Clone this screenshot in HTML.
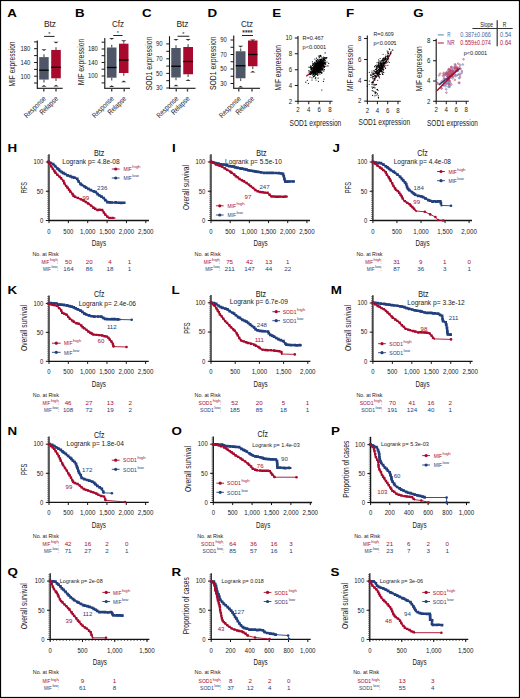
<!DOCTYPE html><html><head><meta charset="utf-8"><style>html,body{margin:0;padding:0;background:#fff;width:520px;height:698px;overflow:hidden}svg{display:block;transform:translateZ(0)}</style></head><body><svg width="520" height="698" viewBox="0 0 520 698" style="font-family:'Liberation Sans', sans-serif"><rect x="0" y="0" width="520" height="698" fill="#fff"/><text x="7.20" y="16.70" font-size="11.4" text-anchor="start" fill="#000" textLength="9.63" lengthAdjust="spacingAndGlyphs" font-weight="bold">A</text>
<text x="50.00" y="27.04" font-size="9.0" text-anchor="middle" fill="#1a1a1a" textLength="12.20" lengthAdjust="spacingAndGlyphs">Btz</text>
<line x1="37.30" y1="40.50" x2="37.30" y2="88.50" stroke="#151515" stroke-width="1.1"/>
<line x1="36.80" y1="88.30" x2="62.70" y2="88.30" stroke="#151515" stroke-width="1.1"/>
<line x1="34.10" y1="48.70" x2="37.30" y2="48.70" stroke="#151515" stroke-width="1"/>
<text x="30.30" y="51.00" font-size="6.4" text-anchor="end" fill="#1a1a1a" textLength="9.90" lengthAdjust="spacingAndGlyphs">180</text>
<line x1="34.10" y1="62.50" x2="37.30" y2="62.50" stroke="#151515" stroke-width="1"/>
<text x="30.30" y="64.80" font-size="6.4" text-anchor="end" fill="#1a1a1a" textLength="9.90" lengthAdjust="spacingAndGlyphs">140</text>
<line x1="34.10" y1="76.20" x2="37.30" y2="76.20" stroke="#151515" stroke-width="1"/>
<text x="30.30" y="78.50" font-size="6.4" text-anchor="end" fill="#1a1a1a" textLength="9.90" lengthAdjust="spacingAndGlyphs">100</text>
<line x1="34.10" y1="41.90" x2="37.30" y2="41.90" stroke="#151515" stroke-width="1"/>
<line x1="34.10" y1="55.60" x2="37.30" y2="55.60" stroke="#151515" stroke-width="1"/>
<line x1="34.10" y1="69.40" x2="37.30" y2="69.40" stroke="#151515" stroke-width="1"/>
<line x1="34.10" y1="83.00" x2="37.30" y2="83.00" stroke="#151515" stroke-width="1"/>
<text x="0" y="3.10" font-size="8.6" text-anchor="middle" fill="#1a1a1a" textLength="45.00" lengthAdjust="spacingAndGlyphs" transform="translate(12.30 64.00) rotate(-90)">MIF expression</text>
<line x1="43.95" y1="57.10" x2="43.95" y2="54.30" stroke="#666" stroke-width="1.3"/>
<line x1="43.95" y1="79.60" x2="43.95" y2="82.40" stroke="#666" stroke-width="1.3"/>
<path d="M41.35 49.30L46.55 49.30L43.95 51.10Z" fill="#333"/>
<path d="M41.35 86.80L46.55 86.80L43.95 85.00Z" fill="#333"/>
<rect x="39.20" y="57.10" width="9.50" height="22.50" fill="#4F5668"/>
<line x1="39.20" y1="70.20" x2="48.70" y2="70.20" stroke="#000" stroke-width="1.3"/>
<line x1="56.00" y1="50.00" x2="56.00" y2="47.20" stroke="#666" stroke-width="1.3"/>
<line x1="56.00" y1="78.30" x2="56.00" y2="81.10" stroke="#666" stroke-width="1.3"/>
<path d="M53.40 41.80L58.60 41.80L56.00 43.60Z" fill="#333"/>
<path d="M53.40 86.50L58.60 86.50L56.00 84.70Z" fill="#333"/>
<rect x="51.20" y="50.00" width="9.60" height="28.30" fill="#A80A2E"/>
<line x1="51.20" y1="67.30" x2="60.80" y2="67.30" stroke="#000" stroke-width="1.3"/>
<line x1="43.80" y1="88.30" x2="43.80" y2="91.60" stroke="#444" stroke-width="1.4"/>
<line x1="56.00" y1="88.30" x2="56.00" y2="91.60" stroke="#444" stroke-width="1.4"/>
<line x1="44.10" y1="36.40" x2="54.60" y2="36.40" stroke="#222" stroke-width="1"/>
<text x="49.35" y="35.82" font-size="5.6" text-anchor="middle" fill="#1a1a1a">*</text>
<text x="0" y="0" font-size="7.4" text-anchor="end" fill="#1a1a1a" textLength="27.5" lengthAdjust="spacingAndGlyphs" transform="translate(44.60 97.20) rotate(-45) translate(0 2.6)">Response</text>
<text x="0" y="0" font-size="7.4" text-anchor="end" fill="#1a1a1a" textLength="23.0" lengthAdjust="spacingAndGlyphs" transform="translate(56.80 97.20) rotate(-45) translate(0 2.6)">Relapse</text>
<text x="75.00" y="16.70" font-size="11.4" text-anchor="start" fill="#000" textLength="9.63" lengthAdjust="spacingAndGlyphs" font-weight="bold">B</text>
<text x="118.00" y="27.04" font-size="9.0" text-anchor="middle" fill="#1a1a1a" textLength="12.20" lengthAdjust="spacingAndGlyphs">Cfz</text>
<line x1="104.80" y1="37.90" x2="104.80" y2="88.50" stroke="#151515" stroke-width="1.1"/>
<line x1="104.30" y1="88.30" x2="130.00" y2="88.30" stroke="#151515" stroke-width="1.1"/>
<line x1="101.60" y1="49.00" x2="104.80" y2="49.00" stroke="#151515" stroke-width="1"/>
<text x="97.80" y="51.30" font-size="6.4" text-anchor="end" fill="#1a1a1a" textLength="9.90" lengthAdjust="spacingAndGlyphs">180</text>
<line x1="101.60" y1="62.50" x2="104.80" y2="62.50" stroke="#151515" stroke-width="1"/>
<text x="97.80" y="64.80" font-size="6.4" text-anchor="end" fill="#1a1a1a" textLength="9.90" lengthAdjust="spacingAndGlyphs">140</text>
<line x1="101.60" y1="76.00" x2="104.80" y2="76.00" stroke="#151515" stroke-width="1"/>
<text x="97.80" y="78.30" font-size="6.4" text-anchor="end" fill="#1a1a1a" textLength="9.90" lengthAdjust="spacingAndGlyphs">100</text>
<line x1="101.60" y1="42.20" x2="104.80" y2="42.20" stroke="#151515" stroke-width="1"/>
<line x1="101.60" y1="55.70" x2="104.80" y2="55.70" stroke="#151515" stroke-width="1"/>
<line x1="101.60" y1="69.20" x2="104.80" y2="69.20" stroke="#151515" stroke-width="1"/>
<line x1="101.60" y1="82.90" x2="104.80" y2="82.90" stroke="#151515" stroke-width="1"/>
<text x="0" y="3.10" font-size="8.6" text-anchor="middle" fill="#1a1a1a" textLength="46.60" lengthAdjust="spacingAndGlyphs" transform="translate(80.50 62.00) rotate(-90)">MIF expression</text>
<line x1="111.70" y1="47.50" x2="111.70" y2="44.70" stroke="#666" stroke-width="1.3"/>
<line x1="111.70" y1="77.70" x2="111.70" y2="80.50" stroke="#666" stroke-width="1.3"/>
<path d="M109.10 38.00L114.30 38.00L111.70 39.80Z" fill="#333"/>
<path d="M109.10 87.00L114.30 87.00L111.70 85.20Z" fill="#333"/>
<rect x="106.90" y="47.50" width="9.60" height="30.20" fill="#4F5668"/>
<line x1="106.90" y1="67.50" x2="116.50" y2="67.50" stroke="#000" stroke-width="1.3"/>
<line x1="123.75" y1="43.70" x2="123.75" y2="42.30" stroke="#666" stroke-width="1.3"/>
<line x1="123.75" y1="73.00" x2="123.75" y2="75.80" stroke="#666" stroke-width="1.3"/>
<path d="M121.15 40.30L126.35 40.30L123.75 42.10Z" fill="#333"/>
<path d="M121.15 82.20L126.35 82.20L123.75 80.40Z" fill="#333"/>
<rect x="119.00" y="43.70" width="9.50" height="29.30" fill="#A80A2E"/>
<line x1="119.00" y1="60.00" x2="128.50" y2="60.00" stroke="#000" stroke-width="1.3"/>
<line x1="111.70" y1="88.30" x2="111.70" y2="91.60" stroke="#444" stroke-width="1.4"/>
<line x1="124.20" y1="88.30" x2="124.20" y2="91.60" stroke="#444" stroke-width="1.4"/>
<line x1="113.25" y1="35.50" x2="122.50" y2="35.50" stroke="#222" stroke-width="1"/>
<text x="117.88" y="34.92" font-size="5.6" text-anchor="middle" fill="#1a1a1a">*</text>
<text x="0" y="0" font-size="7.4" text-anchor="end" fill="#1a1a1a" textLength="27.5" lengthAdjust="spacingAndGlyphs" transform="translate(112.50 97.20) rotate(-45) translate(0 2.6)">Response</text>
<text x="0" y="0" font-size="7.4" text-anchor="end" fill="#1a1a1a" textLength="23.0" lengthAdjust="spacingAndGlyphs" transform="translate(125.00 97.20) rotate(-45) translate(0 2.6)">Relapse</text>
<text x="142.00" y="16.70" font-size="11.4" text-anchor="start" fill="#000" textLength="9.63" lengthAdjust="spacingAndGlyphs" font-weight="bold">C</text>
<text x="182.50" y="27.04" font-size="9.0" text-anchor="middle" fill="#1a1a1a" textLength="12.20" lengthAdjust="spacingAndGlyphs">Btz</text>
<line x1="169.50" y1="36.25" x2="169.50" y2="88.50" stroke="#151515" stroke-width="1.1"/>
<line x1="169.00" y1="88.30" x2="195.50" y2="88.30" stroke="#151515" stroke-width="1.1"/>
<line x1="166.30" y1="43.90" x2="169.50" y2="43.90" stroke="#151515" stroke-width="1"/>
<text x="162.50" y="46.20" font-size="6.4" text-anchor="end" fill="#1a1a1a" textLength="6.60" lengthAdjust="spacingAndGlyphs">90</text>
<line x1="166.30" y1="58.80" x2="169.50" y2="58.80" stroke="#151515" stroke-width="1"/>
<text x="162.50" y="61.10" font-size="6.4" text-anchor="end" fill="#1a1a1a" textLength="6.60" lengthAdjust="spacingAndGlyphs">70</text>
<line x1="166.30" y1="73.40" x2="169.50" y2="73.40" stroke="#151515" stroke-width="1"/>
<text x="162.50" y="75.70" font-size="6.4" text-anchor="end" fill="#1a1a1a" textLength="6.60" lengthAdjust="spacingAndGlyphs">50</text>
<line x1="166.30" y1="88.00" x2="169.50" y2="88.00" stroke="#151515" stroke-width="1"/>
<text x="162.50" y="90.30" font-size="6.4" text-anchor="end" fill="#1a1a1a" textLength="6.60" lengthAdjust="spacingAndGlyphs">30</text>
<line x1="166.30" y1="51.30" x2="169.50" y2="51.30" stroke="#151515" stroke-width="1"/>
<line x1="166.30" y1="66.10" x2="169.50" y2="66.10" stroke="#151515" stroke-width="1"/>
<line x1="166.30" y1="80.70" x2="169.50" y2="80.70" stroke="#151515" stroke-width="1"/>
<text x="0" y="3.10" font-size="8.6" text-anchor="middle" fill="#1a1a1a" textLength="53.70" lengthAdjust="spacingAndGlyphs" transform="translate(148.60 63.40) rotate(-90)">SOD1 expression</text>
<line x1="176.00" y1="48.00" x2="176.00" y2="45.20" stroke="#666" stroke-width="1.3"/>
<line x1="176.00" y1="77.50" x2="176.00" y2="80.30" stroke="#666" stroke-width="1.3"/>
<path d="M173.40 39.00L178.60 39.00L176.00 40.80Z" fill="#333"/>
<path d="M173.40 86.25L178.60 86.25L176.00 84.45Z" fill="#333"/>
<rect x="171.25" y="48.00" width="9.50" height="29.50" fill="#4F5668"/>
<line x1="171.25" y1="66.25" x2="180.75" y2="66.25" stroke="#000" stroke-width="1.3"/>
<line x1="188.12" y1="47.00" x2="188.12" y2="44.20" stroke="#666" stroke-width="1.3"/>
<line x1="188.12" y1="74.25" x2="188.12" y2="77.05" stroke="#666" stroke-width="1.3"/>
<path d="M185.53 39.00L190.72 39.00L188.12 40.80Z" fill="#333"/>
<path d="M185.53 81.00L190.72 81.00L188.12 79.20Z" fill="#333"/>
<rect x="183.25" y="47.00" width="9.75" height="27.25" fill="#A80A2E"/>
<line x1="183.25" y1="61.50" x2="193.00" y2="61.50" stroke="#000" stroke-width="1.3"/>
<line x1="176.25" y1="88.30" x2="176.25" y2="91.60" stroke="#444" stroke-width="1.4"/>
<line x1="187.50" y1="88.30" x2="187.50" y2="91.60" stroke="#444" stroke-width="1.4"/>
<line x1="177.50" y1="36.25" x2="189.25" y2="36.25" stroke="#222" stroke-width="1"/>
<text x="183.38" y="35.67" font-size="5.6" text-anchor="middle" fill="#1a1a1a">*</text>
<text x="0" y="0" font-size="7.4" text-anchor="end" fill="#1a1a1a" textLength="27.5" lengthAdjust="spacingAndGlyphs" transform="translate(177.05 97.20) rotate(-45) translate(0 2.6)">Response</text>
<text x="0" y="0" font-size="7.4" text-anchor="end" fill="#1a1a1a" textLength="23.0" lengthAdjust="spacingAndGlyphs" transform="translate(188.30 97.20) rotate(-45) translate(0 2.6)">Relapse</text>
<text x="207.50" y="16.70" font-size="11.4" text-anchor="start" fill="#000" textLength="9.63" lengthAdjust="spacingAndGlyphs" font-weight="bold">D</text>
<text x="247.00" y="27.04" font-size="9.0" text-anchor="middle" fill="#1a1a1a" textLength="12.20" lengthAdjust="spacingAndGlyphs">Ctz</text>
<line x1="233.75" y1="35.50" x2="233.75" y2="88.50" stroke="#151515" stroke-width="1.1"/>
<line x1="233.25" y1="88.30" x2="260.00" y2="88.30" stroke="#151515" stroke-width="1.1"/>
<line x1="230.55" y1="40.00" x2="233.75" y2="40.00" stroke="#151515" stroke-width="1"/>
<text x="226.75" y="42.30" font-size="6.4" text-anchor="end" fill="#1a1a1a" textLength="6.60" lengthAdjust="spacingAndGlyphs">90</text>
<line x1="230.55" y1="54.50" x2="233.75" y2="54.50" stroke="#151515" stroke-width="1"/>
<text x="226.75" y="56.80" font-size="6.4" text-anchor="end" fill="#1a1a1a" textLength="6.60" lengthAdjust="spacingAndGlyphs">70</text>
<line x1="230.55" y1="69.00" x2="233.75" y2="69.00" stroke="#151515" stroke-width="1"/>
<text x="226.75" y="71.30" font-size="6.4" text-anchor="end" fill="#1a1a1a" textLength="6.60" lengthAdjust="spacingAndGlyphs">50</text>
<line x1="230.55" y1="83.50" x2="233.75" y2="83.50" stroke="#151515" stroke-width="1"/>
<text x="226.75" y="85.80" font-size="6.4" text-anchor="end" fill="#1a1a1a" textLength="6.60" lengthAdjust="spacingAndGlyphs">30</text>
<line x1="230.55" y1="47.25" x2="233.75" y2="47.25" stroke="#151515" stroke-width="1"/>
<line x1="230.55" y1="61.75" x2="233.75" y2="61.75" stroke="#151515" stroke-width="1"/>
<line x1="230.55" y1="76.25" x2="233.75" y2="76.25" stroke="#151515" stroke-width="1"/>
<text x="0" y="3.10" font-size="8.6" text-anchor="middle" fill="#1a1a1a" textLength="53.70" lengthAdjust="spacingAndGlyphs" transform="translate(212.50 63.20) rotate(-90)">SOD1 expression</text>
<line x1="240.62" y1="51.25" x2="240.62" y2="48.45" stroke="#666" stroke-width="1.3"/>
<line x1="240.62" y1="78.25" x2="240.62" y2="81.05" stroke="#666" stroke-width="1.3"/>
<path d="M238.03 45.75L243.22 45.75L240.62 47.55Z" fill="#333"/>
<path d="M238.03 87.50L243.22 87.50L240.62 85.70Z" fill="#333"/>
<rect x="235.75" y="51.25" width="9.75" height="27.00" fill="#4F5668"/>
<line x1="235.75" y1="65.75" x2="245.50" y2="65.75" stroke="#000" stroke-width="1.3"/>
<line x1="252.75" y1="40.50" x2="252.75" y2="40.30" stroke="#666" stroke-width="1.3"/>
<line x1="252.75" y1="66.25" x2="252.75" y2="69.05" stroke="#666" stroke-width="1.3"/>
<path d="M250.15 39.50L255.35 39.50L252.75 41.30Z" fill="#333"/>
<path d="M250.15 72.50L255.35 72.50L252.75 70.70Z" fill="#333"/>
<rect x="248.00" y="40.50" width="9.50" height="25.75" fill="#A80A2E"/>
<line x1="248.00" y1="54.50" x2="257.50" y2="54.50" stroke="#000" stroke-width="1.3"/>
<line x1="238.75" y1="88.30" x2="238.75" y2="91.60" stroke="#444" stroke-width="1.4"/>
<line x1="252.00" y1="88.30" x2="252.00" y2="91.60" stroke="#444" stroke-width="1.4"/>
<line x1="242.00" y1="35.50" x2="253.00" y2="35.50" stroke="#222" stroke-width="1"/>
<text x="247.50" y="35.28" font-size="6.6" text-anchor="middle" fill="#1a1a1a" stroke="#1a1a1a" stroke-width="0.12">****</text>
<text x="0" y="0" font-size="7.4" text-anchor="end" fill="#1a1a1a" textLength="27.5" lengthAdjust="spacingAndGlyphs" transform="translate(239.55 97.20) rotate(-45) translate(0 2.6)">Response</text>
<text x="0" y="0" font-size="7.4" text-anchor="end" fill="#1a1a1a" textLength="23.0" lengthAdjust="spacingAndGlyphs" transform="translate(252.80 97.20) rotate(-45) translate(0 2.6)">Relapse</text>
<text x="272.20" y="16.70" font-size="11.4" text-anchor="start" fill="#000" textLength="8.90" lengthAdjust="spacingAndGlyphs" font-weight="bold">E</text>
<line x1="298.00" y1="36.00" x2="298.00" y2="101.50" stroke="#151515" stroke-width="1.1"/>
<line x1="297.50" y1="101.20" x2="332.50" y2="101.20" stroke="#151515" stroke-width="1.1"/>
<line x1="294.80" y1="38.00" x2="298.00" y2="38.00" stroke="#151515" stroke-width="1"/>
<text x="292.20" y="40.30" font-size="6.4" text-anchor="end" fill="#1a1a1a" textLength="6.80" lengthAdjust="spacingAndGlyphs">10</text>
<line x1="294.80" y1="53.75" x2="298.00" y2="53.75" stroke="#151515" stroke-width="1"/>
<text x="292.20" y="56.05" font-size="6.4" text-anchor="end" fill="#1a1a1a" textLength="3.40" lengthAdjust="spacingAndGlyphs">8</text>
<line x1="294.80" y1="69.75" x2="298.00" y2="69.75" stroke="#151515" stroke-width="1"/>
<text x="292.20" y="72.05" font-size="6.4" text-anchor="end" fill="#1a1a1a" textLength="3.40" lengthAdjust="spacingAndGlyphs">6</text>
<line x1="294.80" y1="85.50" x2="298.00" y2="85.50" stroke="#151515" stroke-width="1"/>
<text x="292.20" y="87.80" font-size="6.4" text-anchor="end" fill="#1a1a1a" textLength="3.40" lengthAdjust="spacingAndGlyphs">4</text>
<line x1="294.80" y1="101.25" x2="298.00" y2="101.25" stroke="#151515" stroke-width="1"/>
<text x="292.20" y="103.55" font-size="6.4" text-anchor="end" fill="#1a1a1a" textLength="3.40" lengthAdjust="spacingAndGlyphs">2</text>
<line x1="298.00" y1="101.20" x2="298.00" y2="104.20" stroke="#151515" stroke-width="1"/>
<text x="298.00" y="112.30" font-size="6.4" text-anchor="middle" fill="#1a1a1a" textLength="3.40" lengthAdjust="spacingAndGlyphs">2</text>
<line x1="308.75" y1="101.20" x2="308.75" y2="104.20" stroke="#151515" stroke-width="1"/>
<text x="308.75" y="112.30" font-size="6.4" text-anchor="middle" fill="#1a1a1a" textLength="3.40" lengthAdjust="spacingAndGlyphs">4</text>
<line x1="319.25" y1="101.20" x2="319.25" y2="104.20" stroke="#151515" stroke-width="1"/>
<text x="319.25" y="112.30" font-size="6.4" text-anchor="middle" fill="#1a1a1a" textLength="3.40" lengthAdjust="spacingAndGlyphs">6</text>
<line x1="330.00" y1="101.20" x2="330.00" y2="104.20" stroke="#151515" stroke-width="1"/>
<text x="330.00" y="112.30" font-size="6.4" text-anchor="middle" fill="#1a1a1a" textLength="3.40" lengthAdjust="spacingAndGlyphs">8</text>
<text x="0" y="3.10" font-size="8.6" text-anchor="middle" fill="#1a1a1a" textLength="45.50" lengthAdjust="spacingAndGlyphs" transform="translate(277.50 67.75) rotate(-90)">MIF expression</text>
<text x="315.40" y="125.60" font-size="8.6" text-anchor="middle" fill="#1a1a1a" textLength="51.75" lengthAdjust="spacingAndGlyphs">SOD1 expression</text>
<text x="302.50" y="40.02" font-size="5.6" text-anchor="start" fill="#1a1a1a" textLength="21.20" lengthAdjust="spacingAndGlyphs">R=0.467</text>
<text x="302.50" y="48.82" font-size="5.6" text-anchor="start" fill="#1a1a1a" textLength="23.70" lengthAdjust="spacingAndGlyphs">p&lt;0.0001</text>
<line x1="306.20" y1="76.10" x2="325.30" y2="63.20" stroke="#C8102E" stroke-width="1.3"/>
<circle cx="321.04" cy="68.37" r="0.62" fill="#000"/>
<circle cx="317.50" cy="71.85" r="0.62" fill="#000"/>
<circle cx="317.02" cy="67.38" r="0.62" fill="#000"/>
<circle cx="324.22" cy="59.86" r="0.62" fill="#000"/>
<circle cx="319.61" cy="68.09" r="0.62" fill="#000"/>
<circle cx="321.57" cy="62.49" r="0.62" fill="#000"/>
<circle cx="318.12" cy="63.08" r="0.62" fill="#000"/>
<circle cx="316.35" cy="67.51" r="0.62" fill="#000"/>
<circle cx="311.39" cy="69.52" r="0.62" fill="#000"/>
<circle cx="313.02" cy="72.59" r="0.62" fill="#000"/>
<circle cx="317.16" cy="66.96" r="0.62" fill="#000"/>
<circle cx="315.87" cy="64.48" r="0.62" fill="#000"/>
<circle cx="318.53" cy="67.47" r="0.62" fill="#000"/>
<circle cx="318.85" cy="62.66" r="0.62" fill="#000"/>
<circle cx="313.15" cy="65.21" r="0.62" fill="#000"/>
<circle cx="312.48" cy="65.32" r="0.62" fill="#000"/>
<circle cx="316.28" cy="73.86" r="0.62" fill="#000"/>
<circle cx="313.37" cy="76.36" r="0.62" fill="#000"/>
<circle cx="318.65" cy="65.08" r="0.62" fill="#000"/>
<circle cx="320.70" cy="65.87" r="0.62" fill="#000"/>
<circle cx="320.94" cy="62.49" r="0.62" fill="#000"/>
<circle cx="315.36" cy="68.11" r="0.62" fill="#000"/>
<circle cx="315.30" cy="70.46" r="0.62" fill="#000"/>
<circle cx="318.08" cy="71.42" r="0.62" fill="#000"/>
<circle cx="310.62" cy="72.19" r="0.62" fill="#000"/>
<circle cx="311.36" cy="67.18" r="0.62" fill="#000"/>
<circle cx="319.18" cy="55.90" r="0.62" fill="#000"/>
<circle cx="316.43" cy="67.06" r="0.62" fill="#000"/>
<circle cx="319.28" cy="57.48" r="0.62" fill="#000"/>
<circle cx="320.03" cy="61.62" r="0.62" fill="#000"/>
<circle cx="316.52" cy="66.35" r="0.62" fill="#000"/>
<circle cx="317.95" cy="62.63" r="0.62" fill="#000"/>
<circle cx="318.76" cy="67.64" r="0.62" fill="#000"/>
<circle cx="319.00" cy="56.14" r="0.62" fill="#000"/>
<circle cx="324.67" cy="62.49" r="0.62" fill="#000"/>
<circle cx="317.47" cy="69.10" r="0.62" fill="#000"/>
<circle cx="320.17" cy="71.10" r="0.62" fill="#000"/>
<circle cx="318.49" cy="65.68" r="0.62" fill="#000"/>
<circle cx="317.23" cy="67.35" r="0.62" fill="#000"/>
<circle cx="316.05" cy="66.12" r="0.62" fill="#000"/>
<circle cx="320.62" cy="56.07" r="0.62" fill="#000"/>
<circle cx="307.40" cy="80.25" r="0.62" fill="#000"/>
<circle cx="318.60" cy="67.93" r="0.62" fill="#000"/>
<circle cx="317.40" cy="67.35" r="0.62" fill="#000"/>
<circle cx="321.19" cy="67.03" r="0.62" fill="#000"/>
<circle cx="316.24" cy="67.92" r="0.62" fill="#000"/>
<circle cx="325.08" cy="60.28" r="0.62" fill="#000"/>
<circle cx="319.97" cy="74.10" r="0.62" fill="#000"/>
<circle cx="319.43" cy="62.96" r="0.62" fill="#000"/>
<circle cx="315.42" cy="71.70" r="0.62" fill="#000"/>
<circle cx="313.76" cy="68.32" r="0.62" fill="#000"/>
<circle cx="313.47" cy="70.92" r="0.62" fill="#000"/>
<circle cx="320.72" cy="61.94" r="0.62" fill="#000"/>
<circle cx="315.33" cy="73.31" r="0.62" fill="#000"/>
<circle cx="320.16" cy="67.85" r="0.62" fill="#000"/>
<circle cx="321.52" cy="61.99" r="0.62" fill="#000"/>
<circle cx="317.78" cy="67.28" r="0.62" fill="#000"/>
<circle cx="316.26" cy="72.12" r="0.62" fill="#000"/>
<circle cx="322.70" cy="61.88" r="0.62" fill="#000"/>
<circle cx="317.09" cy="67.30" r="0.62" fill="#000"/>
<circle cx="314.41" cy="68.52" r="0.62" fill="#000"/>
<circle cx="315.46" cy="67.02" r="0.62" fill="#000"/>
<circle cx="313.90" cy="66.03" r="0.62" fill="#000"/>
<circle cx="319.43" cy="65.55" r="0.62" fill="#000"/>
<circle cx="310.37" cy="67.62" r="0.62" fill="#000"/>
<circle cx="320.45" cy="68.53" r="0.62" fill="#000"/>
<circle cx="315.18" cy="68.83" r="0.62" fill="#000"/>
<circle cx="317.91" cy="69.96" r="0.62" fill="#000"/>
<circle cx="317.54" cy="71.78" r="0.62" fill="#000"/>
<circle cx="319.23" cy="69.37" r="0.62" fill="#000"/>
<circle cx="317.94" cy="66.32" r="0.62" fill="#000"/>
<circle cx="312.58" cy="71.33" r="0.62" fill="#000"/>
<circle cx="318.83" cy="68.80" r="0.62" fill="#000"/>
<circle cx="317.65" cy="64.80" r="0.62" fill="#000"/>
<circle cx="321.46" cy="66.77" r="0.62" fill="#000"/>
<circle cx="317.00" cy="66.69" r="0.62" fill="#000"/>
<circle cx="318.73" cy="69.54" r="0.62" fill="#000"/>
<circle cx="318.06" cy="63.33" r="0.62" fill="#000"/>
<circle cx="318.46" cy="64.64" r="0.62" fill="#000"/>
<circle cx="318.52" cy="71.55" r="0.62" fill="#000"/>
<circle cx="319.30" cy="62.58" r="0.62" fill="#000"/>
<circle cx="319.52" cy="67.27" r="0.62" fill="#000"/>
<circle cx="316.17" cy="69.03" r="0.62" fill="#000"/>
<circle cx="316.75" cy="61.52" r="0.62" fill="#000"/>
<circle cx="320.72" cy="66.70" r="0.62" fill="#000"/>
<circle cx="317.15" cy="62.83" r="0.62" fill="#000"/>
<circle cx="317.54" cy="64.27" r="0.62" fill="#000"/>
<circle cx="321.18" cy="65.57" r="0.62" fill="#000"/>
<circle cx="317.43" cy="64.80" r="0.62" fill="#000"/>
<circle cx="318.24" cy="70.35" r="0.62" fill="#000"/>
<circle cx="316.62" cy="70.96" r="0.62" fill="#000"/>
<circle cx="319.26" cy="64.44" r="0.62" fill="#000"/>
<circle cx="325.51" cy="57.85" r="0.62" fill="#000"/>
<circle cx="320.67" cy="55.58" r="0.62" fill="#000"/>
<circle cx="313.60" cy="76.80" r="0.62" fill="#000"/>
<circle cx="319.56" cy="63.91" r="0.62" fill="#000"/>
<circle cx="314.39" cy="64.07" r="0.62" fill="#000"/>
<circle cx="314.41" cy="67.59" r="0.62" fill="#000"/>
<circle cx="319.39" cy="69.00" r="0.62" fill="#000"/>
<circle cx="319.19" cy="67.17" r="0.62" fill="#000"/>
<circle cx="315.38" cy="68.77" r="0.62" fill="#000"/>
<circle cx="318.08" cy="65.94" r="0.62" fill="#000"/>
<circle cx="320.31" cy="60.67" r="0.62" fill="#000"/>
<circle cx="321.96" cy="58.14" r="0.62" fill="#000"/>
<circle cx="319.91" cy="61.60" r="0.62" fill="#000"/>
<circle cx="323.44" cy="60.78" r="0.62" fill="#000"/>
<circle cx="320.94" cy="66.44" r="0.62" fill="#000"/>
<circle cx="314.37" cy="67.60" r="0.62" fill="#000"/>
<circle cx="314.71" cy="76.34" r="0.62" fill="#000"/>
<circle cx="315.08" cy="68.52" r="0.62" fill="#000"/>
<circle cx="322.13" cy="69.98" r="0.62" fill="#000"/>
<circle cx="313.68" cy="73.72" r="0.62" fill="#000"/>
<circle cx="318.18" cy="69.12" r="0.62" fill="#000"/>
<circle cx="312.20" cy="72.99" r="0.62" fill="#000"/>
<circle cx="323.86" cy="66.02" r="0.62" fill="#000"/>
<circle cx="321.33" cy="59.44" r="0.62" fill="#000"/>
<circle cx="318.25" cy="66.42" r="0.62" fill="#000"/>
<circle cx="311.39" cy="69.79" r="0.62" fill="#000"/>
<circle cx="321.02" cy="64.31" r="0.62" fill="#000"/>
<circle cx="320.27" cy="69.21" r="0.62" fill="#000"/>
<circle cx="316.38" cy="71.40" r="0.62" fill="#000"/>
<circle cx="318.21" cy="66.67" r="0.62" fill="#000"/>
<circle cx="320.10" cy="65.22" r="0.62" fill="#000"/>
<circle cx="319.61" cy="66.20" r="0.62" fill="#000"/>
<circle cx="323.42" cy="58.99" r="0.62" fill="#000"/>
<circle cx="322.49" cy="63.91" r="0.62" fill="#000"/>
<circle cx="318.83" cy="69.35" r="0.62" fill="#000"/>
<circle cx="318.05" cy="71.83" r="0.62" fill="#000"/>
<circle cx="314.94" cy="69.11" r="0.62" fill="#000"/>
<circle cx="320.89" cy="66.86" r="0.62" fill="#000"/>
<circle cx="322.74" cy="64.74" r="0.62" fill="#000"/>
<circle cx="315.80" cy="66.11" r="0.62" fill="#000"/>
<circle cx="320.52" cy="65.18" r="0.62" fill="#000"/>
<circle cx="317.40" cy="71.90" r="0.62" fill="#000"/>
<circle cx="317.00" cy="64.57" r="0.62" fill="#000"/>
<circle cx="316.99" cy="63.09" r="0.62" fill="#000"/>
<circle cx="316.50" cy="70.74" r="0.62" fill="#000"/>
<circle cx="313.77" cy="72.75" r="0.62" fill="#000"/>
<circle cx="315.76" cy="73.05" r="0.62" fill="#000"/>
<circle cx="316.51" cy="69.83" r="0.62" fill="#000"/>
<circle cx="313.18" cy="71.95" r="0.62" fill="#000"/>
<circle cx="322.00" cy="63.92" r="0.62" fill="#000"/>
<circle cx="314.69" cy="75.18" r="0.62" fill="#000"/>
<circle cx="320.20" cy="62.85" r="0.62" fill="#000"/>
<circle cx="320.40" cy="59.81" r="0.62" fill="#000"/>
<circle cx="320.24" cy="68.84" r="0.62" fill="#000"/>
<circle cx="324.69" cy="63.81" r="0.62" fill="#000"/>
<circle cx="311.56" cy="68.20" r="0.62" fill="#000"/>
<circle cx="316.64" cy="63.12" r="0.62" fill="#000"/>
<circle cx="315.39" cy="65.32" r="0.62" fill="#000"/>
<circle cx="323.02" cy="64.02" r="0.62" fill="#000"/>
<circle cx="319.98" cy="64.72" r="0.62" fill="#000"/>
<circle cx="317.85" cy="66.17" r="0.62" fill="#000"/>
<circle cx="319.92" cy="65.73" r="0.62" fill="#000"/>
<circle cx="318.81" cy="64.40" r="0.62" fill="#000"/>
<circle cx="324.47" cy="60.05" r="0.62" fill="#000"/>
<circle cx="325.04" cy="63.57" r="0.62" fill="#000"/>
<circle cx="312.38" cy="67.53" r="0.62" fill="#000"/>
<circle cx="321.25" cy="61.45" r="0.62" fill="#000"/>
<circle cx="318.03" cy="66.09" r="0.62" fill="#000"/>
<circle cx="316.34" cy="64.47" r="0.62" fill="#000"/>
<circle cx="317.08" cy="66.48" r="0.62" fill="#000"/>
<circle cx="313.65" cy="63.26" r="0.62" fill="#000"/>
<circle cx="321.38" cy="64.21" r="0.62" fill="#000"/>
<circle cx="311.75" cy="72.20" r="0.62" fill="#000"/>
<circle cx="319.63" cy="67.65" r="0.62" fill="#000"/>
<circle cx="321.03" cy="68.93" r="0.62" fill="#000"/>
<circle cx="316.40" cy="65.18" r="0.62" fill="#000"/>
<circle cx="317.77" cy="70.50" r="0.62" fill="#000"/>
<circle cx="318.14" cy="70.41" r="0.62" fill="#000"/>
<circle cx="322.47" cy="63.85" r="0.62" fill="#000"/>
<circle cx="320.96" cy="62.68" r="0.62" fill="#000"/>
<circle cx="317.11" cy="65.93" r="0.62" fill="#000"/>
<circle cx="313.41" cy="66.70" r="0.62" fill="#000"/>
<circle cx="314.55" cy="67.25" r="0.62" fill="#000"/>
<circle cx="314.37" cy="72.43" r="0.62" fill="#000"/>
<circle cx="318.97" cy="64.55" r="0.62" fill="#000"/>
<circle cx="324.20" cy="63.07" r="0.62" fill="#000"/>
<circle cx="320.20" cy="61.92" r="0.62" fill="#000"/>
<circle cx="314.99" cy="73.30" r="0.62" fill="#000"/>
<circle cx="320.64" cy="66.75" r="0.62" fill="#000"/>
<circle cx="322.01" cy="67.16" r="0.62" fill="#000"/>
<circle cx="318.76" cy="68.92" r="0.62" fill="#000"/>
<circle cx="311.11" cy="66.63" r="0.62" fill="#000"/>
<circle cx="319.94" cy="70.79" r="0.62" fill="#000"/>
<circle cx="315.35" cy="74.70" r="0.62" fill="#000"/>
<circle cx="315.50" cy="68.75" r="0.62" fill="#000"/>
<circle cx="318.85" cy="66.96" r="0.62" fill="#000"/>
<circle cx="315.67" cy="70.68" r="0.62" fill="#000"/>
<circle cx="321.26" cy="66.41" r="0.62" fill="#000"/>
<circle cx="319.13" cy="72.04" r="0.62" fill="#000"/>
<circle cx="328.69" cy="63.30" r="0.62" fill="#000"/>
<circle cx="314.68" cy="72.14" r="0.62" fill="#000"/>
<circle cx="313.55" cy="74.41" r="0.62" fill="#000"/>
<circle cx="317.68" cy="62.93" r="0.62" fill="#000"/>
<circle cx="313.98" cy="73.09" r="0.62" fill="#000"/>
<circle cx="318.59" cy="63.20" r="0.62" fill="#000"/>
<circle cx="312.55" cy="63.90" r="0.62" fill="#000"/>
<circle cx="316.50" cy="69.70" r="0.62" fill="#000"/>
<circle cx="321.87" cy="68.66" r="0.62" fill="#000"/>
<circle cx="310.49" cy="67.65" r="0.62" fill="#000"/>
<circle cx="318.47" cy="64.18" r="0.62" fill="#000"/>
<circle cx="320.56" cy="66.82" r="0.62" fill="#000"/>
<circle cx="322.92" cy="66.75" r="0.62" fill="#000"/>
<circle cx="319.02" cy="59.12" r="0.62" fill="#000"/>
<circle cx="322.06" cy="70.12" r="0.62" fill="#000"/>
<circle cx="319.00" cy="69.83" r="0.62" fill="#000"/>
<circle cx="317.31" cy="66.36" r="0.62" fill="#000"/>
<circle cx="325.03" cy="62.42" r="0.62" fill="#000"/>
<circle cx="319.37" cy="69.12" r="0.62" fill="#000"/>
<circle cx="312.99" cy="70.65" r="0.62" fill="#000"/>
<circle cx="321.04" cy="63.45" r="0.62" fill="#000"/>
<circle cx="316.05" cy="71.51" r="0.62" fill="#000"/>
<circle cx="321.80" cy="67.53" r="0.62" fill="#000"/>
<circle cx="320.58" cy="62.76" r="0.62" fill="#000"/>
<circle cx="316.60" cy="68.42" r="0.62" fill="#000"/>
<circle cx="320.50" cy="69.92" r="0.62" fill="#000"/>
<circle cx="325.67" cy="62.88" r="0.62" fill="#000"/>
<circle cx="318.94" cy="64.99" r="0.62" fill="#000"/>
<circle cx="320.28" cy="62.85" r="0.62" fill="#000"/>
<circle cx="315.72" cy="63.34" r="0.62" fill="#000"/>
<circle cx="319.89" cy="70.62" r="0.62" fill="#000"/>
<circle cx="312.33" cy="68.39" r="0.62" fill="#000"/>
<circle cx="321.10" cy="69.99" r="0.62" fill="#000"/>
<circle cx="321.88" cy="60.76" r="0.62" fill="#000"/>
<circle cx="316.67" cy="68.44" r="0.62" fill="#000"/>
<circle cx="315.62" cy="70.38" r="0.62" fill="#000"/>
<circle cx="314.50" cy="65.66" r="0.62" fill="#000"/>
<circle cx="316.08" cy="68.60" r="0.62" fill="#000"/>
<circle cx="313.55" cy="68.33" r="0.62" fill="#000"/>
<circle cx="324.71" cy="66.29" r="0.62" fill="#000"/>
<circle cx="316.61" cy="67.23" r="0.62" fill="#000"/>
<circle cx="319.33" cy="64.55" r="0.62" fill="#000"/>
<circle cx="318.73" cy="71.90" r="0.62" fill="#000"/>
<circle cx="313.78" cy="69.61" r="0.62" fill="#000"/>
<circle cx="314.59" cy="67.95" r="0.62" fill="#000"/>
<circle cx="318.73" cy="68.59" r="0.62" fill="#000"/>
<circle cx="323.86" cy="62.37" r="0.62" fill="#000"/>
<circle cx="315.94" cy="64.74" r="0.62" fill="#000"/>
<circle cx="316.26" cy="65.58" r="0.62" fill="#000"/>
<circle cx="319.94" cy="68.68" r="0.62" fill="#000"/>
<circle cx="318.49" cy="65.70" r="0.62" fill="#000"/>
<circle cx="316.03" cy="69.61" r="0.62" fill="#000"/>
<circle cx="316.80" cy="64.95" r="0.62" fill="#000"/>
<circle cx="318.54" cy="70.07" r="0.62" fill="#000"/>
<circle cx="312.52" cy="72.40" r="0.62" fill="#000"/>
<circle cx="317.90" cy="73.59" r="0.62" fill="#000"/>
<circle cx="321.10" cy="65.30" r="0.62" fill="#000"/>
<circle cx="320.04" cy="65.74" r="0.62" fill="#000"/>
<circle cx="316.04" cy="63.26" r="0.62" fill="#000"/>
<circle cx="320.23" cy="66.74" r="0.62" fill="#000"/>
<circle cx="315.70" cy="73.47" r="0.62" fill="#000"/>
<circle cx="317.27" cy="61.93" r="0.62" fill="#000"/>
<circle cx="316.30" cy="68.11" r="0.62" fill="#000"/>
<circle cx="317.51" cy="69.39" r="0.62" fill="#000"/>
<circle cx="314.09" cy="71.29" r="0.62" fill="#000"/>
<circle cx="320.39" cy="67.06" r="0.62" fill="#000"/>
<circle cx="317.97" cy="66.24" r="0.62" fill="#000"/>
<circle cx="316.42" cy="61.13" r="0.62" fill="#000"/>
<circle cx="320.45" cy="62.80" r="0.62" fill="#000"/>
<circle cx="313.76" cy="70.87" r="0.62" fill="#000"/>
<circle cx="308.85" cy="70.59" r="0.62" fill="#000"/>
<circle cx="315.80" cy="66.84" r="0.62" fill="#000"/>
<circle cx="318.72" cy="62.66" r="0.62" fill="#000"/>
<circle cx="312.59" cy="70.22" r="0.62" fill="#000"/>
<circle cx="323.42" cy="60.35" r="0.62" fill="#000"/>
<circle cx="314.54" cy="67.59" r="0.62" fill="#000"/>
<circle cx="314.73" cy="70.70" r="0.62" fill="#000"/>
<circle cx="321.83" cy="66.96" r="0.62" fill="#000"/>
<circle cx="322.22" cy="62.88" r="0.62" fill="#000"/>
<circle cx="314.66" cy="67.97" r="0.62" fill="#000"/>
<circle cx="309.46" cy="73.98" r="0.62" fill="#000"/>
<circle cx="318.87" cy="64.69" r="0.62" fill="#000"/>
<circle cx="316.73" cy="63.33" r="0.62" fill="#000"/>
<circle cx="321.53" cy="63.86" r="0.62" fill="#000"/>
<circle cx="319.21" cy="67.26" r="0.62" fill="#000"/>
<circle cx="310.59" cy="74.40" r="0.62" fill="#000"/>
<circle cx="319.22" cy="72.98" r="0.62" fill="#000"/>
<circle cx="316.76" cy="66.72" r="0.62" fill="#000"/>
<circle cx="318.74" cy="61.95" r="0.62" fill="#000"/>
<circle cx="321.12" cy="60.34" r="0.62" fill="#000"/>
<circle cx="316.32" cy="65.61" r="0.62" fill="#000"/>
<circle cx="316.41" cy="60.40" r="0.62" fill="#000"/>
<circle cx="318.73" cy="62.93" r="0.62" fill="#000"/>
<circle cx="316.18" cy="64.84" r="0.62" fill="#000"/>
<circle cx="319.34" cy="66.22" r="0.62" fill="#000"/>
<circle cx="320.66" cy="65.05" r="0.62" fill="#000"/>
<circle cx="322.10" cy="65.97" r="0.62" fill="#000"/>
<circle cx="314.83" cy="66.46" r="0.62" fill="#000"/>
<circle cx="315.86" cy="72.68" r="0.62" fill="#000"/>
<circle cx="319.26" cy="69.84" r="0.62" fill="#000"/>
<circle cx="316.44" cy="65.07" r="0.62" fill="#000"/>
<circle cx="324.80" cy="66.37" r="0.62" fill="#000"/>
<circle cx="315.92" cy="66.04" r="0.62" fill="#000"/>
<circle cx="317.55" cy="71.37" r="0.62" fill="#000"/>
<circle cx="315.77" cy="68.39" r="0.62" fill="#000"/>
<circle cx="320.35" cy="64.23" r="0.62" fill="#000"/>
<circle cx="317.57" cy="65.53" r="0.62" fill="#000"/>
<circle cx="316.74" cy="69.47" r="0.62" fill="#000"/>
<circle cx="319.92" cy="67.13" r="0.62" fill="#000"/>
<circle cx="317.50" cy="69.22" r="0.62" fill="#000"/>
<circle cx="319.87" cy="65.13" r="0.62" fill="#000"/>
<circle cx="321.98" cy="66.20" r="0.62" fill="#000"/>
<circle cx="319.04" cy="66.17" r="0.62" fill="#000"/>
<circle cx="316.08" cy="70.97" r="0.62" fill="#000"/>
<circle cx="317.41" cy="66.68" r="0.62" fill="#000"/>
<circle cx="316.99" cy="70.80" r="0.62" fill="#000"/>
<circle cx="326.71" cy="57.79" r="0.62" fill="#000"/>
<circle cx="319.42" cy="67.15" r="0.62" fill="#000"/>
<circle cx="316.74" cy="69.19" r="0.62" fill="#000"/>
<circle cx="315.08" cy="68.32" r="0.62" fill="#000"/>
<circle cx="319.44" cy="66.27" r="0.62" fill="#000"/>
<circle cx="316.40" cy="66.00" r="0.62" fill="#000"/>
<circle cx="316.94" cy="64.13" r="0.62" fill="#000"/>
<circle cx="319.90" cy="63.35" r="0.62" fill="#000"/>
<circle cx="319.85" cy="68.01" r="0.62" fill="#000"/>
<circle cx="317.40" cy="62.70" r="0.62" fill="#000"/>
<circle cx="318.29" cy="68.31" r="0.62" fill="#000"/>
<circle cx="310.35" cy="67.21" r="0.62" fill="#000"/>
<circle cx="318.00" cy="67.00" r="0.62" fill="#000"/>
<circle cx="319.73" cy="65.31" r="0.62" fill="#000"/>
<circle cx="319.16" cy="66.67" r="0.62" fill="#000"/>
<circle cx="323.32" cy="62.35" r="0.62" fill="#000"/>
<circle cx="319.13" cy="64.15" r="0.62" fill="#000"/>
<circle cx="321.25" cy="62.27" r="0.62" fill="#000"/>
<circle cx="316.33" cy="60.77" r="0.62" fill="#000"/>
<circle cx="318.83" cy="65.72" r="0.62" fill="#000"/>
<circle cx="319.47" cy="70.52" r="0.62" fill="#000"/>
<circle cx="319.22" cy="65.05" r="0.62" fill="#000"/>
<circle cx="320.44" cy="71.67" r="0.62" fill="#000"/>
<circle cx="321.80" cy="64.98" r="0.62" fill="#000"/>
<circle cx="318.62" cy="71.69" r="0.62" fill="#000"/>
<circle cx="319.42" cy="64.27" r="0.62" fill="#000"/>
<circle cx="314.79" cy="64.69" r="0.62" fill="#000"/>
<circle cx="318.08" cy="62.66" r="0.62" fill="#000"/>
<circle cx="319.92" cy="62.94" r="0.62" fill="#000"/>
<circle cx="317.19" cy="69.72" r="0.62" fill="#000"/>
<circle cx="316.71" cy="64.27" r="0.62" fill="#000"/>
<circle cx="319.27" cy="68.01" r="0.62" fill="#000"/>
<circle cx="314.92" cy="65.68" r="0.62" fill="#000"/>
<circle cx="315.70" cy="66.24" r="0.62" fill="#000"/>
<circle cx="316.69" cy="69.05" r="0.62" fill="#000"/>
<circle cx="317.73" cy="66.68" r="0.62" fill="#000"/>
<circle cx="314.11" cy="73.57" r="0.62" fill="#000"/>
<circle cx="316.91" cy="66.93" r="0.62" fill="#000"/>
<circle cx="322.54" cy="69.17" r="0.62" fill="#000"/>
<circle cx="311.35" cy="69.20" r="0.62" fill="#000"/>
<circle cx="319.00" cy="62.72" r="0.62" fill="#000"/>
<circle cx="320.20" cy="60.39" r="0.62" fill="#000"/>
<circle cx="318.51" cy="69.91" r="0.62" fill="#000"/>
<circle cx="321.85" cy="64.05" r="0.62" fill="#000"/>
<circle cx="319.38" cy="64.89" r="0.62" fill="#000"/>
<circle cx="316.60" cy="68.15" r="0.62" fill="#000"/>
<circle cx="323.42" cy="63.10" r="0.62" fill="#000"/>
<circle cx="318.98" cy="67.22" r="0.62" fill="#000"/>
<circle cx="323.06" cy="65.49" r="0.62" fill="#000"/>
<circle cx="317.76" cy="67.18" r="0.62" fill="#000"/>
<circle cx="324.38" cy="69.55" r="0.62" fill="#000"/>
<circle cx="321.50" cy="67.84" r="0.62" fill="#000"/>
<circle cx="315.45" cy="73.87" r="0.62" fill="#000"/>
<circle cx="312.05" cy="70.43" r="0.62" fill="#000"/>
<circle cx="316.16" cy="68.96" r="0.62" fill="#000"/>
<circle cx="319.55" cy="66.69" r="0.62" fill="#000"/>
<circle cx="318.10" cy="65.29" r="0.62" fill="#000"/>
<circle cx="326.68" cy="57.66" r="0.62" fill="#000"/>
<circle cx="324.22" cy="67.38" r="0.62" fill="#000"/>
<circle cx="322.27" cy="64.05" r="0.62" fill="#000"/>
<circle cx="322.90" cy="68.44" r="0.62" fill="#000"/>
<circle cx="313.26" cy="69.39" r="0.62" fill="#000"/>
<circle cx="314.75" cy="63.14" r="0.62" fill="#000"/>
<circle cx="318.23" cy="71.44" r="0.62" fill="#000"/>
<circle cx="317.27" cy="68.78" r="0.62" fill="#000"/>
<circle cx="318.05" cy="62.43" r="0.62" fill="#000"/>
<circle cx="317.87" cy="64.82" r="0.62" fill="#000"/>
<circle cx="314.56" cy="70.48" r="0.62" fill="#000"/>
<circle cx="317.35" cy="66.40" r="0.62" fill="#000"/>
<circle cx="318.23" cy="70.73" r="0.62" fill="#000"/>
<circle cx="322.76" cy="63.33" r="0.62" fill="#000"/>
<circle cx="315.96" cy="65.56" r="0.62" fill="#000"/>
<circle cx="313.74" cy="68.19" r="0.62" fill="#000"/>
<circle cx="320.70" cy="67.41" r="0.62" fill="#000"/>
<circle cx="320.92" cy="63.35" r="0.62" fill="#000"/>
<circle cx="317.52" cy="68.51" r="0.62" fill="#000"/>
<circle cx="319.82" cy="67.25" r="0.62" fill="#000"/>
<circle cx="321.28" cy="60.23" r="0.62" fill="#000"/>
<circle cx="320.33" cy="55.76" r="0.62" fill="#000"/>
<circle cx="310.14" cy="71.16" r="0.62" fill="#000"/>
<circle cx="314.84" cy="70.28" r="0.62" fill="#000"/>
<circle cx="322.98" cy="57.99" r="0.62" fill="#000"/>
<circle cx="320.83" cy="62.11" r="0.62" fill="#000"/>
<circle cx="316.75" cy="64.68" r="0.62" fill="#000"/>
<circle cx="324.87" cy="58.23" r="0.62" fill="#000"/>
<circle cx="320.94" cy="72.57" r="0.62" fill="#000"/>
<circle cx="319.64" cy="66.75" r="0.62" fill="#000"/>
<circle cx="316.25" cy="66.08" r="0.62" fill="#000"/>
<circle cx="313.77" cy="71.89" r="0.62" fill="#000"/>
<circle cx="323.85" cy="61.39" r="0.62" fill="#000"/>
<circle cx="319.86" cy="69.07" r="0.62" fill="#000"/>
<circle cx="318.26" cy="72.39" r="0.62" fill="#000"/>
<circle cx="316.63" cy="65.60" r="0.62" fill="#000"/>
<circle cx="321.29" cy="65.04" r="0.62" fill="#000"/>
<circle cx="317.71" cy="68.42" r="0.62" fill="#000"/>
<circle cx="323.91" cy="65.28" r="0.62" fill="#000"/>
<circle cx="310.69" cy="65.96" r="0.62" fill="#000"/>
<circle cx="323.78" cy="58.73" r="0.62" fill="#000"/>
<circle cx="317.92" cy="69.02" r="0.62" fill="#000"/>
<circle cx="319.08" cy="69.99" r="0.62" fill="#000"/>
<circle cx="314.26" cy="71.15" r="0.62" fill="#000"/>
<circle cx="317.60" cy="73.83" r="0.62" fill="#000"/>
<circle cx="319.72" cy="69.40" r="0.62" fill="#000"/>
<circle cx="320.03" cy="59.78" r="0.62" fill="#000"/>
<circle cx="319.06" cy="68.72" r="0.62" fill="#000"/>
<circle cx="318.18" cy="66.41" r="0.62" fill="#000"/>
<circle cx="322.55" cy="65.04" r="0.62" fill="#000"/>
<circle cx="316.30" cy="68.81" r="0.62" fill="#000"/>
<circle cx="320.61" cy="64.69" r="0.62" fill="#000"/>
<circle cx="316.53" cy="64.56" r="0.62" fill="#000"/>
<circle cx="322.99" cy="59.87" r="0.62" fill="#000"/>
<circle cx="319.02" cy="65.74" r="0.62" fill="#000"/>
<circle cx="318.79" cy="66.79" r="0.62" fill="#000"/>
<circle cx="316.59" cy="70.51" r="0.62" fill="#000"/>
<circle cx="322.61" cy="62.90" r="0.62" fill="#000"/>
<circle cx="321.37" cy="64.82" r="0.62" fill="#000"/>
<circle cx="321.94" cy="69.45" r="0.62" fill="#000"/>
<circle cx="317.05" cy="69.95" r="0.62" fill="#000"/>
<circle cx="321.88" cy="63.39" r="0.62" fill="#000"/>
<circle cx="313.09" cy="69.09" r="0.62" fill="#000"/>
<circle cx="321.01" cy="59.47" r="0.62" fill="#000"/>
<circle cx="319.39" cy="67.60" r="0.62" fill="#000"/>
<circle cx="315.10" cy="63.74" r="0.62" fill="#000"/>
<circle cx="312.53" cy="73.76" r="0.62" fill="#000"/>
<circle cx="315.52" cy="69.30" r="0.62" fill="#000"/>
<circle cx="318.89" cy="66.71" r="0.62" fill="#000"/>
<circle cx="311.09" cy="69.25" r="0.62" fill="#000"/>
<circle cx="319.83" cy="62.31" r="0.62" fill="#000"/>
<circle cx="310.96" cy="68.15" r="0.62" fill="#000"/>
<circle cx="317.41" cy="62.86" r="0.62" fill="#000"/>
<circle cx="316.45" cy="71.68" r="0.62" fill="#000"/>
<circle cx="320.30" cy="66.51" r="0.62" fill="#000"/>
<circle cx="308.98" cy="67.18" r="0.62" fill="#000"/>
<circle cx="314.82" cy="70.05" r="0.62" fill="#000"/>
<circle cx="318.10" cy="70.65" r="0.62" fill="#000"/>
<circle cx="317.32" cy="63.85" r="0.62" fill="#000"/>
<circle cx="319.67" cy="64.45" r="0.62" fill="#000"/>
<circle cx="319.07" cy="70.34" r="0.62" fill="#000"/>
<circle cx="315.42" cy="74.66" r="0.62" fill="#000"/>
<circle cx="317.48" cy="59.55" r="0.62" fill="#000"/>
<circle cx="317.42" cy="67.27" r="0.62" fill="#000"/>
<circle cx="313.85" cy="70.19" r="0.62" fill="#000"/>
<circle cx="316.04" cy="69.95" r="0.62" fill="#000"/>
<circle cx="312.46" cy="65.62" r="0.62" fill="#000"/>
<circle cx="323.57" cy="63.68" r="0.62" fill="#000"/>
<circle cx="317.56" cy="71.28" r="0.62" fill="#000"/>
<circle cx="321.20" cy="56.80" r="0.62" fill="#000"/>
<circle cx="316.07" cy="67.55" r="0.62" fill="#000"/>
<circle cx="319.35" cy="64.23" r="0.62" fill="#000"/>
<circle cx="316.65" cy="74.01" r="0.62" fill="#000"/>
<circle cx="318.78" cy="69.13" r="0.62" fill="#000"/>
<circle cx="323.58" cy="57.03" r="0.62" fill="#000"/>
<circle cx="318.88" cy="69.75" r="0.62" fill="#000"/>
<circle cx="319.01" cy="68.00" r="0.62" fill="#000"/>
<circle cx="323.80" cy="71.12" r="0.62" fill="#000"/>
<circle cx="320.86" cy="64.93" r="0.62" fill="#000"/>
<circle cx="319.43" cy="66.92" r="0.62" fill="#000"/>
<circle cx="312.96" cy="72.53" r="0.62" fill="#000"/>
<circle cx="318.13" cy="62.14" r="0.62" fill="#000"/>
<circle cx="318.24" cy="66.49" r="0.62" fill="#000"/>
<circle cx="321.71" cy="72.58" r="0.62" fill="#000"/>
<circle cx="321.07" cy="64.61" r="0.62" fill="#000"/>
<circle cx="316.15" cy="69.90" r="0.62" fill="#000"/>
<circle cx="317.25" cy="67.79" r="0.62" fill="#000"/>
<circle cx="323.89" cy="69.82" r="0.62" fill="#000"/>
<circle cx="325.63" cy="64.36" r="0.62" fill="#000"/>
<circle cx="327.93" cy="65.95" r="0.62" fill="#000"/>
<circle cx="313.82" cy="67.31" r="0.62" fill="#000"/>
<circle cx="319.43" cy="66.41" r="0.62" fill="#000"/>
<circle cx="317.19" cy="65.70" r="0.62" fill="#000"/>
<circle cx="323.74" cy="66.85" r="0.62" fill="#000"/>
<circle cx="318.52" cy="65.61" r="0.62" fill="#000"/>
<circle cx="321.25" cy="61.80" r="0.62" fill="#000"/>
<circle cx="317.89" cy="68.62" r="0.62" fill="#000"/>
<circle cx="315.28" cy="78.33" r="0.62" fill="#000"/>
<circle cx="319.02" cy="67.99" r="0.62" fill="#000"/>
<circle cx="320.05" cy="66.23" r="0.62" fill="#000"/>
<circle cx="317.86" cy="74.57" r="0.62" fill="#000"/>
<circle cx="320.61" cy="65.08" r="0.62" fill="#000"/>
<circle cx="325.13" cy="52.92" r="0.62" fill="#000"/>
<circle cx="320.32" cy="63.83" r="0.62" fill="#000"/>
<circle cx="317.71" cy="75.46" r="0.62" fill="#000"/>
<circle cx="314.00" cy="72.90" r="0.62" fill="#000"/>
<circle cx="318.44" cy="67.40" r="0.62" fill="#000"/>
<circle cx="318.23" cy="72.45" r="0.62" fill="#000"/>
<circle cx="316.56" cy="63.87" r="0.62" fill="#000"/>
<circle cx="315.27" cy="71.81" r="0.62" fill="#000"/>
<circle cx="315.75" cy="71.85" r="0.62" fill="#000"/>
<circle cx="318.14" cy="64.65" r="0.62" fill="#000"/>
<circle cx="310.05" cy="72.09" r="0.62" fill="#000"/>
<circle cx="318.37" cy="64.63" r="0.62" fill="#000"/>
<circle cx="322.95" cy="59.08" r="0.62" fill="#000"/>
<circle cx="320.79" cy="66.39" r="0.62" fill="#000"/>
<circle cx="319.21" cy="66.92" r="0.62" fill="#000"/>
<circle cx="321.03" cy="62.74" r="0.62" fill="#000"/>
<circle cx="318.62" cy="64.96" r="0.62" fill="#000"/>
<circle cx="324.59" cy="59.46" r="0.62" fill="#000"/>
<circle cx="314.94" cy="59.03" r="0.62" fill="#000"/>
<circle cx="314.67" cy="66.89" r="0.62" fill="#000"/>
<circle cx="317.57" cy="65.96" r="0.62" fill="#000"/>
<circle cx="314.68" cy="70.33" r="0.62" fill="#000"/>
<circle cx="322.85" cy="65.35" r="0.62" fill="#000"/>
<circle cx="318.84" cy="70.43" r="0.62" fill="#000"/>
<circle cx="317.72" cy="70.08" r="0.62" fill="#000"/>
<circle cx="317.85" cy="71.65" r="0.62" fill="#000"/>
<circle cx="324.62" cy="57.55" r="0.62" fill="#000"/>
<circle cx="319.09" cy="59.92" r="0.62" fill="#000"/>
<circle cx="321.70" cy="73.29" r="0.62" fill="#000"/>
<circle cx="319.11" cy="67.82" r="0.62" fill="#000"/>
<circle cx="313.49" cy="72.93" r="0.62" fill="#000"/>
<circle cx="318.38" cy="71.61" r="0.62" fill="#000"/>
<circle cx="321.78" cy="72.73" r="0.62" fill="#000"/>
<circle cx="315.73" cy="71.44" r="0.62" fill="#000"/>
<circle cx="311.60" cy="73.75" r="0.62" fill="#000"/>
<circle cx="321.71" cy="62.02" r="0.62" fill="#000"/>
<circle cx="315.46" cy="72.46" r="0.62" fill="#000"/>
<circle cx="322.00" cy="63.87" r="0.62" fill="#000"/>
<circle cx="318.45" cy="60.85" r="0.62" fill="#000"/>
<circle cx="325.11" cy="60.99" r="0.62" fill="#000"/>
<circle cx="315.78" cy="77.65" r="0.62" fill="#000"/>
<circle cx="317.94" cy="69.35" r="0.62" fill="#000"/>
<circle cx="311.22" cy="73.32" r="0.62" fill="#000"/>
<circle cx="314.57" cy="75.00" r="0.62" fill="#000"/>
<circle cx="315.82" cy="66.25" r="0.62" fill="#000"/>
<circle cx="319.42" cy="69.94" r="0.62" fill="#000"/>
<circle cx="317.13" cy="70.62" r="0.62" fill="#000"/>
<circle cx="311.53" cy="68.71" r="0.62" fill="#000"/>
<circle cx="316.31" cy="68.20" r="0.62" fill="#000"/>
<circle cx="320.70" cy="67.57" r="0.62" fill="#000"/>
<circle cx="316.37" cy="67.80" r="0.62" fill="#000"/>
<circle cx="321.41" cy="64.56" r="0.62" fill="#000"/>
<circle cx="318.62" cy="67.36" r="0.62" fill="#000"/>
<circle cx="310.76" cy="74.24" r="0.62" fill="#000"/>
<circle cx="312.89" cy="72.30" r="0.62" fill="#000"/>
<circle cx="317.66" cy="60.80" r="0.62" fill="#000"/>
<circle cx="319.92" cy="62.45" r="0.62" fill="#000"/>
<circle cx="316.77" cy="66.88" r="0.62" fill="#000"/>
<circle cx="319.08" cy="63.08" r="0.62" fill="#000"/>
<circle cx="312.80" cy="75.16" r="0.62" fill="#000"/>
<circle cx="319.11" cy="68.33" r="0.62" fill="#000"/>
<circle cx="317.70" cy="62.66" r="0.62" fill="#000"/>
<circle cx="319.15" cy="66.21" r="0.62" fill="#000"/>
<circle cx="318.28" cy="67.23" r="0.62" fill="#000"/>
<circle cx="318.14" cy="64.76" r="0.62" fill="#000"/>
<circle cx="319.79" cy="68.88" r="0.62" fill="#000"/>
<circle cx="315.01" cy="70.69" r="0.62" fill="#000"/>
<circle cx="313.21" cy="69.00" r="0.62" fill="#000"/>
<circle cx="317.42" cy="68.64" r="0.62" fill="#000"/>
<circle cx="322.40" cy="60.74" r="0.62" fill="#000"/>
<circle cx="322.13" cy="64.10" r="0.62" fill="#000"/>
<circle cx="312.40" cy="61.77" r="0.62" fill="#000"/>
<circle cx="318.78" cy="66.41" r="0.62" fill="#000"/>
<circle cx="315.49" cy="70.93" r="0.62" fill="#000"/>
<circle cx="320.39" cy="59.45" r="0.62" fill="#000"/>
<circle cx="318.58" cy="70.13" r="0.62" fill="#000"/>
<circle cx="310.94" cy="72.02" r="0.62" fill="#000"/>
<circle cx="321.05" cy="67.14" r="0.62" fill="#000"/>
<circle cx="323.38" cy="63.36" r="0.62" fill="#000"/>
<circle cx="325.88" cy="58.68" r="0.62" fill="#000"/>
<circle cx="314.10" cy="71.39" r="0.62" fill="#000"/>
<circle cx="320.88" cy="65.01" r="0.62" fill="#000"/>
<circle cx="313.34" cy="74.71" r="0.62" fill="#000"/>
<circle cx="315.56" cy="69.50" r="0.62" fill="#000"/>
<circle cx="322.30" cy="61.01" r="0.62" fill="#000"/>
<circle cx="316.11" cy="69.12" r="0.62" fill="#000"/>
<circle cx="320.43" cy="72.39" r="0.62" fill="#000"/>
<circle cx="322.54" cy="65.08" r="0.62" fill="#000"/>
<circle cx="315.02" cy="68.40" r="0.62" fill="#000"/>
<circle cx="314.77" cy="62.47" r="0.62" fill="#000"/>
<circle cx="318.81" cy="60.96" r="0.62" fill="#000"/>
<circle cx="319.26" cy="66.94" r="0.62" fill="#000"/>
<circle cx="316.67" cy="70.33" r="0.62" fill="#000"/>
<circle cx="324.11" cy="67.08" r="0.62" fill="#000"/>
<circle cx="323.04" cy="68.11" r="0.62" fill="#000"/>
<circle cx="319.30" cy="64.74" r="0.62" fill="#000"/>
<circle cx="319.82" cy="62.74" r="0.62" fill="#000"/>
<circle cx="319.98" cy="67.19" r="0.62" fill="#000"/>
<circle cx="322.22" cy="62.90" r="0.62" fill="#000"/>
<circle cx="316.54" cy="74.32" r="0.62" fill="#000"/>
<circle cx="318.22" cy="65.70" r="0.62" fill="#000"/>
<circle cx="317.05" cy="70.74" r="0.62" fill="#000"/>
<circle cx="320.63" cy="66.59" r="0.62" fill="#000"/>
<circle cx="320.94" cy="69.65" r="0.62" fill="#000"/>
<circle cx="318.34" cy="68.42" r="0.62" fill="#000"/>
<circle cx="320.98" cy="67.68" r="0.62" fill="#000"/>
<circle cx="315.68" cy="68.95" r="0.62" fill="#000"/>
<circle cx="316.36" cy="66.60" r="0.62" fill="#000"/>
<circle cx="313.99" cy="67.42" r="0.62" fill="#000"/>
<circle cx="323.45" cy="66.26" r="0.62" fill="#000"/>
<circle cx="316.92" cy="71.69" r="0.62" fill="#000"/>
<circle cx="313.31" cy="69.90" r="0.62" fill="#000"/>
<circle cx="317.60" cy="68.19" r="0.62" fill="#000"/>
<circle cx="315.84" cy="62.12" r="0.62" fill="#000"/>
<circle cx="314.58" cy="71.89" r="0.62" fill="#000"/>
<circle cx="321.75" cy="71.01" r="0.62" fill="#000"/>
<circle cx="316.19" cy="66.85" r="0.62" fill="#000"/>
<circle cx="316.60" cy="58.15" r="0.62" fill="#000"/>
<circle cx="318.13" cy="78.03" r="0.62" fill="#000"/>
<circle cx="316.59" cy="69.26" r="0.62" fill="#000"/>
<circle cx="315.99" cy="66.14" r="0.62" fill="#000"/>
<circle cx="315.28" cy="65.33" r="0.62" fill="#000"/>
<circle cx="322.64" cy="64.37" r="0.62" fill="#000"/>
<circle cx="318.48" cy="62.83" r="0.62" fill="#000"/>
<circle cx="311.62" cy="73.36" r="0.62" fill="#000"/>
<circle cx="315.80" cy="71.55" r="0.62" fill="#000"/>
<circle cx="311.70" cy="71.49" r="0.62" fill="#000"/>
<circle cx="319.52" cy="66.97" r="0.62" fill="#000"/>
<circle cx="316.07" cy="64.52" r="0.62" fill="#000"/>
<circle cx="320.20" cy="72.47" r="0.62" fill="#000"/>
<circle cx="319.43" cy="61.99" r="0.62" fill="#000"/>
<circle cx="323.63" cy="59.41" r="0.62" fill="#000"/>
<circle cx="316.64" cy="65.56" r="0.62" fill="#000"/>
<circle cx="322.94" cy="61.27" r="0.62" fill="#000"/>
<circle cx="316.22" cy="65.70" r="0.62" fill="#000"/>
<circle cx="314.85" cy="71.92" r="0.62" fill="#000"/>
<circle cx="321.35" cy="69.17" r="0.62" fill="#000"/>
<circle cx="314.86" cy="69.67" r="0.62" fill="#000"/>
<circle cx="322.79" cy="64.33" r="0.62" fill="#000"/>
<circle cx="319.15" cy="71.62" r="0.62" fill="#000"/>
<circle cx="321.43" cy="66.39" r="0.62" fill="#000"/>
<circle cx="321.21" cy="67.00" r="0.62" fill="#000"/>
<circle cx="316.62" cy="68.06" r="0.62" fill="#000"/>
<circle cx="322.25" cy="63.31" r="0.62" fill="#000"/>
<circle cx="321.58" cy="67.20" r="0.62" fill="#000"/>
<circle cx="319.77" cy="66.55" r="0.62" fill="#000"/>
<circle cx="310.75" cy="74.32" r="0.62" fill="#000"/>
<circle cx="318.97" cy="62.35" r="0.62" fill="#000"/>
<circle cx="317.87" cy="68.26" r="0.62" fill="#000"/>
<circle cx="319.56" cy="68.66" r="0.62" fill="#000"/>
<circle cx="319.32" cy="64.76" r="0.62" fill="#000"/>
<circle cx="320.77" cy="62.16" r="0.62" fill="#000"/>
<circle cx="316.81" cy="69.98" r="0.62" fill="#000"/>
<circle cx="319.85" cy="64.21" r="0.62" fill="#000"/>
<circle cx="314.09" cy="70.08" r="0.62" fill="#000"/>
<circle cx="320.28" cy="67.00" r="0.62" fill="#000"/>
<circle cx="323.19" cy="59.89" r="0.62" fill="#000"/>
<circle cx="313.41" cy="64.34" r="0.62" fill="#000"/>
<circle cx="323.84" cy="63.39" r="0.62" fill="#000"/>
<circle cx="316.90" cy="65.69" r="0.62" fill="#000"/>
<circle cx="312.01" cy="77.78" r="0.62" fill="#000"/>
<circle cx="318.93" cy="72.09" r="0.62" fill="#000"/>
<circle cx="323.04" cy="65.92" r="0.62" fill="#000"/>
<circle cx="320.20" cy="69.17" r="0.62" fill="#000"/>
<circle cx="305.8" cy="82.2" r="0.62" fill="#000"/>
<circle cx="308.4" cy="83.5" r="0.62" fill="#000"/>
<circle cx="321.8" cy="90" r="0.62" fill="#000"/>
<circle cx="320.5" cy="55.4" r="0.62" fill="#000"/>
<circle cx="323.5" cy="81.3" r="0.62" fill="#000"/>
<circle cx="318.4" cy="81.3" r="0.62" fill="#000"/>
<circle cx="310" cy="77" r="0.62" fill="#000"/>
<circle cx="312" cy="80" r="0.62" fill="#000"/>
<circle cx="325" cy="58" r="0.62" fill="#000"/>
<circle cx="326" cy="66" r="0.62" fill="#000"/>
<circle cx="316" cy="80" r="0.62" fill="#000"/>
<circle cx="324" cy="79" r="0.62" fill="#000"/>
<circle cx="327" cy="62" r="0.62" fill="#000"/>
<circle cx="309" cy="72" r="0.62" fill="#000"/>
<text x="345.90" y="16.70" font-size="11.4" text-anchor="start" fill="#000" textLength="8.15" lengthAdjust="spacingAndGlyphs" font-weight="bold">F</text>
<line x1="367.30" y1="35.40" x2="367.30" y2="101.50" stroke="#151515" stroke-width="1.1"/>
<line x1="366.80" y1="101.20" x2="400.80" y2="101.20" stroke="#151515" stroke-width="1.1"/>
<line x1="364.10" y1="38.50" x2="367.30" y2="38.50" stroke="#151515" stroke-width="1"/>
<text x="361.50" y="40.80" font-size="6.4" text-anchor="end" fill="#1a1a1a" textLength="3.40" lengthAdjust="spacingAndGlyphs">8</text>
<line x1="364.10" y1="59.50" x2="367.30" y2="59.50" stroke="#151515" stroke-width="1"/>
<text x="361.50" y="61.80" font-size="6.4" text-anchor="end" fill="#1a1a1a" textLength="3.40" lengthAdjust="spacingAndGlyphs">6</text>
<line x1="364.10" y1="80.40" x2="367.30" y2="80.40" stroke="#151515" stroke-width="1"/>
<text x="361.50" y="82.70" font-size="6.4" text-anchor="end" fill="#1a1a1a" textLength="3.40" lengthAdjust="spacingAndGlyphs">4</text>
<line x1="364.10" y1="101.10" x2="367.30" y2="101.10" stroke="#151515" stroke-width="1"/>
<text x="361.50" y="103.40" font-size="6.4" text-anchor="end" fill="#1a1a1a" textLength="3.40" lengthAdjust="spacingAndGlyphs">2</text>
<line x1="367.40" y1="101.20" x2="367.40" y2="104.20" stroke="#151515" stroke-width="1"/>
<text x="367.40" y="113.10" font-size="6.4" text-anchor="middle" fill="#1a1a1a" textLength="3.40" lengthAdjust="spacingAndGlyphs">2</text>
<line x1="377.40" y1="101.20" x2="377.40" y2="104.20" stroke="#151515" stroke-width="1"/>
<text x="377.40" y="113.10" font-size="6.4" text-anchor="middle" fill="#1a1a1a" textLength="3.40" lengthAdjust="spacingAndGlyphs">4</text>
<line x1="387.70" y1="101.20" x2="387.70" y2="104.20" stroke="#151515" stroke-width="1"/>
<text x="387.70" y="113.10" font-size="6.4" text-anchor="middle" fill="#1a1a1a" textLength="3.40" lengthAdjust="spacingAndGlyphs">6</text>
<line x1="398.00" y1="101.20" x2="398.00" y2="104.20" stroke="#151515" stroke-width="1"/>
<text x="398.00" y="113.10" font-size="6.4" text-anchor="middle" fill="#1a1a1a" textLength="3.40" lengthAdjust="spacingAndGlyphs">8</text>
<text x="0" y="3.10" font-size="8.6" text-anchor="middle" fill="#1a1a1a" textLength="46.00" lengthAdjust="spacingAndGlyphs" transform="translate(350.00 68.00) rotate(-90)">MIF expression</text>
<text x="384.30" y="124.90" font-size="8.6" text-anchor="middle" fill="#1a1a1a" textLength="51.50" lengthAdjust="spacingAndGlyphs">SOD1 expression</text>
<text x="373.50" y="35.82" font-size="5.6" text-anchor="start" fill="#1a1a1a" textLength="20.30" lengthAdjust="spacingAndGlyphs">R=0.609</text>
<text x="373.50" y="44.82" font-size="5.6" text-anchor="start" fill="#1a1a1a" textLength="23.10" lengthAdjust="spacingAndGlyphs">p&lt;0.0001</text>
<line x1="372.30" y1="83.00" x2="391.50" y2="52.30" stroke="#C8102E" stroke-width="1.3"/>
<circle cx="373.60" cy="74.05" r="0.55" fill="#000"/>
<circle cx="378.71" cy="59.92" r="0.55" fill="#000"/>
<circle cx="375.53" cy="65.60" r="0.55" fill="#000"/>
<circle cx="385.41" cy="59.81" r="0.55" fill="#000"/>
<circle cx="385.02" cy="57.22" r="0.55" fill="#000"/>
<circle cx="381.62" cy="64.11" r="0.55" fill="#000"/>
<circle cx="377.94" cy="72.48" r="0.55" fill="#000"/>
<circle cx="374.86" cy="75.50" r="0.55" fill="#000"/>
<circle cx="383.50" cy="62.44" r="0.55" fill="#000"/>
<circle cx="383.32" cy="72.56" r="0.55" fill="#000"/>
<circle cx="379.66" cy="66.12" r="0.55" fill="#000"/>
<circle cx="380.20" cy="65.49" r="0.55" fill="#000"/>
<circle cx="378.36" cy="69.47" r="0.55" fill="#000"/>
<circle cx="388.75" cy="53.19" r="0.55" fill="#000"/>
<circle cx="382.65" cy="66.76" r="0.55" fill="#000"/>
<circle cx="388.22" cy="52.97" r="0.55" fill="#000"/>
<circle cx="383.03" cy="74.37" r="0.55" fill="#000"/>
<circle cx="374.03" cy="76.89" r="0.55" fill="#000"/>
<circle cx="387.82" cy="65.21" r="0.55" fill="#000"/>
<circle cx="371.96" cy="70.99" r="0.55" fill="#000"/>
<circle cx="382.21" cy="62.02" r="0.55" fill="#000"/>
<circle cx="379.97" cy="70.41" r="0.55" fill="#000"/>
<circle cx="382.07" cy="65.98" r="0.55" fill="#000"/>
<circle cx="381.44" cy="71.67" r="0.55" fill="#000"/>
<circle cx="386.68" cy="56.81" r="0.55" fill="#000"/>
<circle cx="380.25" cy="71.17" r="0.55" fill="#000"/>
<circle cx="380.44" cy="62.69" r="0.55" fill="#000"/>
<circle cx="380.85" cy="71.60" r="0.55" fill="#000"/>
<circle cx="379.56" cy="67.49" r="0.55" fill="#000"/>
<circle cx="381.38" cy="65.69" r="0.55" fill="#000"/>
<circle cx="376.74" cy="65.00" r="0.55" fill="#000"/>
<circle cx="387.99" cy="55.31" r="0.55" fill="#000"/>
<circle cx="379.04" cy="74.40" r="0.55" fill="#000"/>
<circle cx="381.87" cy="65.08" r="0.55" fill="#000"/>
<circle cx="389.30" cy="62.54" r="0.55" fill="#000"/>
<circle cx="385.97" cy="65.19" r="0.55" fill="#000"/>
<circle cx="387.20" cy="51.08" r="0.55" fill="#000"/>
<circle cx="380.05" cy="71.72" r="0.55" fill="#000"/>
<circle cx="373.24" cy="78.73" r="0.55" fill="#000"/>
<circle cx="387.85" cy="59.44" r="0.55" fill="#000"/>
<circle cx="379.14" cy="61.01" r="0.55" fill="#000"/>
<circle cx="391.10" cy="51.55" r="0.55" fill="#000"/>
<circle cx="384.65" cy="62.45" r="0.55" fill="#000"/>
<circle cx="370.88" cy="77.44" r="0.55" fill="#000"/>
<circle cx="379.55" cy="77.83" r="0.55" fill="#000"/>
<circle cx="376.79" cy="72.68" r="0.55" fill="#000"/>
<circle cx="380.72" cy="69.62" r="0.55" fill="#000"/>
<circle cx="383.14" cy="64.04" r="0.55" fill="#000"/>
<circle cx="369.30" cy="72.33" r="0.55" fill="#000"/>
<circle cx="381.80" cy="66.35" r="0.55" fill="#000"/>
<circle cx="385.32" cy="58.56" r="0.55" fill="#000"/>
<circle cx="378.97" cy="71.91" r="0.55" fill="#000"/>
<circle cx="372.31" cy="76.77" r="0.55" fill="#000"/>
<circle cx="377.15" cy="74.50" r="0.55" fill="#000"/>
<circle cx="390.49" cy="53.59" r="0.55" fill="#000"/>
<circle cx="385.64" cy="59.56" r="0.55" fill="#000"/>
<circle cx="380.82" cy="64.75" r="0.55" fill="#000"/>
<circle cx="374.64" cy="66.35" r="0.55" fill="#000"/>
<circle cx="373.23" cy="74.05" r="0.55" fill="#000"/>
<circle cx="385.27" cy="62.16" r="0.55" fill="#000"/>
<circle cx="388.27" cy="61.08" r="0.55" fill="#000"/>
<circle cx="381.48" cy="70.53" r="0.55" fill="#000"/>
<circle cx="388.41" cy="53.64" r="0.55" fill="#000"/>
<circle cx="384.62" cy="59.48" r="0.55" fill="#000"/>
<circle cx="374.39" cy="78.51" r="0.55" fill="#000"/>
<circle cx="377.53" cy="73.02" r="0.55" fill="#000"/>
<circle cx="379.38" cy="70.78" r="0.55" fill="#000"/>
<circle cx="376.20" cy="84.40" r="0.55" fill="#000"/>
<circle cx="385.34" cy="57.38" r="0.55" fill="#000"/>
<circle cx="376.97" cy="73.50" r="0.55" fill="#000"/>
<circle cx="384.15" cy="63.01" r="0.55" fill="#000"/>
<circle cx="378.28" cy="62.15" r="0.55" fill="#000"/>
<circle cx="378.75" cy="76.58" r="0.55" fill="#000"/>
<circle cx="378.53" cy="63.79" r="0.55" fill="#000"/>
<circle cx="374.24" cy="71.55" r="0.55" fill="#000"/>
<circle cx="378.87" cy="75.63" r="0.55" fill="#000"/>
<circle cx="381.97" cy="70.04" r="0.55" fill="#000"/>
<circle cx="378.33" cy="64.14" r="0.55" fill="#000"/>
<circle cx="382.60" cy="74.42" r="0.55" fill="#000"/>
<circle cx="375.37" cy="71.36" r="0.55" fill="#000"/>
<circle cx="385.80" cy="58.61" r="0.55" fill="#000"/>
<circle cx="383.55" cy="68.96" r="0.55" fill="#000"/>
<circle cx="374.28" cy="80.11" r="0.55" fill="#000"/>
<circle cx="373.46" cy="73.00" r="0.55" fill="#000"/>
<circle cx="379.62" cy="74.30" r="0.55" fill="#000"/>
<circle cx="376.30" cy="66.04" r="0.55" fill="#000"/>
<circle cx="379.17" cy="76.83" r="0.55" fill="#000"/>
<circle cx="382.56" cy="58.68" r="0.55" fill="#000"/>
<circle cx="389.76" cy="49.62" r="0.55" fill="#000"/>
<circle cx="375.44" cy="75.49" r="0.55" fill="#000"/>
<circle cx="387.71" cy="62.46" r="0.55" fill="#000"/>
<circle cx="383.94" cy="59.41" r="0.55" fill="#000"/>
<circle cx="375.34" cy="69.46" r="0.55" fill="#000"/>
<circle cx="379.08" cy="67.02" r="0.55" fill="#000"/>
<circle cx="379.02" cy="63.98" r="0.55" fill="#000"/>
<circle cx="376.69" cy="69.83" r="0.55" fill="#000"/>
<circle cx="373.27" cy="74.33" r="0.55" fill="#000"/>
<circle cx="374.02" cy="73.03" r="0.55" fill="#000"/>
<circle cx="383.13" cy="63.29" r="0.55" fill="#000"/>
<circle cx="376.24" cy="77.16" r="0.55" fill="#000"/>
<circle cx="384.75" cy="66.88" r="0.55" fill="#000"/>
<circle cx="379.38" cy="68.33" r="0.55" fill="#000"/>
<circle cx="378.03" cy="72.23" r="0.55" fill="#000"/>
<circle cx="382.97" cy="63.91" r="0.55" fill="#000"/>
<circle cx="380.71" cy="69.66" r="0.55" fill="#000"/>
<circle cx="381.48" cy="66.84" r="0.55" fill="#000"/>
<circle cx="377.20" cy="74.06" r="0.55" fill="#000"/>
<circle cx="374.80" cy="73.27" r="0.55" fill="#000"/>
<circle cx="385.55" cy="68.54" r="0.55" fill="#000"/>
<circle cx="384.69" cy="60.14" r="0.55" fill="#000"/>
<circle cx="381.88" cy="69.63" r="0.55" fill="#000"/>
<circle cx="388.75" cy="58.83" r="0.55" fill="#000"/>
<circle cx="380.22" cy="68.74" r="0.55" fill="#000"/>
<circle cx="378.67" cy="69.20" r="0.55" fill="#000"/>
<circle cx="376.60" cy="72.96" r="0.55" fill="#000"/>
<circle cx="369.35" cy="81.05" r="0.55" fill="#000"/>
<circle cx="380.45" cy="63.10" r="0.55" fill="#000"/>
<circle cx="380.18" cy="61.85" r="0.55" fill="#000"/>
<circle cx="379.90" cy="70.28" r="0.55" fill="#000"/>
<circle cx="374.90" cy="73.71" r="0.55" fill="#000"/>
<circle cx="389.33" cy="48.87" r="0.55" fill="#000"/>
<circle cx="376.54" cy="71.53" r="0.55" fill="#000"/>
<circle cx="380.68" cy="66.93" r="0.55" fill="#000"/>
<circle cx="386.24" cy="61.16" r="0.55" fill="#000"/>
<circle cx="378.22" cy="69.64" r="0.55" fill="#000"/>
<circle cx="371.76" cy="75.47" r="0.55" fill="#000"/>
<circle cx="379.07" cy="73.30" r="0.55" fill="#000"/>
<circle cx="382.73" cy="67.29" r="0.55" fill="#000"/>
<circle cx="384.12" cy="60.34" r="0.55" fill="#000"/>
<circle cx="388.13" cy="51.70" r="0.55" fill="#000"/>
<circle cx="377.17" cy="71.12" r="0.55" fill="#000"/>
<circle cx="384.97" cy="58.98" r="0.55" fill="#000"/>
<circle cx="378.46" cy="72.95" r="0.55" fill="#000"/>
<circle cx="385.00" cy="59.05" r="0.55" fill="#000"/>
<circle cx="381.78" cy="70.26" r="0.55" fill="#000"/>
<circle cx="386.55" cy="61.35" r="0.55" fill="#000"/>
<circle cx="378.05" cy="72.94" r="0.55" fill="#000"/>
<circle cx="378.43" cy="62.52" r="0.55" fill="#000"/>
<circle cx="385.72" cy="58.80" r="0.55" fill="#000"/>
<circle cx="383.81" cy="72.27" r="0.55" fill="#000"/>
<circle cx="379.73" cy="65.32" r="0.55" fill="#000"/>
<circle cx="381.49" cy="68.31" r="0.55" fill="#000"/>
<circle cx="383.81" cy="61.38" r="0.55" fill="#000"/>
<circle cx="375.65" cy="72.50" r="0.55" fill="#000"/>
<circle cx="375.12" cy="71.75" r="0.55" fill="#000"/>
<circle cx="379.52" cy="66.77" r="0.55" fill="#000"/>
<circle cx="379.14" cy="65.85" r="0.55" fill="#000"/>
<circle cx="376.68" cy="73.12" r="0.55" fill="#000"/>
<circle cx="381.52" cy="71.02" r="0.55" fill="#000"/>
<circle cx="377.33" cy="73.84" r="0.55" fill="#000"/>
<circle cx="377.77" cy="65.95" r="0.55" fill="#000"/>
<circle cx="383.92" cy="62.25" r="0.55" fill="#000"/>
<circle cx="373.25" cy="82.75" r="0.55" fill="#000"/>
<circle cx="382.81" cy="59.63" r="0.55" fill="#000"/>
<circle cx="387.83" cy="55.41" r="0.55" fill="#000"/>
<circle cx="377.04" cy="76.01" r="0.55" fill="#000"/>
<circle cx="376.41" cy="68.17" r="0.55" fill="#000"/>
<circle cx="372.34" cy="82.65" r="0.55" fill="#000"/>
<circle cx="378.91" cy="73.15" r="0.55" fill="#000"/>
<circle cx="381.12" cy="63.85" r="0.55" fill="#000"/>
<circle cx="382.02" cy="73.03" r="0.55" fill="#000"/>
<circle cx="389.09" cy="56.02" r="0.55" fill="#000"/>
<circle cx="377.15" cy="68.56" r="0.55" fill="#000"/>
<circle cx="382.40" cy="71.88" r="0.55" fill="#000"/>
<circle cx="381.89" cy="63.61" r="0.55" fill="#000"/>
<circle cx="375.94" cy="76.06" r="0.55" fill="#000"/>
<circle cx="377.04" cy="73.42" r="0.55" fill="#000"/>
<circle cx="385.80" cy="63.21" r="0.55" fill="#000"/>
<circle cx="380.48" cy="65.81" r="0.55" fill="#000"/>
<circle cx="385.18" cy="67.71" r="0.55" fill="#000"/>
<circle cx="379.29" cy="62.91" r="0.55" fill="#000"/>
<circle cx="387.43" cy="56.54" r="0.55" fill="#000"/>
<circle cx="393.83" cy="42.09" r="0.55" fill="#000"/>
<circle cx="379.62" cy="67.51" r="0.55" fill="#000"/>
<circle cx="380.97" cy="63.86" r="0.55" fill="#000"/>
<circle cx="370.69" cy="75.36" r="0.55" fill="#000"/>
<circle cx="379.06" cy="67.47" r="0.55" fill="#000"/>
<circle cx="382.54" cy="73.77" r="0.55" fill="#000"/>
<circle cx="386.05" cy="62.87" r="0.55" fill="#000"/>
<circle cx="379.17" cy="71.07" r="0.55" fill="#000"/>
<circle cx="379.33" cy="68.45" r="0.55" fill="#000"/>
<circle cx="384.86" cy="62.65" r="0.55" fill="#000"/>
<circle cx="382.14" cy="65.23" r="0.55" fill="#000"/>
<circle cx="373.24" cy="76.50" r="0.55" fill="#000"/>
<circle cx="381.41" cy="64.08" r="0.55" fill="#000"/>
<circle cx="378.16" cy="73.09" r="0.55" fill="#000"/>
<circle cx="375.49" cy="72.91" r="0.55" fill="#000"/>
<circle cx="383.46" cy="60.57" r="0.55" fill="#000"/>
<circle cx="387.47" cy="57.75" r="0.55" fill="#000"/>
<circle cx="386.18" cy="62.82" r="0.55" fill="#000"/>
<circle cx="371.66" cy="82.32" r="0.55" fill="#000"/>
<circle cx="374.42" cy="75.74" r="0.55" fill="#000"/>
<circle cx="382.69" cy="69.38" r="0.55" fill="#000"/>
<circle cx="383.74" cy="69.42" r="0.55" fill="#000"/>
<circle cx="378.35" cy="70.83" r="0.55" fill="#000"/>
<circle cx="382.89" cy="67.65" r="0.55" fill="#000"/>
<circle cx="379.14" cy="66.84" r="0.55" fill="#000"/>
<circle cx="376.44" cy="67.88" r="0.55" fill="#000"/>
<circle cx="387.22" cy="59.22" r="0.55" fill="#000"/>
<circle cx="382.89" cy="64.52" r="0.55" fill="#000"/>
<circle cx="377.33" cy="70.98" r="0.55" fill="#000"/>
<circle cx="382.28" cy="60.61" r="0.55" fill="#000"/>
<circle cx="380.61" cy="74.53" r="0.55" fill="#000"/>
<circle cx="387.51" cy="56.60" r="0.55" fill="#000"/>
<circle cx="383.14" cy="63.68" r="0.55" fill="#000"/>
<circle cx="385.48" cy="56.68" r="0.55" fill="#000"/>
<circle cx="381.91" cy="67.18" r="0.55" fill="#000"/>
<circle cx="385.93" cy="56.81" r="0.55" fill="#000"/>
<circle cx="380.55" cy="65.00" r="0.55" fill="#000"/>
<circle cx="376.64" cy="71.03" r="0.55" fill="#000"/>
<circle cx="382.72" cy="67.64" r="0.55" fill="#000"/>
<circle cx="376.59" cy="71.35" r="0.55" fill="#000"/>
<circle cx="379.68" cy="70.44" r="0.55" fill="#000"/>
<circle cx="380.91" cy="60.87" r="0.55" fill="#000"/>
<circle cx="380.03" cy="63.57" r="0.55" fill="#000"/>
<circle cx="381.55" cy="61.10" r="0.55" fill="#000"/>
<circle cx="374.81" cy="73.93" r="0.55" fill="#000"/>
<circle cx="378.36" cy="66.48" r="0.55" fill="#000"/>
<circle cx="381.75" cy="65.90" r="0.55" fill="#000"/>
<circle cx="381.47" cy="66.93" r="0.55" fill="#000"/>
<circle cx="382.65" cy="60.27" r="0.55" fill="#000"/>
<circle cx="380.55" cy="67.15" r="0.55" fill="#000"/>
<circle cx="373.13" cy="81.95" r="0.55" fill="#000"/>
<circle cx="376.07" cy="71.73" r="0.55" fill="#000"/>
<circle cx="379.00" cy="70.42" r="0.55" fill="#000"/>
<circle cx="382.90" cy="65.46" r="0.55" fill="#000"/>
<circle cx="379.21" cy="72.83" r="0.55" fill="#000"/>
<circle cx="381.50" cy="63.84" r="0.55" fill="#000"/>
<circle cx="382.12" cy="68.27" r="0.55" fill="#000"/>
<circle cx="383.73" cy="65.00" r="0.55" fill="#000"/>
<circle cx="383.30" cy="67.77" r="0.55" fill="#000"/>
<circle cx="390.42" cy="52.29" r="0.55" fill="#000"/>
<circle cx="377.63" cy="80.29" r="0.55" fill="#000"/>
<circle cx="375.56" cy="69.56" r="0.55" fill="#000"/>
<circle cx="371.95" cy="84.13" r="0.55" fill="#000"/>
<circle cx="386.98" cy="60.76" r="0.55" fill="#000"/>
<circle cx="381.95" cy="71.52" r="0.55" fill="#000"/>
<circle cx="379.11" cy="67.06" r="0.55" fill="#000"/>
<circle cx="381.30" cy="66.97" r="0.55" fill="#000"/>
<circle cx="381.60" cy="67.32" r="0.55" fill="#000"/>
<circle cx="374.96" cy="84.19" r="0.55" fill="#000"/>
<circle cx="379.62" cy="71.89" r="0.55" fill="#000"/>
<circle cx="377.73" cy="72.93" r="0.55" fill="#000"/>
<circle cx="376.75" cy="66.60" r="0.55" fill="#000"/>
<circle cx="383.40" cy="65.27" r="0.55" fill="#000"/>
<circle cx="371.96" cy="72.52" r="0.55" fill="#000"/>
<circle cx="376.34" cy="70.71" r="0.55" fill="#000"/>
<circle cx="381.01" cy="66.41" r="0.55" fill="#000"/>
<circle cx="388.34" cy="56.77" r="0.55" fill="#000"/>
<circle cx="379.90" cy="69.16" r="0.55" fill="#000"/>
<circle cx="367.26" cy="86.14" r="0.55" fill="#000"/>
<circle cx="376.69" cy="73.46" r="0.55" fill="#000"/>
<circle cx="382.30" cy="65.23" r="0.55" fill="#000"/>
<circle cx="382.97" cy="59.93" r="0.55" fill="#000"/>
<circle cx="381.56" cy="64.93" r="0.55" fill="#000"/>
<circle cx="381.29" cy="67.48" r="0.55" fill="#000"/>
<circle cx="379.90" cy="69.39" r="0.55" fill="#000"/>
<circle cx="382.50" cy="68.62" r="0.55" fill="#000"/>
<circle cx="380.76" cy="68.33" r="0.55" fill="#000"/>
<circle cx="392.22" cy="49.94" r="0.55" fill="#000"/>
<circle cx="384.79" cy="64.89" r="0.55" fill="#000"/>
<circle cx="377.99" cy="74.99" r="0.55" fill="#000"/>
<circle cx="384.47" cy="62.52" r="0.55" fill="#000"/>
<circle cx="386.05" cy="61.36" r="0.55" fill="#000"/>
<circle cx="384.08" cy="58.23" r="0.55" fill="#000"/>
<circle cx="381.24" cy="63.58" r="0.55" fill="#000"/>
<circle cx="385.82" cy="58.78" r="0.55" fill="#000"/>
<circle cx="375.63" cy="76.31" r="0.55" fill="#000"/>
<circle cx="378.55" cy="75.26" r="0.55" fill="#000"/>
<circle cx="374.90" cy="67.02" r="0.55" fill="#000"/>
<circle cx="381.09" cy="71.05" r="0.55" fill="#000"/>
<circle cx="380.66" cy="64.19" r="0.55" fill="#000"/>
<circle cx="384.33" cy="63.39" r="0.55" fill="#000"/>
<circle cx="388.26" cy="58.08" r="0.55" fill="#000"/>
<circle cx="380.50" cy="63.76" r="0.55" fill="#000"/>
<circle cx="382.33" cy="65.58" r="0.55" fill="#000"/>
<circle cx="381.49" cy="67.59" r="0.55" fill="#000"/>
<circle cx="377.00" cy="76.04" r="0.55" fill="#000"/>
<circle cx="381.35" cy="67.54" r="0.55" fill="#000"/>
<circle cx="379.62" cy="67.52" r="0.55" fill="#000"/>
<circle cx="383.17" cy="66.34" r="0.55" fill="#000"/>
<circle cx="379.97" cy="69.79" r="0.55" fill="#000"/>
<circle cx="378.38" cy="72.96" r="0.55" fill="#000"/>
<circle cx="378.14" cy="65.61" r="0.55" fill="#000"/>
<circle cx="383.47" cy="58.16" r="0.55" fill="#000"/>
<circle cx="378.32" cy="65.15" r="0.55" fill="#000"/>
<circle cx="375.02" cy="79.88" r="0.55" fill="#000"/>
<circle cx="370.92" cy="74.48" r="0.55" fill="#000"/>
<circle cx="376.68" cy="66.91" r="0.55" fill="#000"/>
<circle cx="383.41" cy="70.70" r="0.55" fill="#000"/>
<circle cx="379.75" cy="70.31" r="0.55" fill="#000"/>
<circle cx="383.32" cy="63.62" r="0.55" fill="#000"/>
<circle cx="383.11" cy="69.74" r="0.55" fill="#000"/>
<circle cx="380.98" cy="68.16" r="0.55" fill="#000"/>
<circle cx="378.51" cy="64.97" r="0.55" fill="#000"/>
<circle cx="381.98" cy="65.06" r="0.55" fill="#000"/>
<circle cx="384.54" cy="63.53" r="0.55" fill="#000"/>
<circle cx="383.06" cy="54.27" r="0.55" fill="#000"/>
<circle cx="377.45" cy="70.49" r="0.55" fill="#000"/>
<circle cx="377.99" cy="73.60" r="0.55" fill="#000"/>
<circle cx="380.57" cy="67.89" r="0.55" fill="#000"/>
<circle cx="372.25" cy="77.30" r="0.55" fill="#000"/>
<circle cx="379.46" cy="67.14" r="0.55" fill="#000"/>
<circle cx="377.96" cy="71.24" r="0.55" fill="#000"/>
<circle cx="377.41" cy="67.89" r="0.55" fill="#000"/>
<circle cx="385.86" cy="55.01" r="0.55" fill="#000"/>
<circle cx="384.35" cy="63.42" r="0.55" fill="#000"/>
<circle cx="383.30" cy="59.92" r="0.55" fill="#000"/>
<circle cx="377.51" cy="74.55" r="0.55" fill="#000"/>
<circle cx="376.98" cy="62.73" r="0.55" fill="#000"/>
<circle cx="369.17" cy="84.52" r="0.55" fill="#000"/>
<circle cx="378.53" cy="69.56" r="0.55" fill="#000"/>
<circle cx="380.33" cy="63.26" r="0.55" fill="#000"/>
<circle cx="392.84" cy="50.11" r="0.55" fill="#000"/>
<circle cx="386.27" cy="58.61" r="0.55" fill="#000"/>
<circle cx="372.85" cy="81.69" r="0.55" fill="#000"/>
<circle cx="379.29" cy="71.47" r="0.55" fill="#000"/>
<circle cx="381.46" cy="68.74" r="0.55" fill="#000"/>
<circle cx="376.41" cy="72.80" r="0.55" fill="#000"/>
<circle cx="379.14" cy="66.31" r="0.55" fill="#000"/>
<circle cx="380.00" cy="71.02" r="0.55" fill="#000"/>
<circle cx="387.79" cy="53.77" r="0.55" fill="#000"/>
<circle cx="381.62" cy="60.27" r="0.55" fill="#000"/>
<circle cx="379.44" cy="70.70" r="0.55" fill="#000"/>
<circle cx="380.87" cy="62.09" r="0.55" fill="#000"/>
<circle cx="383.26" cy="63.26" r="0.55" fill="#000"/>
<circle cx="387.62" cy="59.30" r="0.55" fill="#000"/>
<circle cx="381.98" cy="63.01" r="0.55" fill="#000"/>
<circle cx="379.94" cy="64.44" r="0.55" fill="#000"/>
<circle cx="373.71" cy="70.76" r="0.55" fill="#000"/>
<circle cx="372.96" cy="74.66" r="0.55" fill="#000"/>
<circle cx="380.39" cy="68.02" r="0.55" fill="#000"/>
<circle cx="375.10" cy="76.27" r="0.55" fill="#000"/>
<circle cx="384.00" cy="65.51" r="0.55" fill="#000"/>
<circle cx="380.64" cy="68.11" r="0.55" fill="#000"/>
<circle cx="380.92" cy="70.83" r="0.55" fill="#000"/>
<circle cx="374.90" cy="78.15" r="0.55" fill="#000"/>
<circle cx="374.79" cy="85.00" r="0.55" fill="#000"/>
<circle cx="380.09" cy="58.52" r="0.55" fill="#000"/>
<circle cx="375.73" cy="69.23" r="0.55" fill="#000"/>
<circle cx="372.81" cy="78.81" r="0.55" fill="#000"/>
<circle cx="379.14" cy="74.42" r="0.55" fill="#000"/>
<circle cx="376.33" cy="69.55" r="0.55" fill="#000"/>
<circle cx="381.04" cy="68.25" r="0.55" fill="#000"/>
<circle cx="384.78" cy="62.22" r="0.55" fill="#000"/>
<circle cx="373.06" cy="76.50" r="0.55" fill="#000"/>
<circle cx="378.18" cy="67.55" r="0.55" fill="#000"/>
<circle cx="382.81" cy="61.79" r="0.55" fill="#000"/>
<circle cx="379.52" cy="67.33" r="0.55" fill="#000"/>
<circle cx="377.76" cy="65.27" r="0.55" fill="#000"/>
<circle cx="387.68" cy="52.31" r="0.55" fill="#000"/>
<circle cx="374.17" cy="70.22" r="0.55" fill="#000"/>
<circle cx="377.48" cy="66.30" r="0.55" fill="#000"/>
<circle cx="384.16" cy="66.40" r="0.55" fill="#000"/>
<circle cx="382.06" cy="62.61" r="0.55" fill="#000"/>
<circle cx="385.15" cy="58.40" r="0.55" fill="#000"/>
<circle cx="380.45" cy="67.67" r="0.55" fill="#000"/>
<circle cx="379.46" cy="71.01" r="0.55" fill="#000"/>
<circle cx="372.19" cy="73.67" r="0.55" fill="#000"/>
<circle cx="383.79" cy="58.28" r="0.55" fill="#000"/>
<circle cx="374.94" cy="91.84" r="0.6" fill="#000"/>
<circle cx="378.01" cy="90.52" r="0.6" fill="#000"/>
<circle cx="375.30" cy="92.22" r="0.6" fill="#000"/>
<circle cx="373.20" cy="91.17" r="0.6" fill="#000"/>
<circle cx="376.09" cy="95.10" r="0.6" fill="#000"/>
<circle cx="372.61" cy="88.25" r="0.6" fill="#000"/>
<circle cx="372.59" cy="95.34" r="0.6" fill="#000"/>
<circle cx="376.51" cy="84.59" r="0.6" fill="#000"/>
<circle cx="378.38" cy="97.51" r="0.6" fill="#000"/>
<circle cx="376.25" cy="92.62" r="0.6" fill="#000"/>
<circle cx="373.02" cy="84.21" r="0.6" fill="#000"/>
<circle cx="375.43" cy="84.83" r="0.6" fill="#000"/>
<circle cx="373.24" cy="87.39" r="0.6" fill="#000"/>
<circle cx="372.20" cy="90.50" r="0.6" fill="#000"/>
<circle cx="374.86" cy="95.79" r="0.6" fill="#000"/>
<circle cx="375.37" cy="92.96" r="0.6" fill="#000"/>
<circle cx="375.25" cy="93.27" r="0.6" fill="#000"/>
<circle cx="374.97" cy="87.89" r="0.6" fill="#000"/>
<circle cx="378.48" cy="97.94" r="0.6" fill="#000"/>
<circle cx="377.46" cy="93.91" r="0.6" fill="#000"/>
<circle cx="374.05" cy="87.22" r="0.6" fill="#000"/>
<circle cx="373.88" cy="84.98" r="0.6" fill="#000"/>
<circle cx="376.98" cy="89.61" r="0.6" fill="#000"/>
<circle cx="377.50" cy="89.41" r="0.6" fill="#000"/>
<circle cx="378.23" cy="95.86" r="0.6" fill="#000"/>
<circle cx="372.00" cy="86.94" r="0.6" fill="#000"/>
<text x="413.30" y="16.70" font-size="11.4" text-anchor="start" fill="#000" textLength="10.38" lengthAdjust="spacingAndGlyphs" font-weight="bold">G</text>
<line x1="436.20" y1="38.75" x2="436.20" y2="101.50" stroke="#151515" stroke-width="1.1"/>
<line x1="435.70" y1="101.20" x2="468.75" y2="101.20" stroke="#151515" stroke-width="1.1"/>
<line x1="433.00" y1="40.60" x2="436.20" y2="40.60" stroke="#151515" stroke-width="1"/>
<text x="430.40" y="42.90" font-size="6.4" text-anchor="end" fill="#1a1a1a" textLength="3.40" lengthAdjust="spacingAndGlyphs">8</text>
<line x1="433.00" y1="60.75" x2="436.20" y2="60.75" stroke="#151515" stroke-width="1"/>
<text x="430.40" y="63.05" font-size="6.4" text-anchor="end" fill="#1a1a1a" textLength="3.40" lengthAdjust="spacingAndGlyphs">6</text>
<line x1="433.00" y1="81.00" x2="436.20" y2="81.00" stroke="#151515" stroke-width="1"/>
<text x="430.40" y="83.30" font-size="6.4" text-anchor="end" fill="#1a1a1a" textLength="3.40" lengthAdjust="spacingAndGlyphs">4</text>
<line x1="433.00" y1="101.25" x2="436.20" y2="101.25" stroke="#151515" stroke-width="1"/>
<text x="430.40" y="103.55" font-size="6.4" text-anchor="end" fill="#1a1a1a" textLength="3.40" lengthAdjust="spacingAndGlyphs">2</text>
<line x1="436.20" y1="101.20" x2="436.20" y2="104.20" stroke="#151515" stroke-width="1"/>
<text x="436.20" y="112.30" font-size="6.4" text-anchor="middle" fill="#1a1a1a" textLength="3.40" lengthAdjust="spacingAndGlyphs">2</text>
<line x1="446.25" y1="101.20" x2="446.25" y2="104.20" stroke="#151515" stroke-width="1"/>
<text x="446.25" y="112.30" font-size="6.4" text-anchor="middle" fill="#1a1a1a" textLength="3.40" lengthAdjust="spacingAndGlyphs">4</text>
<line x1="456.25" y1="101.20" x2="456.25" y2="104.20" stroke="#151515" stroke-width="1"/>
<text x="456.25" y="112.30" font-size="6.4" text-anchor="middle" fill="#1a1a1a" textLength="3.40" lengthAdjust="spacingAndGlyphs">6</text>
<line x1="466.25" y1="101.20" x2="466.25" y2="104.20" stroke="#151515" stroke-width="1"/>
<text x="466.25" y="112.30" font-size="6.4" text-anchor="middle" fill="#1a1a1a" textLength="3.40" lengthAdjust="spacingAndGlyphs">8</text>
<text x="0" y="3.10" font-size="8.6" text-anchor="middle" fill="#1a1a1a" textLength="45.00" lengthAdjust="spacingAndGlyphs" transform="translate(418.75 68.75) rotate(-90)">MIF expression</text>
<text x="452.50" y="125.60" font-size="8.6" text-anchor="middle" fill="#1a1a1a" textLength="51.00" lengthAdjust="spacingAndGlyphs">SOD1 expression</text>
<circle cx="459.15" cy="78.23" r="0.8" fill="none" stroke="#5F78B4" stroke-width="0.7"/>
<circle cx="457.44" cy="70.78" r="0.8" fill="none" stroke="#5F78B4" stroke-width="0.7"/>
<circle cx="453.32" cy="72.15" r="0.8" fill="none" stroke="#5F78B4" stroke-width="0.7"/>
<circle cx="452.21" cy="71.13" r="0.8" fill="none" stroke="#5F78B4" stroke-width="0.7"/>
<circle cx="443.95" cy="78.19" r="0.8" fill="none" stroke="#5F78B4" stroke-width="0.7"/>
<circle cx="446.15" cy="83.30" r="0.8" fill="none" stroke="#5F78B4" stroke-width="0.7"/>
<circle cx="457.84" cy="74.79" r="0.8" fill="none" stroke="#5F78B4" stroke-width="0.7"/>
<circle cx="453.21" cy="72.36" r="0.8" fill="none" stroke="#5F78B4" stroke-width="0.7"/>
<circle cx="452.92" cy="70.73" r="0.8" fill="none" stroke="#5F78B4" stroke-width="0.7"/>
<circle cx="446.14" cy="89.35" r="0.8" fill="none" stroke="#5F78B4" stroke-width="0.7"/>
<circle cx="449.17" cy="78.45" r="0.8" fill="none" stroke="#5F78B4" stroke-width="0.7"/>
<circle cx="458.81" cy="82.75" r="0.8" fill="none" stroke="#5F78B4" stroke-width="0.7"/>
<circle cx="456.33" cy="68.42" r="0.8" fill="none" stroke="#5F78B4" stroke-width="0.7"/>
<circle cx="448.61" cy="84.27" r="0.8" fill="none" stroke="#5F78B4" stroke-width="0.7"/>
<circle cx="450.48" cy="83.27" r="0.8" fill="none" stroke="#5F78B4" stroke-width="0.7"/>
<circle cx="443.81" cy="84.76" r="0.8" fill="none" stroke="#5F78B4" stroke-width="0.7"/>
<circle cx="451.30" cy="67.12" r="0.8" fill="none" stroke="#5F78B4" stroke-width="0.7"/>
<circle cx="451.32" cy="74.62" r="0.8" fill="none" stroke="#5F78B4" stroke-width="0.7"/>
<circle cx="452.60" cy="67.78" r="0.8" fill="none" stroke="#5F78B4" stroke-width="0.7"/>
<circle cx="460.13" cy="74.76" r="0.8" fill="none" stroke="#5F78B4" stroke-width="0.7"/>
<circle cx="441.37" cy="82.99" r="0.8" fill="none" stroke="#5F78B4" stroke-width="0.7"/>
<circle cx="450.09" cy="70.55" r="0.8" fill="none" stroke="#5F78B4" stroke-width="0.7"/>
<circle cx="449.61" cy="86.84" r="0.8" fill="none" stroke="#5F78B4" stroke-width="0.7"/>
<circle cx="458.08" cy="70.92" r="0.8" fill="none" stroke="#5F78B4" stroke-width="0.7"/>
<circle cx="457.31" cy="69.31" r="0.8" fill="none" stroke="#5F78B4" stroke-width="0.7"/>
<circle cx="439.08" cy="75.40" r="0.8" fill="none" stroke="#5F78B4" stroke-width="0.7"/>
<circle cx="448.93" cy="69.34" r="0.8" fill="none" stroke="#5F78B4" stroke-width="0.7"/>
<circle cx="451.97" cy="75.42" r="0.8" fill="none" stroke="#5F78B4" stroke-width="0.7"/>
<circle cx="444.14" cy="82.54" r="0.8" fill="none" stroke="#5F78B4" stroke-width="0.7"/>
<circle cx="460.26" cy="65.00" r="0.8" fill="none" stroke="#5F78B4" stroke-width="0.7"/>
<circle cx="443.09" cy="85.23" r="0.8" fill="none" stroke="#5F78B4" stroke-width="0.7"/>
<circle cx="452.42" cy="76.09" r="0.8" fill="none" stroke="#5F78B4" stroke-width="0.7"/>
<circle cx="453.36" cy="69.82" r="0.8" fill="none" stroke="#5F78B4" stroke-width="0.7"/>
<circle cx="452.42" cy="78.31" r="0.8" fill="none" stroke="#5F78B4" stroke-width="0.7"/>
<circle cx="448.38" cy="86.80" r="0.8" fill="none" stroke="#5F78B4" stroke-width="0.7"/>
<circle cx="450.15" cy="71.65" r="0.8" fill="none" stroke="#5F78B4" stroke-width="0.7"/>
<circle cx="448.77" cy="79.28" r="0.8" fill="none" stroke="#5F78B4" stroke-width="0.7"/>
<circle cx="436.43" cy="79.79" r="0.8" fill="none" stroke="#5F78B4" stroke-width="0.7"/>
<circle cx="456.77" cy="75.54" r="0.8" fill="none" stroke="#5F78B4" stroke-width="0.7"/>
<circle cx="449.80" cy="76.13" r="0.8" fill="none" stroke="#5F78B4" stroke-width="0.7"/>
<circle cx="446.89" cy="73.14" r="0.8" fill="none" stroke="#5F78B4" stroke-width="0.7"/>
<circle cx="454.57" cy="74.12" r="0.8" fill="none" stroke="#5F78B4" stroke-width="0.7"/>
<circle cx="453.26" cy="76.81" r="0.8" fill="none" stroke="#5F78B4" stroke-width="0.7"/>
<circle cx="446.72" cy="82.44" r="0.8" fill="none" stroke="#5F78B4" stroke-width="0.7"/>
<circle cx="445.31" cy="79.08" r="0.8" fill="none" stroke="#5F78B4" stroke-width="0.7"/>
<circle cx="451.65" cy="73.76" r="0.8" fill="none" stroke="#5F78B4" stroke-width="0.7"/>
<circle cx="455.71" cy="70.96" r="0.8" fill="none" stroke="#5F78B4" stroke-width="0.7"/>
<circle cx="449.40" cy="85.69" r="0.8" fill="none" stroke="#5F78B4" stroke-width="0.7"/>
<circle cx="443.11" cy="85.38" r="0.8" fill="none" stroke="#5F78B4" stroke-width="0.7"/>
<circle cx="450.78" cy="73.13" r="0.8" fill="none" stroke="#5F78B4" stroke-width="0.7"/>
<circle cx="451.86" cy="72.14" r="0.8" fill="none" stroke="#5F78B4" stroke-width="0.7"/>
<circle cx="448.33" cy="83.50" r="0.8" fill="none" stroke="#5F78B4" stroke-width="0.7"/>
<circle cx="446.36" cy="73.86" r="0.8" fill="none" stroke="#5F78B4" stroke-width="0.7"/>
<circle cx="449.74" cy="74.99" r="0.8" fill="none" stroke="#5F78B4" stroke-width="0.7"/>
<circle cx="449.00" cy="72.07" r="0.8" fill="none" stroke="#5F78B4" stroke-width="0.7"/>
<circle cx="449.64" cy="73.96" r="0.8" fill="none" stroke="#5F78B4" stroke-width="0.7"/>
<circle cx="454.87" cy="64.28" r="0.8" fill="none" stroke="#5F78B4" stroke-width="0.7"/>
<circle cx="454.47" cy="66.98" r="0.8" fill="none" stroke="#5F78B4" stroke-width="0.7"/>
<circle cx="461.78" cy="72.91" r="0.8" fill="none" stroke="#5F78B4" stroke-width="0.7"/>
<circle cx="448.44" cy="78.28" r="0.8" fill="none" stroke="#5F78B4" stroke-width="0.7"/>
<circle cx="443.50" cy="79.93" r="0.8" fill="none" stroke="#5F78B4" stroke-width="0.7"/>
<circle cx="447.54" cy="79.33" r="0.8" fill="none" stroke="#5F78B4" stroke-width="0.7"/>
<circle cx="456.22" cy="71.30" r="0.8" fill="none" stroke="#5F78B4" stroke-width="0.7"/>
<circle cx="448.01" cy="78.97" r="0.8" fill="none" stroke="#5F78B4" stroke-width="0.7"/>
<circle cx="445.49" cy="86.20" r="0.8" fill="none" stroke="#5F78B4" stroke-width="0.7"/>
<circle cx="444.98" cy="74.82" r="0.8" fill="none" stroke="#5F78B4" stroke-width="0.7"/>
<circle cx="448.43" cy="81.41" r="0.8" fill="none" stroke="#5F78B4" stroke-width="0.7"/>
<circle cx="452.02" cy="76.17" r="0.8" fill="none" stroke="#5F78B4" stroke-width="0.7"/>
<circle cx="448.22" cy="78.69" r="0.8" fill="none" stroke="#5F78B4" stroke-width="0.7"/>
<circle cx="443.53" cy="73.93" r="0.8" fill="none" stroke="#5F78B4" stroke-width="0.7"/>
<circle cx="448.41" cy="76.26" r="0.8" fill="none" stroke="#5F78B4" stroke-width="0.7"/>
<circle cx="449.31" cy="81.56" r="0.8" fill="none" stroke="#5F78B4" stroke-width="0.7"/>
<circle cx="462.85" cy="64.53" r="0.8" fill="none" stroke="#5F78B4" stroke-width="0.7"/>
<circle cx="445.86" cy="72.86" r="0.8" fill="none" stroke="#5F78B4" stroke-width="0.7"/>
<circle cx="446.69" cy="75.39" r="0.8" fill="none" stroke="#5F78B4" stroke-width="0.7"/>
<circle cx="447.48" cy="80.43" r="0.8" fill="none" stroke="#C84A6A" stroke-width="0.7"/>
<circle cx="460.59" cy="68.86" r="0.8" fill="none" stroke="#C84A6A" stroke-width="0.7"/>
<circle cx="455.35" cy="66.58" r="0.8" fill="none" stroke="#C84A6A" stroke-width="0.7"/>
<circle cx="451.02" cy="71.41" r="0.8" fill="none" stroke="#C84A6A" stroke-width="0.7"/>
<circle cx="443.82" cy="81.37" r="0.8" fill="none" stroke="#C84A6A" stroke-width="0.7"/>
<circle cx="455.05" cy="68.49" r="0.8" fill="none" stroke="#C84A6A" stroke-width="0.7"/>
<circle cx="445.86" cy="73.90" r="0.8" fill="none" stroke="#C84A6A" stroke-width="0.7"/>
<circle cx="448.28" cy="73.42" r="0.8" fill="none" stroke="#C84A6A" stroke-width="0.7"/>
<circle cx="452.20" cy="74.74" r="0.8" fill="none" stroke="#C84A6A" stroke-width="0.7"/>
<circle cx="441.20" cy="88.24" r="0.8" fill="none" stroke="#C84A6A" stroke-width="0.7"/>
<circle cx="441.73" cy="81.38" r="0.8" fill="none" stroke="#C84A6A" stroke-width="0.7"/>
<circle cx="449.16" cy="84.07" r="0.8" fill="none" stroke="#C84A6A" stroke-width="0.7"/>
<circle cx="454.74" cy="70.76" r="0.8" fill="none" stroke="#C84A6A" stroke-width="0.7"/>
<circle cx="442.96" cy="75.81" r="0.8" fill="none" stroke="#C84A6A" stroke-width="0.7"/>
<circle cx="449.65" cy="76.81" r="0.8" fill="none" stroke="#C84A6A" stroke-width="0.7"/>
<circle cx="452.41" cy="75.83" r="0.8" fill="none" stroke="#C84A6A" stroke-width="0.7"/>
<circle cx="454.85" cy="79.85" r="0.8" fill="none" stroke="#C84A6A" stroke-width="0.7"/>
<circle cx="459.47" cy="73.85" r="0.8" fill="none" stroke="#C84A6A" stroke-width="0.7"/>
<circle cx="450.73" cy="71.98" r="0.8" fill="none" stroke="#C84A6A" stroke-width="0.7"/>
<circle cx="449.74" cy="80.97" r="0.8" fill="none" stroke="#C84A6A" stroke-width="0.7"/>
<circle cx="455.13" cy="67.70" r="0.8" fill="none" stroke="#C84A6A" stroke-width="0.7"/>
<circle cx="451.24" cy="70.88" r="0.8" fill="none" stroke="#C84A6A" stroke-width="0.7"/>
<circle cx="447.91" cy="76.07" r="0.8" fill="none" stroke="#C84A6A" stroke-width="0.7"/>
<circle cx="439.82" cy="83.86" r="0.8" fill="none" stroke="#C84A6A" stroke-width="0.7"/>
<circle cx="451.05" cy="74.01" r="0.8" fill="none" stroke="#C84A6A" stroke-width="0.7"/>
<circle cx="456.80" cy="68.40" r="0.8" fill="none" stroke="#C84A6A" stroke-width="0.7"/>
<circle cx="452.31" cy="71.43" r="0.8" fill="none" stroke="#C84A6A" stroke-width="0.7"/>
<circle cx="441.70" cy="88.42" r="0.8" fill="none" stroke="#C84A6A" stroke-width="0.7"/>
<circle cx="448.55" cy="80.59" r="0.8" fill="none" stroke="#C84A6A" stroke-width="0.7"/>
<circle cx="448.27" cy="75.13" r="0.8" fill="none" stroke="#C84A6A" stroke-width="0.7"/>
<circle cx="447.40" cy="76.84" r="0.8" fill="none" stroke="#C84A6A" stroke-width="0.7"/>
<circle cx="437.60" cy="83.22" r="0.8" fill="none" stroke="#C84A6A" stroke-width="0.7"/>
<circle cx="456.64" cy="67.23" r="0.8" fill="none" stroke="#C84A6A" stroke-width="0.7"/>
<circle cx="447.59" cy="76.13" r="0.8" fill="none" stroke="#C84A6A" stroke-width="0.7"/>
<circle cx="459.42" cy="82.87" r="0.8" fill="none" stroke="#C84A6A" stroke-width="0.7"/>
<circle cx="452.50" cy="70.75" r="0.8" fill="none" stroke="#C84A6A" stroke-width="0.7"/>
<circle cx="440.20" cy="73.56" r="0.8" fill="none" stroke="#C84A6A" stroke-width="0.7"/>
<circle cx="455.37" cy="76.03" r="0.8" fill="none" stroke="#C84A6A" stroke-width="0.7"/>
<circle cx="454.98" cy="68.66" r="0.8" fill="none" stroke="#C84A6A" stroke-width="0.7"/>
<circle cx="444.24" cy="75.51" r="0.8" fill="none" stroke="#C84A6A" stroke-width="0.7"/>
<circle cx="449.40" cy="72.73" r="0.8" fill="none" stroke="#C84A6A" stroke-width="0.7"/>
<circle cx="451.22" cy="84.58" r="0.8" fill="none" stroke="#C84A6A" stroke-width="0.7"/>
<circle cx="444.96" cy="78.90" r="0.8" fill="none" stroke="#C84A6A" stroke-width="0.7"/>
<circle cx="446.44" cy="92.59" r="0.8" fill="none" stroke="#C84A6A" stroke-width="0.7"/>
<circle cx="449.54" cy="74.92" r="0.8" fill="none" stroke="#C84A6A" stroke-width="0.7"/>
<circle cx="448.84" cy="70.55" r="0.8" fill="none" stroke="#C84A6A" stroke-width="0.7"/>
<circle cx="448.89" cy="78.59" r="0.8" fill="none" stroke="#C84A6A" stroke-width="0.7"/>
<circle cx="448.18" cy="79.91" r="0.8" fill="none" stroke="#C84A6A" stroke-width="0.7"/>
<circle cx="457.66" cy="67.90" r="0.8" fill="none" stroke="#C84A6A" stroke-width="0.7"/>
<circle cx="459.45" cy="67.25" r="0.8" fill="none" stroke="#C84A6A" stroke-width="0.7"/>
<circle cx="458.23" cy="63.62" r="0.8" fill="none" stroke="#C84A6A" stroke-width="0.7"/>
<circle cx="448.61" cy="69.15" r="0.8" fill="none" stroke="#C84A6A" stroke-width="0.7"/>
<circle cx="447.39" cy="73.74" r="0.8" fill="none" stroke="#C84A6A" stroke-width="0.7"/>
<circle cx="446.79" cy="72.41" r="0.8" fill="none" stroke="#C84A6A" stroke-width="0.7"/>
<circle cx="459.98" cy="77.20" r="0.8" fill="none" stroke="#C84A6A" stroke-width="0.7"/>
<circle cx="449.20" cy="80.13" r="0.8" fill="none" stroke="#C84A6A" stroke-width="0.7"/>
<circle cx="450.55" cy="68.62" r="0.8" fill="none" stroke="#C84A6A" stroke-width="0.7"/>
<circle cx="447.58" cy="74.86" r="0.8" fill="none" stroke="#C84A6A" stroke-width="0.7"/>
<circle cx="450.12" cy="69.98" r="0.8" fill="none" stroke="#C84A6A" stroke-width="0.7"/>
<circle cx="463.51" cy="59.27" r="0.8" fill="none" stroke="#C84A6A" stroke-width="0.7"/>
<circle cx="461.89" cy="71.13" r="0.8" fill="none" stroke="#C84A6A" stroke-width="0.7"/>
<circle cx="455.53" cy="65.11" r="0.8" fill="none" stroke="#C84A6A" stroke-width="0.7"/>
<circle cx="451.99" cy="71.80" r="0.8" fill="none" stroke="#C84A6A" stroke-width="0.7"/>
<circle cx="454.61" cy="74.31" r="0.8" fill="none" stroke="#C84A6A" stroke-width="0.7"/>
<circle cx="437.17" cy="83.28" r="0.8" fill="none" stroke="#C84A6A" stroke-width="0.7"/>
<circle cx="450.57" cy="77.02" r="0.8" fill="none" stroke="#C84A6A" stroke-width="0.7"/>
<circle cx="447.84" cy="76.78" r="0.8" fill="none" stroke="#C84A6A" stroke-width="0.7"/>
<circle cx="456.96" cy="68.39" r="0.8" fill="none" stroke="#C84A6A" stroke-width="0.7"/>
<circle cx="448.89" cy="74.08" r="0.8" fill="none" stroke="#C84A6A" stroke-width="0.7"/>
<circle cx="446.10" cy="84.41" r="0.8" fill="none" stroke="#C84A6A" stroke-width="0.7"/>
<circle cx="447.69" cy="71.47" r="0.8" fill="none" stroke="#C84A6A" stroke-width="0.7"/>
<circle cx="451.06" cy="70.26" r="0.8" fill="none" stroke="#C84A6A" stroke-width="0.7"/>
<circle cx="443.62" cy="72.97" r="0.8" fill="none" stroke="#C84A6A" stroke-width="0.7"/>
<circle cx="451.32" cy="66.97" r="0.8" fill="none" stroke="#C84A6A" stroke-width="0.7"/>
<circle cx="452.11" cy="72.74" r="0.8" fill="none" stroke="#C84A6A" stroke-width="0.7"/>
<line x1="438.70" y1="85.00" x2="460.30" y2="68.30" stroke="#213F7E" stroke-width="1.4"/>
<line x1="436.90" y1="90.70" x2="458.50" y2="68.60" stroke="#A80A2E" stroke-width="1.4"/>
<text x="480.20" y="26.98" font-size="6.9" text-anchor="start" fill="#1a1a1a" textLength="13.00" lengthAdjust="spacingAndGlyphs">Slope</text>
<text x="502.70" y="26.98" font-size="6.9" text-anchor="start" fill="#1a1a1a" textLength="3.60" lengthAdjust="spacingAndGlyphs">R</text>
<line x1="472.40" y1="28.50" x2="512.70" y2="28.50" stroke="#333" stroke-width="1.2"/>
<line x1="497.20" y1="20.20" x2="497.20" y2="46.20" stroke="#333" stroke-width="1.2"/>
<line x1="437.80" y1="34.90" x2="443.80" y2="34.90" stroke="#7F97C6" stroke-width="1.3"/>
<text x="447.30" y="37.38" font-size="6.9" text-anchor="start" fill="#4A67A8" textLength="3.30" lengthAdjust="spacingAndGlyphs">R</text>
<text x="460.30" y="37.38" font-size="6.9" text-anchor="start" fill="#4A67A8" textLength="30.60" lengthAdjust="spacingAndGlyphs">0.387±0.066</text>
<text x="500.10" y="37.38" font-size="6.9" text-anchor="start" fill="#4A67A8" textLength="11.20" lengthAdjust="spacingAndGlyphs">0.54</text>
<line x1="437.80" y1="43.00" x2="443.80" y2="43.00" stroke="#C84A64" stroke-width="1.3"/>
<text x="447.30" y="45.48" font-size="6.9" text-anchor="start" fill="#B3173C" textLength="7.30" lengthAdjust="spacingAndGlyphs">NR</text>
<text x="460.30" y="45.48" font-size="6.9" text-anchor="start" fill="#B3173C" textLength="30.60" lengthAdjust="spacingAndGlyphs">0.559±0.074</text>
<text x="500.10" y="45.48" font-size="6.9" text-anchor="start" fill="#B3173C" textLength="11.20" lengthAdjust="spacingAndGlyphs">0.64</text>
<text x="463.70" y="55.49" font-size="5.8" text-anchor="start" fill="#1a1a1a" textLength="23.40" lengthAdjust="spacingAndGlyphs">p&lt;0.0001</text>
<text x="7.50" y="152.30" font-size="11.4" text-anchor="start" fill="#000" textLength="9.63" lengthAdjust="spacingAndGlyphs" font-weight="bold">H</text>
<line x1="49.00" y1="154.20" x2="49.00" y2="221.00" stroke="#151515" stroke-width="1.3"/>
<line x1="47.20" y1="220.50" x2="49.00" y2="220.50" stroke="#333" stroke-width="0.65"/>
<line x1="47.20" y1="218.48" x2="49.00" y2="218.48" stroke="#333" stroke-width="0.65"/>
<line x1="47.20" y1="216.46" x2="49.00" y2="216.46" stroke="#333" stroke-width="0.65"/>
<line x1="47.20" y1="214.44" x2="49.00" y2="214.44" stroke="#333" stroke-width="0.65"/>
<line x1="47.20" y1="212.42" x2="49.00" y2="212.42" stroke="#333" stroke-width="0.65"/>
<line x1="47.20" y1="210.40" x2="49.00" y2="210.40" stroke="#333" stroke-width="0.65"/>
<line x1="47.20" y1="208.38" x2="49.00" y2="208.38" stroke="#333" stroke-width="0.65"/>
<line x1="47.20" y1="206.36" x2="49.00" y2="206.36" stroke="#333" stroke-width="0.65"/>
<line x1="47.20" y1="204.34" x2="49.00" y2="204.34" stroke="#333" stroke-width="0.65"/>
<line x1="47.20" y1="202.32" x2="49.00" y2="202.32" stroke="#333" stroke-width="0.65"/>
<line x1="47.20" y1="200.30" x2="49.00" y2="200.30" stroke="#333" stroke-width="0.65"/>
<line x1="47.20" y1="198.28" x2="49.00" y2="198.28" stroke="#333" stroke-width="0.65"/>
<line x1="47.20" y1="196.26" x2="49.00" y2="196.26" stroke="#333" stroke-width="0.65"/>
<line x1="47.20" y1="194.24" x2="49.00" y2="194.24" stroke="#333" stroke-width="0.65"/>
<line x1="47.20" y1="192.22" x2="49.00" y2="192.22" stroke="#333" stroke-width="0.65"/>
<line x1="47.20" y1="190.20" x2="49.00" y2="190.20" stroke="#333" stroke-width="0.65"/>
<line x1="47.20" y1="188.18" x2="49.00" y2="188.18" stroke="#333" stroke-width="0.65"/>
<line x1="47.20" y1="186.16" x2="49.00" y2="186.16" stroke="#333" stroke-width="0.65"/>
<line x1="47.20" y1="184.14" x2="49.00" y2="184.14" stroke="#333" stroke-width="0.65"/>
<line x1="47.20" y1="182.12" x2="49.00" y2="182.12" stroke="#333" stroke-width="0.65"/>
<line x1="47.20" y1="180.10" x2="49.00" y2="180.10" stroke="#333" stroke-width="0.65"/>
<line x1="47.20" y1="178.08" x2="49.00" y2="178.08" stroke="#333" stroke-width="0.65"/>
<line x1="47.20" y1="176.06" x2="49.00" y2="176.06" stroke="#333" stroke-width="0.65"/>
<line x1="47.20" y1="174.04" x2="49.00" y2="174.04" stroke="#333" stroke-width="0.65"/>
<line x1="47.20" y1="172.02" x2="49.00" y2="172.02" stroke="#333" stroke-width="0.65"/>
<line x1="47.20" y1="170.00" x2="49.00" y2="170.00" stroke="#333" stroke-width="0.65"/>
<line x1="47.20" y1="167.98" x2="49.00" y2="167.98" stroke="#333" stroke-width="0.65"/>
<line x1="47.20" y1="165.96" x2="49.00" y2="165.96" stroke="#333" stroke-width="0.65"/>
<line x1="47.20" y1="163.94" x2="49.00" y2="163.94" stroke="#333" stroke-width="0.65"/>
<line x1="47.20" y1="161.92" x2="49.00" y2="161.92" stroke="#333" stroke-width="0.65"/>
<line x1="47.20" y1="159.90" x2="49.00" y2="159.90" stroke="#333" stroke-width="0.65"/>
<line x1="47.20" y1="157.88" x2="49.00" y2="157.88" stroke="#333" stroke-width="0.65"/>
<line x1="47.20" y1="155.86" x2="49.00" y2="155.86" stroke="#333" stroke-width="0.65"/>
<line x1="45.80" y1="162.00" x2="49.00" y2="162.00" stroke="#151515" stroke-width="1"/>
<text x="43.40" y="164.27" font-size="6.3" text-anchor="end" fill="#1a1a1a" textLength="9.90" lengthAdjust="spacingAndGlyphs">100</text>
<line x1="45.80" y1="191.25" x2="49.00" y2="191.25" stroke="#151515" stroke-width="1"/>
<text x="43.40" y="193.52" font-size="6.3" text-anchor="end" fill="#1a1a1a" textLength="6.60" lengthAdjust="spacingAndGlyphs">50</text>
<line x1="45.80" y1="220.50" x2="49.00" y2="220.50" stroke="#151515" stroke-width="1"/>
<text x="43.40" y="222.77" font-size="6.3" text-anchor="end" fill="#1a1a1a" textLength="3.30" lengthAdjust="spacingAndGlyphs">0</text>
<line x1="49.00" y1="220.50" x2="149.00" y2="220.50" stroke="#151515" stroke-width="1.3"/>
<line x1="49.00" y1="220.50" x2="49.00" y2="223.10" stroke="#151515" stroke-width="1"/>
<text x="49.00" y="233.67" font-size="6.3" text-anchor="middle" fill="#1a1a1a" textLength="3.30" lengthAdjust="spacingAndGlyphs">0</text>
<line x1="68.36" y1="220.50" x2="68.36" y2="223.10" stroke="#151515" stroke-width="1"/>
<text x="68.36" y="233.67" font-size="6.3" text-anchor="middle" fill="#1a1a1a" textLength="10.00" lengthAdjust="spacingAndGlyphs">500</text>
<line x1="87.72" y1="220.50" x2="87.72" y2="223.10" stroke="#151515" stroke-width="1"/>
<text x="87.72" y="233.67" font-size="6.3" text-anchor="middle" fill="#1a1a1a" textLength="15.50" lengthAdjust="spacingAndGlyphs">1,000</text>
<line x1="107.08" y1="220.50" x2="107.08" y2="223.10" stroke="#151515" stroke-width="1"/>
<text x="107.08" y="233.67" font-size="6.3" text-anchor="middle" fill="#1a1a1a" textLength="15.50" lengthAdjust="spacingAndGlyphs">1,500</text>
<line x1="126.44" y1="220.50" x2="126.44" y2="223.10" stroke="#151515" stroke-width="1"/>
<text x="126.44" y="233.67" font-size="6.3" text-anchor="middle" fill="#1a1a1a" textLength="15.50" lengthAdjust="spacingAndGlyphs">2,000</text>
<line x1="145.80" y1="220.50" x2="145.80" y2="223.10" stroke="#151515" stroke-width="1"/>
<text x="145.80" y="233.67" font-size="6.3" text-anchor="middle" fill="#1a1a1a" textLength="15.50" lengthAdjust="spacingAndGlyphs">2,500</text>
<text x="0" y="3.17" font-size="8.8" text-anchor="middle" fill="#1a1a1a" textLength="11.30" lengthAdjust="spacingAndGlyphs" transform="translate(23.40 187.60) rotate(-90)">RFS</text>
<text x="99.20" y="156.17" font-size="8.8" text-anchor="middle" fill="#1a1a1a" textLength="10.40" lengthAdjust="spacingAndGlyphs" stroke="#1a1a1a" stroke-width="0.05">Btz</text>
<text x="62.30" y="163.87" font-size="6.3" text-anchor="start" fill="#1a1a1a" textLength="57.30" lengthAdjust="spacingAndGlyphs">Logrank p= 4.8e-08</text>
<line x1="111.80" y1="169.00" x2="119.60" y2="169.00" stroke="#A80A2E" stroke-width="0.9"/>
<circle cx="115.70" cy="169.00" r="1.6" fill="#A80A2E"/>
<text x="123.40" y="171.23" font-size="6.2" fill="#A80A2E" textLength="8.40" lengthAdjust="spacingAndGlyphs">MIF</text>
<text x="132.30" y="168.26" font-size="4.34" fill="#A80A2E">high</text>
<line x1="111.80" y1="178.00" x2="119.60" y2="178.00" stroke="#213F7E" stroke-width="0.9"/>
<circle cx="115.70" cy="178.00" r="1.6" fill="#213F7E"/>
<text x="123.40" y="180.23" font-size="6.2" fill="#213F7E" textLength="8.40" lengthAdjust="spacingAndGlyphs">MIF</text>
<text x="132.30" y="177.26" font-size="4.34" fill="#213F7E">low</text>
<polyline points="48.60,161.90 53.20,164.00 56.40,167.30 59.70,170.50 63.00,173.00 69.50,176.20 76.90,178.70 80.10,183.60 87.50,188.50 95.70,192.30 98.90,195.00 103.80,198.30 107.90,202.40 124.30,202.90" fill="none" stroke="#213F7E" stroke-width="1.9" stroke-linejoin="round" stroke-linecap="square"/>
<path d="M47.18 160.43h2.7v2.7h-2.7zM48.96 161.48h2.7v2.7h-2.7zM51.71 162.63h2.7v2.7h-2.7zM53.73 164.79h2.7v2.7h-2.7zM55.87 166.96h2.7v2.7h-2.7zM57.57 168.24h2.7v2.7h-2.7zM58.64 169.66h2.7v2.7h-2.7zM60.49 170.82h2.7v2.7h-2.7zM62.12 171.69h2.7v2.7h-2.7zM63.87 172.67h2.7v2.7h-2.7zM66.16 174.02h2.7v2.7h-2.7zM68.87 174.83h2.7v2.7h-2.7zM70.83 175.73h2.7v2.7h-2.7zM73.05 176.31h2.7v2.7h-2.7zM75.92 177.60h2.7v2.7h-2.7zM77.31 180.17h2.7v2.7h-2.7zM79.20 182.53h2.7v2.7h-2.7zM80.55 183.65h2.7v2.7h-2.7zM83.22 185.16h2.7v2.7h-2.7zM84.75 186.34h2.7v2.7h-2.7zM87.09 187.58h2.7v2.7h-2.7zM89.53 188.87h2.7v2.7h-2.7zM92.60 190.09h2.7v2.7h-2.7zM94.40 190.65h2.7v2.7h-2.7zM96.29 192.87h2.7v2.7h-2.7zM98.13 194.13h2.7v2.7h-2.7zM100.14 195.35h2.7v2.7h-2.7zM102.26 196.66h2.7v2.7h-2.7zM103.95 198.76h2.7v2.7h-2.7zM106.04 200.86h2.7v2.7h-2.7zM108.52 200.94h2.7v2.7h-2.7zM110.63 201.17h2.7v2.7h-2.7zM114.28 201.05h2.7v2.7h-2.7zM117.32 201.41h2.7v2.7h-2.7zM119.96 201.52h2.7v2.7h-2.7zM122.71 201.40h2.7v2.7h-2.7z" fill="#213F7E"/>
<polyline points="48.60,161.90 52.40,168.00 55.60,173.00 59.70,177.00 63.00,180.30 65.40,185.20 69.50,190.10 74.40,196.70 82.60,200.00 89.10,204.00 96.50,209.80 102.20,209.80 104.70,213.80 108.70,218.00 114.50,218.00" fill="none" stroke="#A80A2E" stroke-width="1.7" stroke-linejoin="round" stroke-linecap="square"/>
<path d="M47.42 160.79h2.4v2.4h-2.4zM48.55 162.45h2.4v2.4h-2.4zM50.02 165.21h2.4v2.4h-2.4zM51.68 167.67h2.4v2.4h-2.4zM53.24 169.86h2.4v2.4h-2.4zM54.40 171.60h2.4v2.4h-2.4zM56.18 173.57h2.4v2.4h-2.4zM58.40 175.47h2.4v2.4h-2.4zM59.89 177.12h2.4v2.4h-2.4zM62.23 179.70h2.4v2.4h-2.4zM63.05 182.06h2.4v2.4h-2.4zM64.99 184.64h2.4v2.4h-2.4zM66.46 186.50h2.4v2.4h-2.4zM67.89 188.48h2.4v2.4h-2.4zM69.00 190.34h2.4v2.4h-2.4zM71.33 192.80h2.4v2.4h-2.4zM72.29 194.61h2.4v2.4h-2.4zM73.87 195.54h2.4v2.4h-2.4zM76.75 196.66h2.4v2.4h-2.4zM79.75 198.20h2.4v2.4h-2.4zM82.29 199.28h2.4v2.4h-2.4zM84.73 200.82h2.4v2.4h-2.4zM86.96 202.36h2.4v2.4h-2.4zM89.85 204.39h2.4v2.4h-2.4zM92.18 206.53h2.4v2.4h-2.4zM94.02 207.51h2.4v2.4h-2.4zM96.50 208.81h2.4v2.4h-2.4zM98.27 208.60h2.4v2.4h-2.4zM100.86 208.87h2.4v2.4h-2.4zM102.71 211.42h2.4v2.4h-2.4zM104.02 213.26h2.4v2.4h-2.4zM106.08 215.39h2.4v2.4h-2.4zM108.38 216.65h2.4v2.4h-2.4zM111.27 216.68h2.4v2.4h-2.4z" fill="#A80A2E"/>
<text x="102.20" y="189.90" font-size="6.1" text-anchor="middle" fill="#213F7E">236</text>
<text x="85.80" y="200.00" font-size="6.1" text-anchor="middle" fill="#A80A2E">99</text>
<text x="98.90" y="245.94" font-size="9.0" text-anchor="middle" fill="#1a1a1a" textLength="14.20" lengthAdjust="spacingAndGlyphs">Days</text>
<text x="32.50" y="255.84" font-size="5.4" text-anchor="start" fill="#1a1a1a" textLength="26.10" lengthAdjust="spacingAndGlyphs">No. at Risk</text>
<text x="41.60" y="264.02" font-size="5.9" fill="#A80A2E" textLength="7.80" lengthAdjust="spacingAndGlyphs">MIF</text>
<text x="49.90" y="261.19" font-size="4.13" fill="#A80A2E">high</text>
<text x="43.10" y="270.82" font-size="5.9" fill="#213F7E" textLength="7.80" lengthAdjust="spacingAndGlyphs">MIF</text>
<text x="51.40" y="267.99" font-size="4.13" fill="#213F7E">low</text>
<text x="58.20" y="263.92" font-size="5.6" text-anchor="end" fill="#A80A2E">:</text>
<text x="58.20" y="270.72" font-size="5.6" text-anchor="end" fill="#213F7E">:</text>
<text x="68.50" y="263.88" font-size="5.5" text-anchor="middle" fill="#A80A2E" textLength="6.90" lengthAdjust="spacingAndGlyphs">50</text>
<text x="68.50" y="270.68" font-size="5.5" text-anchor="middle" fill="#213F7E" textLength="10.35" lengthAdjust="spacingAndGlyphs">164</text>
<text x="89.20" y="263.88" font-size="5.5" text-anchor="middle" fill="#A80A2E" textLength="6.90" lengthAdjust="spacingAndGlyphs">20</text>
<text x="89.20" y="270.68" font-size="5.5" text-anchor="middle" fill="#213F7E" textLength="6.90" lengthAdjust="spacingAndGlyphs">86</text>
<text x="110.00" y="263.88" font-size="5.5" text-anchor="middle" fill="#A80A2E" textLength="3.45" lengthAdjust="spacingAndGlyphs">4</text>
<text x="110.00" y="270.68" font-size="5.5" text-anchor="middle" fill="#213F7E" textLength="6.90" lengthAdjust="spacingAndGlyphs">18</text>
<text x="129.40" y="263.88" font-size="5.5" text-anchor="middle" fill="#A80A2E" textLength="3.45" lengthAdjust="spacingAndGlyphs">1</text>
<text x="129.40" y="270.68" font-size="5.5" text-anchor="middle" fill="#213F7E" textLength="3.45" lengthAdjust="spacingAndGlyphs">1</text>
<text x="172.00" y="152.30" font-size="11.4" text-anchor="start" fill="#000" textLength="3.71" lengthAdjust="spacingAndGlyphs" font-weight="bold">I</text>
<line x1="211.00" y1="154.20" x2="211.00" y2="221.00" stroke="#151515" stroke-width="1.3"/>
<line x1="209.20" y1="220.50" x2="211.00" y2="220.50" stroke="#333" stroke-width="0.65"/>
<line x1="209.20" y1="218.48" x2="211.00" y2="218.48" stroke="#333" stroke-width="0.65"/>
<line x1="209.20" y1="216.46" x2="211.00" y2="216.46" stroke="#333" stroke-width="0.65"/>
<line x1="209.20" y1="214.44" x2="211.00" y2="214.44" stroke="#333" stroke-width="0.65"/>
<line x1="209.20" y1="212.42" x2="211.00" y2="212.42" stroke="#333" stroke-width="0.65"/>
<line x1="209.20" y1="210.40" x2="211.00" y2="210.40" stroke="#333" stroke-width="0.65"/>
<line x1="209.20" y1="208.38" x2="211.00" y2="208.38" stroke="#333" stroke-width="0.65"/>
<line x1="209.20" y1="206.36" x2="211.00" y2="206.36" stroke="#333" stroke-width="0.65"/>
<line x1="209.20" y1="204.34" x2="211.00" y2="204.34" stroke="#333" stroke-width="0.65"/>
<line x1="209.20" y1="202.32" x2="211.00" y2="202.32" stroke="#333" stroke-width="0.65"/>
<line x1="209.20" y1="200.30" x2="211.00" y2="200.30" stroke="#333" stroke-width="0.65"/>
<line x1="209.20" y1="198.28" x2="211.00" y2="198.28" stroke="#333" stroke-width="0.65"/>
<line x1="209.20" y1="196.26" x2="211.00" y2="196.26" stroke="#333" stroke-width="0.65"/>
<line x1="209.20" y1="194.24" x2="211.00" y2="194.24" stroke="#333" stroke-width="0.65"/>
<line x1="209.20" y1="192.22" x2="211.00" y2="192.22" stroke="#333" stroke-width="0.65"/>
<line x1="209.20" y1="190.20" x2="211.00" y2="190.20" stroke="#333" stroke-width="0.65"/>
<line x1="209.20" y1="188.18" x2="211.00" y2="188.18" stroke="#333" stroke-width="0.65"/>
<line x1="209.20" y1="186.16" x2="211.00" y2="186.16" stroke="#333" stroke-width="0.65"/>
<line x1="209.20" y1="184.14" x2="211.00" y2="184.14" stroke="#333" stroke-width="0.65"/>
<line x1="209.20" y1="182.12" x2="211.00" y2="182.12" stroke="#333" stroke-width="0.65"/>
<line x1="209.20" y1="180.10" x2="211.00" y2="180.10" stroke="#333" stroke-width="0.65"/>
<line x1="209.20" y1="178.08" x2="211.00" y2="178.08" stroke="#333" stroke-width="0.65"/>
<line x1="209.20" y1="176.06" x2="211.00" y2="176.06" stroke="#333" stroke-width="0.65"/>
<line x1="209.20" y1="174.04" x2="211.00" y2="174.04" stroke="#333" stroke-width="0.65"/>
<line x1="209.20" y1="172.02" x2="211.00" y2="172.02" stroke="#333" stroke-width="0.65"/>
<line x1="209.20" y1="170.00" x2="211.00" y2="170.00" stroke="#333" stroke-width="0.65"/>
<line x1="209.20" y1="167.98" x2="211.00" y2="167.98" stroke="#333" stroke-width="0.65"/>
<line x1="209.20" y1="165.96" x2="211.00" y2="165.96" stroke="#333" stroke-width="0.65"/>
<line x1="209.20" y1="163.94" x2="211.00" y2="163.94" stroke="#333" stroke-width="0.65"/>
<line x1="209.20" y1="161.92" x2="211.00" y2="161.92" stroke="#333" stroke-width="0.65"/>
<line x1="209.20" y1="159.90" x2="211.00" y2="159.90" stroke="#333" stroke-width="0.65"/>
<line x1="209.20" y1="157.88" x2="211.00" y2="157.88" stroke="#333" stroke-width="0.65"/>
<line x1="209.20" y1="155.86" x2="211.00" y2="155.86" stroke="#333" stroke-width="0.65"/>
<line x1="207.80" y1="162.00" x2="211.00" y2="162.00" stroke="#151515" stroke-width="1"/>
<text x="205.40" y="164.27" font-size="6.3" text-anchor="end" fill="#1a1a1a" textLength="9.90" lengthAdjust="spacingAndGlyphs">100</text>
<line x1="207.80" y1="191.25" x2="211.00" y2="191.25" stroke="#151515" stroke-width="1"/>
<text x="205.40" y="193.52" font-size="6.3" text-anchor="end" fill="#1a1a1a" textLength="6.60" lengthAdjust="spacingAndGlyphs">50</text>
<line x1="207.80" y1="220.50" x2="211.00" y2="220.50" stroke="#151515" stroke-width="1"/>
<text x="205.40" y="222.77" font-size="6.3" text-anchor="end" fill="#1a1a1a" textLength="3.30" lengthAdjust="spacingAndGlyphs">0</text>
<line x1="211.00" y1="220.50" x2="310.00" y2="220.50" stroke="#151515" stroke-width="1.3"/>
<line x1="211.00" y1="220.50" x2="211.00" y2="223.10" stroke="#151515" stroke-width="1"/>
<text x="211.00" y="233.67" font-size="6.3" text-anchor="middle" fill="#1a1a1a" textLength="3.30" lengthAdjust="spacingAndGlyphs">0</text>
<line x1="230.18" y1="220.50" x2="230.18" y2="223.10" stroke="#151515" stroke-width="1"/>
<text x="230.18" y="233.67" font-size="6.3" text-anchor="middle" fill="#1a1a1a" textLength="10.00" lengthAdjust="spacingAndGlyphs">500</text>
<line x1="249.36" y1="220.50" x2="249.36" y2="223.10" stroke="#151515" stroke-width="1"/>
<text x="249.36" y="233.67" font-size="6.3" text-anchor="middle" fill="#1a1a1a" textLength="15.50" lengthAdjust="spacingAndGlyphs">1,000</text>
<line x1="268.54" y1="220.50" x2="268.54" y2="223.10" stroke="#151515" stroke-width="1"/>
<text x="268.54" y="233.67" font-size="6.3" text-anchor="middle" fill="#1a1a1a" textLength="15.50" lengthAdjust="spacingAndGlyphs">1,500</text>
<line x1="287.72" y1="220.50" x2="287.72" y2="223.10" stroke="#151515" stroke-width="1"/>
<text x="287.72" y="233.67" font-size="6.3" text-anchor="middle" fill="#1a1a1a" textLength="15.50" lengthAdjust="spacingAndGlyphs">2,000</text>
<line x1="306.90" y1="220.50" x2="306.90" y2="223.10" stroke="#151515" stroke-width="1"/>
<text x="306.90" y="233.67" font-size="6.3" text-anchor="middle" fill="#1a1a1a" textLength="15.50" lengthAdjust="spacingAndGlyphs">2,500</text>
<text x="0" y="3.17" font-size="8.8" text-anchor="middle" fill="#1a1a1a" textLength="45.00" lengthAdjust="spacingAndGlyphs" transform="translate(185.90 187.50) rotate(-90)">Overall survival</text>
<text x="261.50" y="156.17" font-size="8.8" text-anchor="middle" fill="#1a1a1a" textLength="10.40" lengthAdjust="spacingAndGlyphs" stroke="#1a1a1a" stroke-width="0.05">Btz</text>
<text x="225.00" y="163.87" font-size="6.3" text-anchor="start" fill="#1a1a1a" textLength="56.80" lengthAdjust="spacingAndGlyphs">Logrank p= 5.5e-10</text>
<line x1="215.90" y1="205.80" x2="223.60" y2="205.80" stroke="#A80A2E" stroke-width="0.9"/>
<circle cx="219.75" cy="205.80" r="1.6" fill="#A80A2E"/>
<text x="227.50" y="208.03" font-size="6.2" fill="#A80A2E" textLength="8.40" lengthAdjust="spacingAndGlyphs">MIF</text>
<text x="236.40" y="205.06" font-size="4.34" fill="#A80A2E">high</text>
<line x1="215.90" y1="215.00" x2="223.60" y2="215.00" stroke="#213F7E" stroke-width="0.9"/>
<circle cx="219.75" cy="215.00" r="1.6" fill="#213F7E"/>
<text x="227.50" y="217.23" font-size="6.2" fill="#213F7E" textLength="8.40" lengthAdjust="spacingAndGlyphs">MIF</text>
<text x="236.40" y="214.26" font-size="4.34" fill="#213F7E">low</text>
<polyline points="211.00,162.00 230.90,166.30 249.40,170.30 262.90,172.60 283.10,173.40 284.80,181.40 293.90,181.40" fill="none" stroke="#213F7E" stroke-width="1.9" stroke-linejoin="round" stroke-linecap="square"/>
<path d="M209.49 160.42h2.7v2.7h-2.7zM211.76 160.99h2.7v2.7h-2.7zM213.98 161.65h2.7v2.7h-2.7zM216.89 162.29h2.7v2.7h-2.7zM219.94 162.96h2.7v2.7h-2.7zM222.81 163.24h2.7v2.7h-2.7zM225.39 164.05h2.7v2.7h-2.7zM228.06 164.71h2.7v2.7h-2.7zM230.72 165.02h2.7v2.7h-2.7zM233.76 165.95h2.7v2.7h-2.7zM236.40 166.56h2.7v2.7h-2.7zM239.28 167.24h2.7v2.7h-2.7zM240.71 167.23h2.7v2.7h-2.7zM243.00 167.74h2.7v2.7h-2.7zM245.15 168.32h2.7v2.7h-2.7zM247.20 168.94h2.7v2.7h-2.7zM249.63 169.42h2.7v2.7h-2.7zM252.14 169.80h2.7v2.7h-2.7zM254.36 170.26h2.7v2.7h-2.7zM256.82 170.54h2.7v2.7h-2.7zM259.62 170.98h2.7v2.7h-2.7zM262.78 171.47h2.7v2.7h-2.7zM265.72 171.54h2.7v2.7h-2.7zM267.36 171.51h2.7v2.7h-2.7zM269.69 171.56h2.7v2.7h-2.7zM271.40 171.51h2.7v2.7h-2.7zM274.52 171.64h2.7v2.7h-2.7zM277.45 171.83h2.7v2.7h-2.7zM279.84 172.13h2.7v2.7h-2.7zM281.68 172.72h2.7v2.7h-2.7zM282.42 174.88h2.7v2.7h-2.7zM283.14 177.51h2.7v2.7h-2.7zM284.11 180.21h2.7v2.7h-2.7zM286.19 180.20h2.7v2.7h-2.7zM288.95 180.16h2.7v2.7h-2.7zM291.98 180.13h2.7v2.7h-2.7z" fill="#213F7E"/>
<polyline points="211.00,162.00 222.50,166.90 230.90,172.00 239.30,178.70 247.70,183.80 256.10,190.50 261.20,192.20 267.90,193.00 270.20,195.50 271.40,196.60 287.00,196.60" fill="none" stroke="#A80A2E" stroke-width="1.7" stroke-linejoin="round" stroke-linecap="square"/>
<path d="M210.03 160.57h2.4v2.4h-2.4zM212.18 161.56h2.4v2.4h-2.4zM214.81 163.23h2.4v2.4h-2.4zM216.81 163.74h2.4v2.4h-2.4zM218.58 164.60h2.4v2.4h-2.4zM220.83 165.43h2.4v2.4h-2.4zM223.49 167.00h2.4v2.4h-2.4zM225.86 168.71h2.4v2.4h-2.4zM229.04 170.47h2.4v2.4h-2.4zM230.27 171.50h2.4v2.4h-2.4zM232.98 173.36h2.4v2.4h-2.4zM234.61 175.00h2.4v2.4h-2.4zM236.54 176.14h2.4v2.4h-2.4zM238.35 177.80h2.4v2.4h-2.4zM240.77 179.09h2.4v2.4h-2.4zM242.77 180.12h2.4v2.4h-2.4zM245.38 181.74h2.4v2.4h-2.4zM247.85 183.41h2.4v2.4h-2.4zM249.44 184.90h2.4v2.4h-2.4zM251.90 186.64h2.4v2.4h-2.4zM254.15 188.81h2.4v2.4h-2.4zM256.51 190.11h2.4v2.4h-2.4zM258.78 190.80h2.4v2.4h-2.4zM261.25 191.04h2.4v2.4h-2.4zM263.55 191.43h2.4v2.4h-2.4zM266.28 191.59h2.4v2.4h-2.4zM268.44 193.62h2.4v2.4h-2.4zM270.30 195.19h2.4v2.4h-2.4zM272.38 195.16h2.4v2.4h-2.4zM274.80 195.48h2.4v2.4h-2.4zM276.88 195.55h2.4v2.4h-2.4zM279.07 195.45h2.4v2.4h-2.4zM281.83 195.63h2.4v2.4h-2.4zM284.29 195.29h2.4v2.4h-2.4z" fill="#A80A2E"/>
<text x="264.50" y="189.20" font-size="6.1" text-anchor="middle" fill="#213F7E">247</text>
<text x="247.90" y="199.30" font-size="6.1" text-anchor="middle" fill="#A80A2E">97</text>
<text x="260.60" y="246.04" font-size="9.0" text-anchor="middle" fill="#1a1a1a" textLength="14.20" lengthAdjust="spacingAndGlyphs">Days</text>
<text x="194.60" y="255.84" font-size="5.4" text-anchor="start" fill="#1a1a1a" textLength="26.10" lengthAdjust="spacingAndGlyphs">No. at Risk</text>
<text x="203.80" y="264.02" font-size="5.9" fill="#A80A2E" textLength="7.80" lengthAdjust="spacingAndGlyphs">MIF</text>
<text x="212.10" y="261.19" font-size="4.13" fill="#A80A2E">high</text>
<text x="205.30" y="270.82" font-size="5.9" fill="#213F7E" textLength="7.80" lengthAdjust="spacingAndGlyphs">MIF</text>
<text x="213.60" y="267.99" font-size="4.13" fill="#213F7E">low</text>
<text x="220.40" y="263.92" font-size="5.6" text-anchor="end" fill="#A80A2E">:</text>
<text x="220.40" y="270.72" font-size="5.6" text-anchor="end" fill="#213F7E">:</text>
<text x="229.60" y="263.88" font-size="5.5" text-anchor="middle" fill="#A80A2E" textLength="6.90" lengthAdjust="spacingAndGlyphs">75</text>
<text x="229.60" y="270.68" font-size="5.5" text-anchor="middle" fill="#213F7E" textLength="10.35" lengthAdjust="spacingAndGlyphs">211</text>
<text x="249.50" y="263.88" font-size="5.5" text-anchor="middle" fill="#A80A2E" textLength="6.90" lengthAdjust="spacingAndGlyphs">42</text>
<text x="249.50" y="270.68" font-size="5.5" text-anchor="middle" fill="#213F7E" textLength="10.35" lengthAdjust="spacingAndGlyphs">147</text>
<text x="268.80" y="263.88" font-size="5.5" text-anchor="middle" fill="#A80A2E" textLength="6.90" lengthAdjust="spacingAndGlyphs">13</text>
<text x="268.80" y="270.68" font-size="5.5" text-anchor="middle" fill="#213F7E" textLength="6.90" lengthAdjust="spacingAndGlyphs">44</text>
<text x="287.70" y="263.88" font-size="5.5" text-anchor="middle" fill="#A80A2E" textLength="3.45" lengthAdjust="spacingAndGlyphs">1</text>
<text x="287.70" y="270.68" font-size="5.5" text-anchor="middle" fill="#213F7E" textLength="6.90" lengthAdjust="spacingAndGlyphs">22</text>
<text x="332.60" y="152.30" font-size="11.4" text-anchor="start" fill="#000" textLength="7.42" lengthAdjust="spacingAndGlyphs" font-weight="bold">J</text>
<line x1="372.90" y1="154.20" x2="372.90" y2="221.00" stroke="#151515" stroke-width="1.3"/>
<line x1="371.10" y1="220.50" x2="372.90" y2="220.50" stroke="#333" stroke-width="0.65"/>
<line x1="371.10" y1="218.48" x2="372.90" y2="218.48" stroke="#333" stroke-width="0.65"/>
<line x1="371.10" y1="216.46" x2="372.90" y2="216.46" stroke="#333" stroke-width="0.65"/>
<line x1="371.10" y1="214.44" x2="372.90" y2="214.44" stroke="#333" stroke-width="0.65"/>
<line x1="371.10" y1="212.42" x2="372.90" y2="212.42" stroke="#333" stroke-width="0.65"/>
<line x1="371.10" y1="210.40" x2="372.90" y2="210.40" stroke="#333" stroke-width="0.65"/>
<line x1="371.10" y1="208.38" x2="372.90" y2="208.38" stroke="#333" stroke-width="0.65"/>
<line x1="371.10" y1="206.36" x2="372.90" y2="206.36" stroke="#333" stroke-width="0.65"/>
<line x1="371.10" y1="204.34" x2="372.90" y2="204.34" stroke="#333" stroke-width="0.65"/>
<line x1="371.10" y1="202.32" x2="372.90" y2="202.32" stroke="#333" stroke-width="0.65"/>
<line x1="371.10" y1="200.30" x2="372.90" y2="200.30" stroke="#333" stroke-width="0.65"/>
<line x1="371.10" y1="198.28" x2="372.90" y2="198.28" stroke="#333" stroke-width="0.65"/>
<line x1="371.10" y1="196.26" x2="372.90" y2="196.26" stroke="#333" stroke-width="0.65"/>
<line x1="371.10" y1="194.24" x2="372.90" y2="194.24" stroke="#333" stroke-width="0.65"/>
<line x1="371.10" y1="192.22" x2="372.90" y2="192.22" stroke="#333" stroke-width="0.65"/>
<line x1="371.10" y1="190.20" x2="372.90" y2="190.20" stroke="#333" stroke-width="0.65"/>
<line x1="371.10" y1="188.18" x2="372.90" y2="188.18" stroke="#333" stroke-width="0.65"/>
<line x1="371.10" y1="186.16" x2="372.90" y2="186.16" stroke="#333" stroke-width="0.65"/>
<line x1="371.10" y1="184.14" x2="372.90" y2="184.14" stroke="#333" stroke-width="0.65"/>
<line x1="371.10" y1="182.12" x2="372.90" y2="182.12" stroke="#333" stroke-width="0.65"/>
<line x1="371.10" y1="180.10" x2="372.90" y2="180.10" stroke="#333" stroke-width="0.65"/>
<line x1="371.10" y1="178.08" x2="372.90" y2="178.08" stroke="#333" stroke-width="0.65"/>
<line x1="371.10" y1="176.06" x2="372.90" y2="176.06" stroke="#333" stroke-width="0.65"/>
<line x1="371.10" y1="174.04" x2="372.90" y2="174.04" stroke="#333" stroke-width="0.65"/>
<line x1="371.10" y1="172.02" x2="372.90" y2="172.02" stroke="#333" stroke-width="0.65"/>
<line x1="371.10" y1="170.00" x2="372.90" y2="170.00" stroke="#333" stroke-width="0.65"/>
<line x1="371.10" y1="167.98" x2="372.90" y2="167.98" stroke="#333" stroke-width="0.65"/>
<line x1="371.10" y1="165.96" x2="372.90" y2="165.96" stroke="#333" stroke-width="0.65"/>
<line x1="371.10" y1="163.94" x2="372.90" y2="163.94" stroke="#333" stroke-width="0.65"/>
<line x1="371.10" y1="161.92" x2="372.90" y2="161.92" stroke="#333" stroke-width="0.65"/>
<line x1="371.10" y1="159.90" x2="372.90" y2="159.90" stroke="#333" stroke-width="0.65"/>
<line x1="371.10" y1="157.88" x2="372.90" y2="157.88" stroke="#333" stroke-width="0.65"/>
<line x1="371.10" y1="155.86" x2="372.90" y2="155.86" stroke="#333" stroke-width="0.65"/>
<line x1="369.70" y1="162.00" x2="372.90" y2="162.00" stroke="#151515" stroke-width="1"/>
<text x="367.30" y="164.27" font-size="6.3" text-anchor="end" fill="#1a1a1a" textLength="9.90" lengthAdjust="spacingAndGlyphs">100</text>
<line x1="369.70" y1="191.25" x2="372.90" y2="191.25" stroke="#151515" stroke-width="1"/>
<text x="367.30" y="193.52" font-size="6.3" text-anchor="end" fill="#1a1a1a" textLength="6.60" lengthAdjust="spacingAndGlyphs">50</text>
<line x1="369.70" y1="220.50" x2="372.90" y2="220.50" stroke="#151515" stroke-width="1"/>
<text x="367.30" y="222.77" font-size="6.3" text-anchor="end" fill="#1a1a1a" textLength="3.30" lengthAdjust="spacingAndGlyphs">0</text>
<line x1="372.90" y1="220.50" x2="472.00" y2="220.50" stroke="#151515" stroke-width="1.3"/>
<line x1="372.90" y1="220.50" x2="372.90" y2="223.10" stroke="#151515" stroke-width="1"/>
<text x="372.90" y="233.67" font-size="6.3" text-anchor="middle" fill="#1a1a1a" textLength="3.30" lengthAdjust="spacingAndGlyphs">0</text>
<line x1="396.95" y1="220.50" x2="396.95" y2="223.10" stroke="#151515" stroke-width="1"/>
<text x="396.95" y="233.67" font-size="6.3" text-anchor="middle" fill="#1a1a1a" textLength="10.00" lengthAdjust="spacingAndGlyphs">500</text>
<line x1="421.00" y1="220.50" x2="421.00" y2="223.10" stroke="#151515" stroke-width="1"/>
<text x="421.00" y="233.67" font-size="6.3" text-anchor="middle" fill="#1a1a1a" textLength="15.50" lengthAdjust="spacingAndGlyphs">1,000</text>
<line x1="445.05" y1="220.50" x2="445.05" y2="223.10" stroke="#151515" stroke-width="1"/>
<text x="445.05" y="233.67" font-size="6.3" text-anchor="middle" fill="#1a1a1a" textLength="15.50" lengthAdjust="spacingAndGlyphs">1,500</text>
<line x1="469.10" y1="220.50" x2="469.10" y2="223.10" stroke="#151515" stroke-width="1"/>
<text x="469.10" y="233.67" font-size="6.3" text-anchor="middle" fill="#1a1a1a" textLength="15.50" lengthAdjust="spacingAndGlyphs">2,000</text>
<text x="0" y="3.17" font-size="8.8" text-anchor="middle" fill="#1a1a1a" textLength="11.30" lengthAdjust="spacingAndGlyphs" transform="translate(347.80 187.60) rotate(-90)">PFS</text>
<text x="422.50" y="156.17" font-size="8.8" text-anchor="middle" fill="#1a1a1a" textLength="10.40" lengthAdjust="spacingAndGlyphs" stroke="#1a1a1a" stroke-width="0.05">Cfz</text>
<text x="393.70" y="163.87" font-size="6.3" text-anchor="start" fill="#1a1a1a" textLength="57.30" lengthAdjust="spacingAndGlyphs">Logrank p= 4.4e-08</text>
<line x1="437.10" y1="171.50" x2="444.90" y2="171.50" stroke="#A80A2E" stroke-width="0.9"/>
<circle cx="441.00" cy="171.50" r="1.6" fill="#A80A2E"/>
<text x="448.40" y="173.73" font-size="6.2" fill="#A80A2E" textLength="8.40" lengthAdjust="spacingAndGlyphs">MIF</text>
<text x="457.30" y="170.76" font-size="4.34" fill="#A80A2E">high</text>
<line x1="437.10" y1="180.70" x2="444.90" y2="180.70" stroke="#213F7E" stroke-width="0.9"/>
<circle cx="441.00" cy="180.70" r="1.6" fill="#213F7E"/>
<text x="448.40" y="182.93" font-size="6.2" fill="#213F7E" textLength="8.40" lengthAdjust="spacingAndGlyphs">MIF</text>
<text x="457.30" y="179.96" font-size="4.34" fill="#213F7E">low</text>
<polyline points="441.40,205.40 451.00,205.80" fill="none" stroke="#213F7E" stroke-width="0.9"/>
<circle cx="451.00" cy="205.80" r="1.3" fill="#213F7E"/>
<polyline points="372.90,162.00 381.50,163.40 386.70,166.80 393.70,172.00 399.70,176.30 405.80,183.30 407.50,188.50 412.70,192.80 416.10,195.40 421.30,196.20 425.00,198.00 427.60,199.70 431.90,201.40 440.60,201.40 441.40,205.40" fill="none" stroke="#213F7E" stroke-width="1.9" stroke-linejoin="round" stroke-linecap="square"/>
<path d="M371.75 160.56h2.7v2.7h-2.7zM374.27 161.18h2.7v2.7h-2.7zM377.29 161.54h2.7v2.7h-2.7zM379.47 161.74h2.7v2.7h-2.7zM382.09 163.33h2.7v2.7h-2.7zM384.50 164.95h2.7v2.7h-2.7zM386.11 166.08h2.7v2.7h-2.7zM387.74 167.48h2.7v2.7h-2.7zM389.47 168.82h2.7v2.7h-2.7zM392.23 170.24h2.7v2.7h-2.7zM393.73 171.39h2.7v2.7h-2.7zM396.19 173.21h2.7v2.7h-2.7zM398.76 175.45h2.7v2.7h-2.7zM400.59 177.43h2.7v2.7h-2.7zM401.88 179.11h2.7v2.7h-2.7zM403.64 181.06h2.7v2.7h-2.7zM404.85 182.77h2.7v2.7h-2.7zM405.74 185.45h2.7v2.7h-2.7zM406.71 187.54h2.7v2.7h-2.7zM407.91 188.72h2.7v2.7h-2.7zM410.68 190.70h2.7v2.7h-2.7zM412.52 192.22h2.7v2.7h-2.7zM413.84 193.34h2.7v2.7h-2.7zM416.94 194.57h2.7v2.7h-2.7zM419.81 195.03h2.7v2.7h-2.7zM421.81 195.86h2.7v2.7h-2.7zM424.05 197.05h2.7v2.7h-2.7zM426.97 198.78h2.7v2.7h-2.7zM428.76 199.42h2.7v2.7h-2.7zM431.20 200.25h2.7v2.7h-2.7zM432.77 199.91h2.7v2.7h-2.7zM435.06 200.29h2.7v2.7h-2.7zM436.96 200.00h2.7v2.7h-2.7zM438.87 200.10h2.7v2.7h-2.7zM439.51 201.75h2.7v2.7h-2.7z" fill="#213F7E"/>
<polyline points="416.10,211.00 424.80,211.80 430.20,214.40 435.40,217.00 438.00,220.00 443.20,220.50" fill="none" stroke="#A80A2E" stroke-width="0.9"/>
<circle cx="424.80" cy="211.80" r="1.3" fill="#A80A2E"/>
<circle cx="430.20" cy="214.40" r="1.3" fill="#A80A2E"/>
<circle cx="435.40" cy="217.00" r="1.3" fill="#A80A2E"/>
<circle cx="438.00" cy="220.00" r="1.3" fill="#A80A2E"/>
<circle cx="443.20" cy="220.50" r="1.3" fill="#A80A2E"/>
<polyline points="372.90,162.00 378.10,166.00 385.00,171.20 390.20,179.80 395.40,189.30 398.80,191.90 404.00,200.60 409.20,204.00 416.10,211.00" fill="none" stroke="#A80A2E" stroke-width="1.7" stroke-linejoin="round" stroke-linecap="square"/>
<path d="M371.50 160.80h2.4v2.4h-2.4zM373.77 162.30h2.4v2.4h-2.4zM376.25 164.24h2.4v2.4h-2.4zM378.83 166.31h2.4v2.4h-2.4zM380.67 167.44h2.4v2.4h-2.4zM382.06 168.88h2.4v2.4h-2.4zM384.53 171.10h2.4v2.4h-2.4zM385.67 173.62h2.4v2.4h-2.4zM387.54 176.00h2.4v2.4h-2.4zM388.59 177.85h2.4v2.4h-2.4zM389.49 179.49h2.4v2.4h-2.4zM391.02 182.04h2.4v2.4h-2.4zM392.27 184.72h2.4v2.4h-2.4zM393.80 187.04h2.4v2.4h-2.4zM394.91 188.68h2.4v2.4h-2.4zM396.51 189.88h2.4v2.4h-2.4zM398.00 191.49h2.4v2.4h-2.4zM399.39 193.52h2.4v2.4h-2.4zM400.58 195.16h2.4v2.4h-2.4zM401.42 197.18h2.4v2.4h-2.4zM403.70 199.96h2.4v2.4h-2.4zM406.11 201.70h2.4v2.4h-2.4zM408.38 202.91h2.4v2.4h-2.4zM409.66 204.56h2.4v2.4h-2.4zM411.21 205.83h2.4v2.4h-2.4zM412.84 207.42h2.4v2.4h-2.4z" fill="#A80A2E"/>
<text x="418.70" y="189.80" font-size="6.1" text-anchor="middle" fill="#213F7E">184</text>
<text x="416.70" y="204.20" font-size="6.1" text-anchor="middle" fill="#A80A2E">99</text>
<text x="422.50" y="246.04" font-size="9.0" text-anchor="middle" fill="#1a1a1a" textLength="14.20" lengthAdjust="spacingAndGlyphs">Days</text>
<text x="356.40" y="255.84" font-size="5.4" text-anchor="start" fill="#1a1a1a" textLength="26.10" lengthAdjust="spacingAndGlyphs">No. at Risk</text>
<text x="365.30" y="264.02" font-size="5.9" fill="#A80A2E" textLength="7.80" lengthAdjust="spacingAndGlyphs">MIF</text>
<text x="373.60" y="261.19" font-size="4.13" fill="#A80A2E">high</text>
<text x="366.80" y="270.82" font-size="5.9" fill="#213F7E" textLength="7.80" lengthAdjust="spacingAndGlyphs">MIF</text>
<text x="375.10" y="267.99" font-size="4.13" fill="#213F7E">low</text>
<text x="381.90" y="263.92" font-size="5.6" text-anchor="end" fill="#A80A2E">:</text>
<text x="381.90" y="270.72" font-size="5.6" text-anchor="end" fill="#213F7E">:</text>
<text x="396.60" y="263.88" font-size="5.5" text-anchor="middle" fill="#A80A2E" textLength="6.90" lengthAdjust="spacingAndGlyphs">31</text>
<text x="396.60" y="270.68" font-size="5.5" text-anchor="middle" fill="#213F7E" textLength="6.90" lengthAdjust="spacingAndGlyphs">87</text>
<text x="420.80" y="263.88" font-size="5.5" text-anchor="middle" fill="#A80A2E" textLength="3.45" lengthAdjust="spacingAndGlyphs">9</text>
<text x="420.80" y="270.68" font-size="5.5" text-anchor="middle" fill="#213F7E" textLength="6.90" lengthAdjust="spacingAndGlyphs">36</text>
<text x="444.70" y="263.88" font-size="5.5" text-anchor="middle" fill="#A80A2E" textLength="3.45" lengthAdjust="spacingAndGlyphs">1</text>
<text x="444.70" y="270.68" font-size="5.5" text-anchor="middle" fill="#213F7E" textLength="3.45" lengthAdjust="spacingAndGlyphs">3</text>
<text x="469.20" y="263.88" font-size="5.5" text-anchor="middle" fill="#A80A2E" textLength="3.45" lengthAdjust="spacingAndGlyphs">0</text>
<text x="469.20" y="270.68" font-size="5.5" text-anchor="middle" fill="#213F7E" textLength="3.45" lengthAdjust="spacingAndGlyphs">1</text>
<text x="7.50" y="293.80" font-size="11.4" text-anchor="start" fill="#000" textLength="9.63" lengthAdjust="spacingAndGlyphs" font-weight="bold">K</text>
<line x1="49.00" y1="295.60" x2="49.00" y2="361.80" stroke="#151515" stroke-width="1.3"/>
<line x1="47.20" y1="361.30" x2="49.00" y2="361.30" stroke="#333" stroke-width="0.65"/>
<line x1="47.20" y1="359.28" x2="49.00" y2="359.28" stroke="#333" stroke-width="0.65"/>
<line x1="47.20" y1="357.26" x2="49.00" y2="357.26" stroke="#333" stroke-width="0.65"/>
<line x1="47.20" y1="355.24" x2="49.00" y2="355.24" stroke="#333" stroke-width="0.65"/>
<line x1="47.20" y1="353.22" x2="49.00" y2="353.22" stroke="#333" stroke-width="0.65"/>
<line x1="47.20" y1="351.20" x2="49.00" y2="351.20" stroke="#333" stroke-width="0.65"/>
<line x1="47.20" y1="349.18" x2="49.00" y2="349.18" stroke="#333" stroke-width="0.65"/>
<line x1="47.20" y1="347.16" x2="49.00" y2="347.16" stroke="#333" stroke-width="0.65"/>
<line x1="47.20" y1="345.14" x2="49.00" y2="345.14" stroke="#333" stroke-width="0.65"/>
<line x1="47.20" y1="343.12" x2="49.00" y2="343.12" stroke="#333" stroke-width="0.65"/>
<line x1="47.20" y1="341.10" x2="49.00" y2="341.10" stroke="#333" stroke-width="0.65"/>
<line x1="47.20" y1="339.08" x2="49.00" y2="339.08" stroke="#333" stroke-width="0.65"/>
<line x1="47.20" y1="337.06" x2="49.00" y2="337.06" stroke="#333" stroke-width="0.65"/>
<line x1="47.20" y1="335.04" x2="49.00" y2="335.04" stroke="#333" stroke-width="0.65"/>
<line x1="47.20" y1="333.02" x2="49.00" y2="333.02" stroke="#333" stroke-width="0.65"/>
<line x1="47.20" y1="331.00" x2="49.00" y2="331.00" stroke="#333" stroke-width="0.65"/>
<line x1="47.20" y1="328.98" x2="49.00" y2="328.98" stroke="#333" stroke-width="0.65"/>
<line x1="47.20" y1="326.96" x2="49.00" y2="326.96" stroke="#333" stroke-width="0.65"/>
<line x1="47.20" y1="324.94" x2="49.00" y2="324.94" stroke="#333" stroke-width="0.65"/>
<line x1="47.20" y1="322.92" x2="49.00" y2="322.92" stroke="#333" stroke-width="0.65"/>
<line x1="47.20" y1="320.90" x2="49.00" y2="320.90" stroke="#333" stroke-width="0.65"/>
<line x1="47.20" y1="318.88" x2="49.00" y2="318.88" stroke="#333" stroke-width="0.65"/>
<line x1="47.20" y1="316.86" x2="49.00" y2="316.86" stroke="#333" stroke-width="0.65"/>
<line x1="47.20" y1="314.84" x2="49.00" y2="314.84" stroke="#333" stroke-width="0.65"/>
<line x1="47.20" y1="312.82" x2="49.00" y2="312.82" stroke="#333" stroke-width="0.65"/>
<line x1="47.20" y1="310.80" x2="49.00" y2="310.80" stroke="#333" stroke-width="0.65"/>
<line x1="47.20" y1="308.78" x2="49.00" y2="308.78" stroke="#333" stroke-width="0.65"/>
<line x1="47.20" y1="306.76" x2="49.00" y2="306.76" stroke="#333" stroke-width="0.65"/>
<line x1="47.20" y1="304.74" x2="49.00" y2="304.74" stroke="#333" stroke-width="0.65"/>
<line x1="47.20" y1="302.72" x2="49.00" y2="302.72" stroke="#333" stroke-width="0.65"/>
<line x1="47.20" y1="300.70" x2="49.00" y2="300.70" stroke="#333" stroke-width="0.65"/>
<line x1="47.20" y1="298.68" x2="49.00" y2="298.68" stroke="#333" stroke-width="0.65"/>
<line x1="47.20" y1="296.66" x2="49.00" y2="296.66" stroke="#333" stroke-width="0.65"/>
<line x1="45.80" y1="303.40" x2="49.00" y2="303.40" stroke="#151515" stroke-width="1"/>
<text x="43.40" y="305.67" font-size="6.3" text-anchor="end" fill="#1a1a1a" textLength="9.90" lengthAdjust="spacingAndGlyphs">100</text>
<line x1="45.80" y1="332.35" x2="49.00" y2="332.35" stroke="#151515" stroke-width="1"/>
<text x="43.40" y="334.62" font-size="6.3" text-anchor="end" fill="#1a1a1a" textLength="6.60" lengthAdjust="spacingAndGlyphs">50</text>
<line x1="45.80" y1="361.30" x2="49.00" y2="361.30" stroke="#151515" stroke-width="1"/>
<text x="43.40" y="363.57" font-size="6.3" text-anchor="end" fill="#1a1a1a" textLength="3.30" lengthAdjust="spacingAndGlyphs">0</text>
<line x1="49.00" y1="361.30" x2="148.70" y2="361.30" stroke="#151515" stroke-width="1.3"/>
<line x1="49.00" y1="361.30" x2="49.00" y2="363.90" stroke="#151515" stroke-width="1"/>
<text x="49.00" y="373.57" font-size="6.3" text-anchor="middle" fill="#1a1a1a" textLength="3.30" lengthAdjust="spacingAndGlyphs">0</text>
<line x1="68.32" y1="361.30" x2="68.32" y2="363.90" stroke="#151515" stroke-width="1"/>
<text x="68.32" y="373.57" font-size="6.3" text-anchor="middle" fill="#1a1a1a" textLength="10.00" lengthAdjust="spacingAndGlyphs">500</text>
<line x1="87.64" y1="361.30" x2="87.64" y2="363.90" stroke="#151515" stroke-width="1"/>
<text x="87.64" y="373.57" font-size="6.3" text-anchor="middle" fill="#1a1a1a" textLength="15.50" lengthAdjust="spacingAndGlyphs">1,000</text>
<line x1="106.96" y1="361.30" x2="106.96" y2="363.90" stroke="#151515" stroke-width="1"/>
<text x="106.96" y="373.57" font-size="6.3" text-anchor="middle" fill="#1a1a1a" textLength="15.50" lengthAdjust="spacingAndGlyphs">1,500</text>
<line x1="126.28" y1="361.30" x2="126.28" y2="363.90" stroke="#151515" stroke-width="1"/>
<text x="126.28" y="373.57" font-size="6.3" text-anchor="middle" fill="#1a1a1a" textLength="15.50" lengthAdjust="spacingAndGlyphs">2,000</text>
<line x1="145.60" y1="361.30" x2="145.60" y2="363.90" stroke="#151515" stroke-width="1"/>
<text x="145.60" y="373.57" font-size="6.3" text-anchor="middle" fill="#1a1a1a" textLength="15.50" lengthAdjust="spacingAndGlyphs">2,500</text>
<text x="0" y="3.17" font-size="8.8" text-anchor="middle" fill="#1a1a1a" textLength="46.00" lengthAdjust="spacingAndGlyphs" transform="translate(24.20 328.00) rotate(-90)">Overall survival</text>
<text x="99.20" y="296.97" font-size="8.8" text-anchor="middle" fill="#1a1a1a" textLength="10.40" lengthAdjust="spacingAndGlyphs" stroke="#1a1a1a" stroke-width="0.05">Cfz</text>
<text x="78.70" y="305.67" font-size="6.3" text-anchor="start" fill="#1a1a1a" textLength="57.30" lengthAdjust="spacingAndGlyphs">Logrank p= 2.4e-06</text>
<line x1="51.90" y1="343.20" x2="60.60" y2="343.20" stroke="#A80A2E" stroke-width="0.9"/>
<circle cx="56.25" cy="343.20" r="1.6" fill="#A80A2E"/>
<text x="64.00" y="345.43" font-size="6.2" fill="#A80A2E" textLength="8.40" lengthAdjust="spacingAndGlyphs">MIF</text>
<text x="72.90" y="342.46" font-size="4.34" fill="#A80A2E">high</text>
<line x1="51.90" y1="352.30" x2="60.60" y2="352.30" stroke="#213F7E" stroke-width="0.9"/>
<circle cx="56.25" cy="352.30" r="1.6" fill="#213F7E"/>
<text x="64.00" y="354.53" font-size="6.2" fill="#213F7E" textLength="8.40" lengthAdjust="spacingAndGlyphs">MIF</text>
<text x="72.90" y="351.56" font-size="4.34" fill="#213F7E">low</text>
<polyline points="119.60,319.50 131.70,319.80" fill="none" stroke="#213F7E" stroke-width="0.9"/>
<circle cx="131.70" cy="319.80" r="1.3" fill="#213F7E"/>
<polyline points="49.00,303.40 57.10,303.40 58.00,304.20 69.20,306.00 74.40,307.70 81.30,311.20 85.00,313.70 88.50,315.50 93.70,316.30 101.40,316.70 104.90,319.00 119.60,319.50" fill="none" stroke="#213F7E" stroke-width="1.9" stroke-linejoin="round" stroke-linecap="square"/>
<path d="M47.66 302.19h2.7v2.7h-2.7zM49.54 301.84h2.7v2.7h-2.7zM52.40 301.97h2.7v2.7h-2.7zM55.07 302.16h2.7v2.7h-2.7zM57.86 303.21h2.7v2.7h-2.7zM59.91 303.29h2.7v2.7h-2.7zM62.53 303.58h2.7v2.7h-2.7zM65.75 304.04h2.7v2.7h-2.7zM68.17 304.86h2.7v2.7h-2.7zM70.43 305.36h2.7v2.7h-2.7zM72.41 306.02h2.7v2.7h-2.7zM74.33 306.95h2.7v2.7h-2.7zM76.51 307.96h2.7v2.7h-2.7zM79.22 309.30h2.7v2.7h-2.7zM80.98 310.45h2.7v2.7h-2.7zM83.06 312.31h2.7v2.7h-2.7zM84.84 313.16h2.7v2.7h-2.7zM87.62 314.06h2.7v2.7h-2.7zM90.25 314.90h2.7v2.7h-2.7zM93.05 315.18h2.7v2.7h-2.7zM96.74 315.13h2.7v2.7h-2.7zM99.89 315.35h2.7v2.7h-2.7zM101.91 316.60h2.7v2.7h-2.7zM103.79 317.43h2.7v2.7h-2.7zM105.76 317.73h2.7v2.7h-2.7zM108.19 317.91h2.7v2.7h-2.7zM110.86 317.70h2.7v2.7h-2.7zM113.40 317.74h2.7v2.7h-2.7zM116.47 317.95h2.7v2.7h-2.7z" fill="#213F7E"/>
<polyline points="113.60,346.60 126.50,347.00" fill="none" stroke="#A80A2E" stroke-width="0.9"/>
<circle cx="126.50" cy="347.00" r="1.3" fill="#A80A2E"/>
<polyline points="49.00,303.90 57.10,306.00 60.60,309.40 62.30,312.90 66.60,314.60 69.20,318.00 74.40,322.40 79.60,324.10 83.10,327.60 85.00,328.50 87.60,331.00 92.80,334.50 102.30,335.40 107.50,336.80 110.10,339.70 112.70,343.20 113.60,346.60" fill="none" stroke="#A80A2E" stroke-width="1.7" stroke-linejoin="round" stroke-linecap="square"/>
<path d="M47.59 302.59h2.4v2.4h-2.4zM50.50 303.23h2.4v2.4h-2.4zM52.75 303.82h2.4v2.4h-2.4zM55.78 304.65h2.4v2.4h-2.4zM57.89 306.92h2.4v2.4h-2.4zM60.01 309.32h2.4v2.4h-2.4zM60.97 311.69h2.4v2.4h-2.4zM62.88 312.40h2.4v2.4h-2.4zM65.37 313.58h2.4v2.4h-2.4zM67.04 315.72h2.4v2.4h-2.4zM68.71 317.71h2.4v2.4h-2.4zM71.02 319.44h2.4v2.4h-2.4zM72.65 320.55h2.4v2.4h-2.4zM75.30 322.02h2.4v2.4h-2.4zM77.44 322.41h2.4v2.4h-2.4zM80.17 324.28h2.4v2.4h-2.4zM81.53 326.11h2.4v2.4h-2.4zM83.07 327.20h2.4v2.4h-2.4zM85.30 328.69h2.4v2.4h-2.4zM87.14 330.32h2.4v2.4h-2.4zM89.13 331.50h2.4v2.4h-2.4zM90.56 332.26h2.4v2.4h-2.4zM92.31 333.32h2.4v2.4h-2.4zM95.19 333.69h2.4v2.4h-2.4zM97.95 333.97h2.4v2.4h-2.4zM100.85 334.33h2.4v2.4h-2.4zM103.48 335.01h2.4v2.4h-2.4zM105.62 335.39h2.4v2.4h-2.4zM107.28 336.81h2.4v2.4h-2.4zM108.60 338.43h2.4v2.4h-2.4zM110.22 340.30h2.4v2.4h-2.4zM111.63 342.63h2.4v2.4h-2.4zM112.18 344.86h2.4v2.4h-2.4z" fill="#A80A2E"/>
<text x="111.80" y="328.60" font-size="6.1" text-anchor="middle" fill="#213F7E">112</text>
<text x="100.90" y="343.10" font-size="6.1" text-anchor="middle" fill="#A80A2E">60</text>
<text x="98.80" y="387.04" font-size="9.0" text-anchor="middle" fill="#1a1a1a" textLength="14.20" lengthAdjust="spacingAndGlyphs">Days</text>
<text x="32.80" y="396.84" font-size="5.4" text-anchor="start" fill="#1a1a1a" textLength="26.10" lengthAdjust="spacingAndGlyphs">No. at Risk</text>
<text x="42.60" y="405.12" font-size="5.9" fill="#A80A2E" textLength="7.80" lengthAdjust="spacingAndGlyphs">MIF</text>
<text x="50.90" y="402.29" font-size="4.13" fill="#A80A2E">high</text>
<text x="44.10" y="411.72" font-size="5.9" fill="#213F7E" textLength="7.80" lengthAdjust="spacingAndGlyphs">MIF</text>
<text x="52.40" y="408.89" font-size="4.13" fill="#213F7E">low</text>
<text x="59.20" y="405.02" font-size="5.6" text-anchor="end" fill="#A80A2E">:</text>
<text x="59.20" y="411.62" font-size="5.6" text-anchor="end" fill="#213F7E">:</text>
<text x="68.10" y="404.98" font-size="5.5" text-anchor="middle" fill="#A80A2E" textLength="6.90" lengthAdjust="spacingAndGlyphs">46</text>
<text x="68.10" y="411.58" font-size="5.5" text-anchor="middle" fill="#213F7E" textLength="10.35" lengthAdjust="spacingAndGlyphs">108</text>
<text x="89.00" y="404.98" font-size="5.5" text-anchor="middle" fill="#A80A2E" textLength="6.90" lengthAdjust="spacingAndGlyphs">27</text>
<text x="89.00" y="411.58" font-size="5.5" text-anchor="middle" fill="#213F7E" textLength="6.90" lengthAdjust="spacingAndGlyphs">72</text>
<text x="110.20" y="404.98" font-size="5.5" text-anchor="middle" fill="#A80A2E" textLength="6.90" lengthAdjust="spacingAndGlyphs">13</text>
<text x="110.20" y="411.58" font-size="5.5" text-anchor="middle" fill="#213F7E" textLength="6.90" lengthAdjust="spacingAndGlyphs">19</text>
<text x="130.20" y="404.98" font-size="5.5" text-anchor="middle" fill="#A80A2E" textLength="3.45" lengthAdjust="spacingAndGlyphs">2</text>
<text x="130.20" y="411.58" font-size="5.5" text-anchor="middle" fill="#213F7E" textLength="3.45" lengthAdjust="spacingAndGlyphs">2</text>
<text x="171.40" y="293.80" font-size="11.4" text-anchor="start" fill="#000" textLength="8.15" lengthAdjust="spacingAndGlyphs" font-weight="bold">L</text>
<line x1="211.00" y1="295.00" x2="211.00" y2="361.80" stroke="#151515" stroke-width="1.3"/>
<line x1="209.20" y1="361.30" x2="211.00" y2="361.30" stroke="#333" stroke-width="0.65"/>
<line x1="209.20" y1="359.28" x2="211.00" y2="359.28" stroke="#333" stroke-width="0.65"/>
<line x1="209.20" y1="357.26" x2="211.00" y2="357.26" stroke="#333" stroke-width="0.65"/>
<line x1="209.20" y1="355.24" x2="211.00" y2="355.24" stroke="#333" stroke-width="0.65"/>
<line x1="209.20" y1="353.22" x2="211.00" y2="353.22" stroke="#333" stroke-width="0.65"/>
<line x1="209.20" y1="351.20" x2="211.00" y2="351.20" stroke="#333" stroke-width="0.65"/>
<line x1="209.20" y1="349.18" x2="211.00" y2="349.18" stroke="#333" stroke-width="0.65"/>
<line x1="209.20" y1="347.16" x2="211.00" y2="347.16" stroke="#333" stroke-width="0.65"/>
<line x1="209.20" y1="345.14" x2="211.00" y2="345.14" stroke="#333" stroke-width="0.65"/>
<line x1="209.20" y1="343.12" x2="211.00" y2="343.12" stroke="#333" stroke-width="0.65"/>
<line x1="209.20" y1="341.10" x2="211.00" y2="341.10" stroke="#333" stroke-width="0.65"/>
<line x1="209.20" y1="339.08" x2="211.00" y2="339.08" stroke="#333" stroke-width="0.65"/>
<line x1="209.20" y1="337.06" x2="211.00" y2="337.06" stroke="#333" stroke-width="0.65"/>
<line x1="209.20" y1="335.04" x2="211.00" y2="335.04" stroke="#333" stroke-width="0.65"/>
<line x1="209.20" y1="333.02" x2="211.00" y2="333.02" stroke="#333" stroke-width="0.65"/>
<line x1="209.20" y1="331.00" x2="211.00" y2="331.00" stroke="#333" stroke-width="0.65"/>
<line x1="209.20" y1="328.98" x2="211.00" y2="328.98" stroke="#333" stroke-width="0.65"/>
<line x1="209.20" y1="326.96" x2="211.00" y2="326.96" stroke="#333" stroke-width="0.65"/>
<line x1="209.20" y1="324.94" x2="211.00" y2="324.94" stroke="#333" stroke-width="0.65"/>
<line x1="209.20" y1="322.92" x2="211.00" y2="322.92" stroke="#333" stroke-width="0.65"/>
<line x1="209.20" y1="320.90" x2="211.00" y2="320.90" stroke="#333" stroke-width="0.65"/>
<line x1="209.20" y1="318.88" x2="211.00" y2="318.88" stroke="#333" stroke-width="0.65"/>
<line x1="209.20" y1="316.86" x2="211.00" y2="316.86" stroke="#333" stroke-width="0.65"/>
<line x1="209.20" y1="314.84" x2="211.00" y2="314.84" stroke="#333" stroke-width="0.65"/>
<line x1="209.20" y1="312.82" x2="211.00" y2="312.82" stroke="#333" stroke-width="0.65"/>
<line x1="209.20" y1="310.80" x2="211.00" y2="310.80" stroke="#333" stroke-width="0.65"/>
<line x1="209.20" y1="308.78" x2="211.00" y2="308.78" stroke="#333" stroke-width="0.65"/>
<line x1="209.20" y1="306.76" x2="211.00" y2="306.76" stroke="#333" stroke-width="0.65"/>
<line x1="209.20" y1="304.74" x2="211.00" y2="304.74" stroke="#333" stroke-width="0.65"/>
<line x1="209.20" y1="302.72" x2="211.00" y2="302.72" stroke="#333" stroke-width="0.65"/>
<line x1="209.20" y1="300.70" x2="211.00" y2="300.70" stroke="#333" stroke-width="0.65"/>
<line x1="209.20" y1="298.68" x2="211.00" y2="298.68" stroke="#333" stroke-width="0.65"/>
<line x1="209.20" y1="296.66" x2="211.00" y2="296.66" stroke="#333" stroke-width="0.65"/>
<line x1="207.80" y1="302.80" x2="211.00" y2="302.80" stroke="#151515" stroke-width="1"/>
<text x="205.40" y="305.07" font-size="6.3" text-anchor="end" fill="#1a1a1a" textLength="9.90" lengthAdjust="spacingAndGlyphs">100</text>
<line x1="207.80" y1="332.05" x2="211.00" y2="332.05" stroke="#151515" stroke-width="1"/>
<text x="205.40" y="334.32" font-size="6.3" text-anchor="end" fill="#1a1a1a" textLength="6.60" lengthAdjust="spacingAndGlyphs">50</text>
<line x1="207.80" y1="361.30" x2="211.00" y2="361.30" stroke="#151515" stroke-width="1"/>
<text x="205.40" y="363.57" font-size="6.3" text-anchor="end" fill="#1a1a1a" textLength="3.30" lengthAdjust="spacingAndGlyphs">0</text>
<line x1="211.00" y1="361.30" x2="310.40" y2="361.30" stroke="#151515" stroke-width="1.3"/>
<line x1="211.00" y1="361.30" x2="211.00" y2="363.90" stroke="#151515" stroke-width="1"/>
<text x="211.00" y="373.57" font-size="6.3" text-anchor="middle" fill="#1a1a1a" textLength="3.30" lengthAdjust="spacingAndGlyphs">0</text>
<line x1="235.20" y1="361.30" x2="235.20" y2="363.90" stroke="#151515" stroke-width="1"/>
<text x="235.20" y="373.57" font-size="6.3" text-anchor="middle" fill="#1a1a1a" textLength="10.00" lengthAdjust="spacingAndGlyphs">500</text>
<line x1="259.40" y1="361.30" x2="259.40" y2="363.90" stroke="#151515" stroke-width="1"/>
<text x="259.40" y="373.57" font-size="6.3" text-anchor="middle" fill="#1a1a1a" textLength="15.50" lengthAdjust="spacingAndGlyphs">1,000</text>
<line x1="283.60" y1="361.30" x2="283.60" y2="363.90" stroke="#151515" stroke-width="1"/>
<text x="283.60" y="373.57" font-size="6.3" text-anchor="middle" fill="#1a1a1a" textLength="15.50" lengthAdjust="spacingAndGlyphs">1,500</text>
<line x1="307.80" y1="361.30" x2="307.80" y2="363.90" stroke="#151515" stroke-width="1"/>
<text x="307.80" y="373.57" font-size="6.3" text-anchor="middle" fill="#1a1a1a" textLength="15.50" lengthAdjust="spacingAndGlyphs">2,000</text>
<text x="0" y="3.17" font-size="8.8" text-anchor="middle" fill="#1a1a1a" textLength="11.30" lengthAdjust="spacingAndGlyphs" transform="translate(186.40 328.00) rotate(-90)">PFS</text>
<text x="261.00" y="297.17" font-size="8.8" text-anchor="middle" fill="#1a1a1a" textLength="10.40" lengthAdjust="spacingAndGlyphs" stroke="#1a1a1a" stroke-width="0.05">Btz</text>
<text x="229.70" y="303.77" font-size="6.3" text-anchor="start" fill="#1a1a1a" textLength="58.20" lengthAdjust="spacingAndGlyphs">Logrank p= 6.7e-09</text>
<line x1="272.30" y1="311.70" x2="280.10" y2="311.70" stroke="#A80A2E" stroke-width="0.9"/>
<circle cx="276.20" cy="311.70" r="1.6" fill="#A80A2E"/>
<text x="282.70" y="313.93" font-size="6.2" fill="#A80A2E" textLength="13.80" lengthAdjust="spacingAndGlyphs">SOD1</text>
<text x="297.00" y="310.96" font-size="4.34" fill="#A80A2E">high</text>
<line x1="272.30" y1="320.70" x2="280.10" y2="320.70" stroke="#213F7E" stroke-width="0.9"/>
<circle cx="276.20" cy="320.70" r="1.6" fill="#213F7E"/>
<text x="282.70" y="322.93" font-size="6.2" fill="#213F7E" textLength="13.80" lengthAdjust="spacingAndGlyphs">SOD1</text>
<text x="297.00" y="319.96" font-size="4.34" fill="#213F7E">low</text>
<polyline points="211.00,302.80 215.00,303.40 220.20,306.80 227.10,309.40 234.00,313.70 241.00,318.90 246.20,321.50 253.10,326.70 256.50,330.20 260.20,331.00 268.00,331.60 269.70,334.50 274.90,337.10 279.20,339.70 283.60,341.40 286.20,344.90 300.90,345.20" fill="none" stroke="#213F7E" stroke-width="1.9" stroke-linejoin="round" stroke-linecap="square"/>
<path d="M209.74 301.29h2.7v2.7h-2.7zM212.46 301.84h2.7v2.7h-2.7zM214.84 302.53h2.7v2.7h-2.7zM217.44 304.62h2.7v2.7h-2.7zM219.56 305.87h2.7v2.7h-2.7zM221.29 306.61h2.7v2.7h-2.7zM224.07 307.30h2.7v2.7h-2.7zM226.22 308.05h2.7v2.7h-2.7zM228.33 309.81h2.7v2.7h-2.7zM231.18 311.42h2.7v2.7h-2.7zM232.72 312.33h2.7v2.7h-2.7zM234.56 313.90h2.7v2.7h-2.7zM236.77 315.73h2.7v2.7h-2.7zM238.60 316.62h2.7v2.7h-2.7zM241.14 318.59h2.7v2.7h-2.7zM243.45 319.60h2.7v2.7h-2.7zM245.18 320.31h2.7v2.7h-2.7zM246.83 321.58h2.7v2.7h-2.7zM248.73 323.07h2.7v2.7h-2.7zM250.66 324.64h2.7v2.7h-2.7zM252.72 325.99h2.7v2.7h-2.7zM254.25 327.84h2.7v2.7h-2.7zM256.17 328.92h2.7v2.7h-2.7zM258.68 329.62h2.7v2.7h-2.7zM260.80 329.86h2.7v2.7h-2.7zM263.23 329.88h2.7v2.7h-2.7zM266.56 330.32h2.7v2.7h-2.7zM267.43 331.85h2.7v2.7h-2.7zM268.96 333.53h2.7v2.7h-2.7zM270.87 334.35h2.7v2.7h-2.7zM272.67 335.35h2.7v2.7h-2.7zM274.87 336.66h2.7v2.7h-2.7zM276.97 337.77h2.7v2.7h-2.7zM279.42 338.76h2.7v2.7h-2.7zM282.08 339.76h2.7v2.7h-2.7zM283.96 342.16h2.7v2.7h-2.7zM285.18 343.31h2.7v2.7h-2.7zM287.37 343.58h2.7v2.7h-2.7zM290.09 343.84h2.7v2.7h-2.7zM293.29 343.86h2.7v2.7h-2.7zM295.55 343.98h2.7v2.7h-2.7zM298.34 343.81h2.7v2.7h-2.7z" fill="#213F7E"/>
<polyline points="281.80,354.00 294.80,354.40" fill="none" stroke="#A80A2E" stroke-width="0.9"/>
<circle cx="294.80" cy="354.40" r="1.3" fill="#A80A2E"/>
<polyline points="211.00,302.80 215.00,306.00 220.20,314.60 225.40,321.50 230.60,326.70 235.80,331.90 241.00,340.60 246.20,342.30 253.10,344.00 257.60,346.60 261.90,349.60 267.10,350.10 274.00,350.60 281.00,351.30 281.80,354.00" fill="none" stroke="#A80A2E" stroke-width="1.7" stroke-linejoin="round" stroke-linecap="square"/>
<path d="M209.81 301.37h2.4v2.4h-2.4zM212.50 303.45h2.4v2.4h-2.4zM213.53 304.56h2.4v2.4h-2.4zM215.25 307.20h2.4v2.4h-2.4zM216.54 309.35h2.4v2.4h-2.4zM217.71 310.90h2.4v2.4h-2.4zM218.65 313.29h2.4v2.4h-2.4zM220.51 315.19h2.4v2.4h-2.4zM222.09 317.42h2.4v2.4h-2.4zM224.00 319.97h2.4v2.4h-2.4zM225.91 321.65h2.4v2.4h-2.4zM228.10 324.02h2.4v2.4h-2.4zM229.78 326.07h2.4v2.4h-2.4zM231.92 328.02h2.4v2.4h-2.4zM233.49 329.43h2.4v2.4h-2.4zM235.48 332.17h2.4v2.4h-2.4zM236.47 334.00h2.4v2.4h-2.4zM238.01 336.77h2.4v2.4h-2.4zM239.86 339.17h2.4v2.4h-2.4zM242.49 340.18h2.4v2.4h-2.4zM244.91 341.03h2.4v2.4h-2.4zM246.98 341.80h2.4v2.4h-2.4zM249.84 342.51h2.4v2.4h-2.4zM253.03 343.59h2.4v2.4h-2.4zM254.67 344.53h2.4v2.4h-2.4zM257.27 345.66h2.4v2.4h-2.4zM258.51 346.79h2.4v2.4h-2.4zM261.45 348.38h2.4v2.4h-2.4zM264.23 348.76h2.4v2.4h-2.4zM266.33 349.07h2.4v2.4h-2.4zM269.55 348.91h2.4v2.4h-2.4zM272.88 349.29h2.4v2.4h-2.4zM275.27 349.64h2.4v2.4h-2.4zM277.68 350.09h2.4v2.4h-2.4zM280.27 350.90h2.4v2.4h-2.4z" fill="#A80A2E"/>
<text x="261.90" y="327.20" font-size="6.1" text-anchor="middle" fill="#213F7E">248</text>
<text x="259.30" y="341.90" font-size="6.1" text-anchor="middle" fill="#A80A2E">111</text>
<text x="260.60" y="387.04" font-size="9.0" text-anchor="middle" fill="#1a1a1a" textLength="14.20" lengthAdjust="spacingAndGlyphs">Days</text>
<text x="194.60" y="396.84" font-size="5.4" text-anchor="start" fill="#1a1a1a" textLength="26.10" lengthAdjust="spacingAndGlyphs">No. at Risk</text>
<text x="198.50" y="405.12" font-size="5.9" fill="#A80A2E" textLength="13.80" lengthAdjust="spacingAndGlyphs">SOD1</text>
<text x="212.80" y="402.29" font-size="4.13" fill="#A80A2E">high</text>
<text x="200.00" y="411.72" font-size="5.9" fill="#213F7E" textLength="13.80" lengthAdjust="spacingAndGlyphs">SOD1</text>
<text x="214.30" y="408.89" font-size="4.13" fill="#213F7E">low</text>
<text x="221.30" y="405.02" font-size="5.6" text-anchor="end" fill="#A80A2E">:</text>
<text x="221.30" y="411.62" font-size="5.6" text-anchor="end" fill="#213F7E">:</text>
<text x="234.80" y="404.98" font-size="5.5" text-anchor="middle" fill="#A80A2E" textLength="6.90" lengthAdjust="spacingAndGlyphs">52</text>
<text x="234.80" y="411.58" font-size="5.5" text-anchor="middle" fill="#213F7E" textLength="10.35" lengthAdjust="spacingAndGlyphs">185</text>
<text x="259.30" y="404.98" font-size="5.5" text-anchor="middle" fill="#A80A2E" textLength="6.90" lengthAdjust="spacingAndGlyphs">20</text>
<text x="259.30" y="411.58" font-size="5.5" text-anchor="middle" fill="#213F7E" textLength="6.90" lengthAdjust="spacingAndGlyphs">85</text>
<text x="283.50" y="404.98" font-size="5.5" text-anchor="middle" fill="#A80A2E" textLength="3.45" lengthAdjust="spacingAndGlyphs">5</text>
<text x="283.50" y="411.58" font-size="5.5" text-anchor="middle" fill="#213F7E" textLength="6.90" lengthAdjust="spacingAndGlyphs">18</text>
<text x="307.40" y="404.98" font-size="5.5" text-anchor="middle" fill="#A80A2E" textLength="3.45" lengthAdjust="spacingAndGlyphs">1</text>
<text x="307.40" y="411.58" font-size="5.5" text-anchor="middle" fill="#213F7E" textLength="3.45" lengthAdjust="spacingAndGlyphs">1</text>
<text x="330.80" y="293.80" font-size="11.4" text-anchor="start" fill="#000" textLength="11.11" lengthAdjust="spacingAndGlyphs" font-weight="bold">M</text>
<line x1="372.90" y1="295.20" x2="372.90" y2="361.80" stroke="#151515" stroke-width="1.3"/>
<line x1="371.10" y1="361.30" x2="372.90" y2="361.30" stroke="#333" stroke-width="0.65"/>
<line x1="371.10" y1="359.28" x2="372.90" y2="359.28" stroke="#333" stroke-width="0.65"/>
<line x1="371.10" y1="357.26" x2="372.90" y2="357.26" stroke="#333" stroke-width="0.65"/>
<line x1="371.10" y1="355.24" x2="372.90" y2="355.24" stroke="#333" stroke-width="0.65"/>
<line x1="371.10" y1="353.22" x2="372.90" y2="353.22" stroke="#333" stroke-width="0.65"/>
<line x1="371.10" y1="351.20" x2="372.90" y2="351.20" stroke="#333" stroke-width="0.65"/>
<line x1="371.10" y1="349.18" x2="372.90" y2="349.18" stroke="#333" stroke-width="0.65"/>
<line x1="371.10" y1="347.16" x2="372.90" y2="347.16" stroke="#333" stroke-width="0.65"/>
<line x1="371.10" y1="345.14" x2="372.90" y2="345.14" stroke="#333" stroke-width="0.65"/>
<line x1="371.10" y1="343.12" x2="372.90" y2="343.12" stroke="#333" stroke-width="0.65"/>
<line x1="371.10" y1="341.10" x2="372.90" y2="341.10" stroke="#333" stroke-width="0.65"/>
<line x1="371.10" y1="339.08" x2="372.90" y2="339.08" stroke="#333" stroke-width="0.65"/>
<line x1="371.10" y1="337.06" x2="372.90" y2="337.06" stroke="#333" stroke-width="0.65"/>
<line x1="371.10" y1="335.04" x2="372.90" y2="335.04" stroke="#333" stroke-width="0.65"/>
<line x1="371.10" y1="333.02" x2="372.90" y2="333.02" stroke="#333" stroke-width="0.65"/>
<line x1="371.10" y1="331.00" x2="372.90" y2="331.00" stroke="#333" stroke-width="0.65"/>
<line x1="371.10" y1="328.98" x2="372.90" y2="328.98" stroke="#333" stroke-width="0.65"/>
<line x1="371.10" y1="326.96" x2="372.90" y2="326.96" stroke="#333" stroke-width="0.65"/>
<line x1="371.10" y1="324.94" x2="372.90" y2="324.94" stroke="#333" stroke-width="0.65"/>
<line x1="371.10" y1="322.92" x2="372.90" y2="322.92" stroke="#333" stroke-width="0.65"/>
<line x1="371.10" y1="320.90" x2="372.90" y2="320.90" stroke="#333" stroke-width="0.65"/>
<line x1="371.10" y1="318.88" x2="372.90" y2="318.88" stroke="#333" stroke-width="0.65"/>
<line x1="371.10" y1="316.86" x2="372.90" y2="316.86" stroke="#333" stroke-width="0.65"/>
<line x1="371.10" y1="314.84" x2="372.90" y2="314.84" stroke="#333" stroke-width="0.65"/>
<line x1="371.10" y1="312.82" x2="372.90" y2="312.82" stroke="#333" stroke-width="0.65"/>
<line x1="371.10" y1="310.80" x2="372.90" y2="310.80" stroke="#333" stroke-width="0.65"/>
<line x1="371.10" y1="308.78" x2="372.90" y2="308.78" stroke="#333" stroke-width="0.65"/>
<line x1="371.10" y1="306.76" x2="372.90" y2="306.76" stroke="#333" stroke-width="0.65"/>
<line x1="371.10" y1="304.74" x2="372.90" y2="304.74" stroke="#333" stroke-width="0.65"/>
<line x1="371.10" y1="302.72" x2="372.90" y2="302.72" stroke="#333" stroke-width="0.65"/>
<line x1="371.10" y1="300.70" x2="372.90" y2="300.70" stroke="#333" stroke-width="0.65"/>
<line x1="371.10" y1="298.68" x2="372.90" y2="298.68" stroke="#333" stroke-width="0.65"/>
<line x1="371.10" y1="296.66" x2="372.90" y2="296.66" stroke="#333" stroke-width="0.65"/>
<line x1="369.70" y1="303.00" x2="372.90" y2="303.00" stroke="#151515" stroke-width="1"/>
<text x="367.30" y="305.27" font-size="6.3" text-anchor="end" fill="#1a1a1a" textLength="9.90" lengthAdjust="spacingAndGlyphs">100</text>
<line x1="369.70" y1="332.15" x2="372.90" y2="332.15" stroke="#151515" stroke-width="1"/>
<text x="367.30" y="334.42" font-size="6.3" text-anchor="end" fill="#1a1a1a" textLength="6.60" lengthAdjust="spacingAndGlyphs">50</text>
<line x1="369.70" y1="361.30" x2="372.90" y2="361.30" stroke="#151515" stroke-width="1"/>
<text x="367.30" y="363.57" font-size="6.3" text-anchor="end" fill="#1a1a1a" textLength="3.30" lengthAdjust="spacingAndGlyphs">0</text>
<line x1="372.90" y1="361.30" x2="472.60" y2="361.30" stroke="#151515" stroke-width="1.3"/>
<line x1="372.90" y1="361.30" x2="372.90" y2="363.90" stroke="#151515" stroke-width="1"/>
<text x="372.90" y="373.57" font-size="6.3" text-anchor="middle" fill="#1a1a1a" textLength="3.30" lengthAdjust="spacingAndGlyphs">0</text>
<line x1="392.37" y1="361.30" x2="392.37" y2="363.90" stroke="#151515" stroke-width="1"/>
<text x="392.37" y="373.57" font-size="6.3" text-anchor="middle" fill="#1a1a1a" textLength="10.00" lengthAdjust="spacingAndGlyphs">500</text>
<line x1="411.84" y1="361.30" x2="411.84" y2="363.90" stroke="#151515" stroke-width="1"/>
<text x="411.84" y="373.57" font-size="6.3" text-anchor="middle" fill="#1a1a1a" textLength="15.50" lengthAdjust="spacingAndGlyphs">1,000</text>
<line x1="431.31" y1="361.30" x2="431.31" y2="363.90" stroke="#151515" stroke-width="1"/>
<text x="431.31" y="373.57" font-size="6.3" text-anchor="middle" fill="#1a1a1a" textLength="15.50" lengthAdjust="spacingAndGlyphs">1,500</text>
<line x1="450.78" y1="361.30" x2="450.78" y2="363.90" stroke="#151515" stroke-width="1"/>
<text x="450.78" y="373.57" font-size="6.3" text-anchor="middle" fill="#1a1a1a" textLength="15.50" lengthAdjust="spacingAndGlyphs">2,000</text>
<line x1="470.25" y1="361.30" x2="470.25" y2="363.90" stroke="#151515" stroke-width="1"/>
<text x="470.25" y="373.57" font-size="6.3" text-anchor="middle" fill="#1a1a1a" textLength="15.50" lengthAdjust="spacingAndGlyphs">2,500</text>
<text x="0" y="3.17" font-size="8.8" text-anchor="middle" fill="#1a1a1a" textLength="46.00" lengthAdjust="spacingAndGlyphs" transform="translate(348.30 328.00) rotate(-90)">Overall survival</text>
<text x="423.40" y="297.17" font-size="8.8" text-anchor="middle" fill="#1a1a1a" textLength="10.40" lengthAdjust="spacingAndGlyphs" stroke="#1a1a1a" stroke-width="0.05">Btz</text>
<text x="407.30" y="304.77" font-size="6.3" text-anchor="start" fill="#1a1a1a" textLength="57.50" lengthAdjust="spacingAndGlyphs">Logrank p= 3.3e-12</text>
<line x1="378.10" y1="343.70" x2="385.90" y2="343.70" stroke="#A80A2E" stroke-width="0.9"/>
<circle cx="382.00" cy="343.70" r="1.6" fill="#A80A2E"/>
<text x="389.30" y="345.93" font-size="6.2" fill="#A80A2E" textLength="13.80" lengthAdjust="spacingAndGlyphs">SOD1</text>
<text x="403.60" y="342.96" font-size="4.34" fill="#A80A2E">high</text>
<line x1="378.10" y1="352.70" x2="385.90" y2="352.70" stroke="#213F7E" stroke-width="0.9"/>
<circle cx="382.00" cy="352.70" r="1.6" fill="#213F7E"/>
<text x="389.30" y="354.93" font-size="6.2" fill="#213F7E" textLength="13.80" lengthAdjust="spacingAndGlyphs">SOD1</text>
<text x="403.60" y="351.96" font-size="4.34" fill="#213F7E">low</text>
<polyline points="372.90,302.80 385.40,304.20 398.90,305.90 405.00,307.50 412.30,309.60 419.00,311.00 425.80,312.60 435.90,313.60 438.50,313.90 440.90,315.30 442.30,316.00 442.60,321.10 446.00,322.10 447.70,334.50 451.00,334.50" fill="none" stroke="#213F7E" stroke-width="1.9" stroke-linejoin="round" stroke-linecap="square"/>
<path d="M371.69 301.25h2.7v2.7h-2.7zM373.75 301.47h2.7v2.7h-2.7zM376.36 301.86h2.7v2.7h-2.7zM379.61 302.28h2.7v2.7h-2.7zM382.90 302.56h2.7v2.7h-2.7zM384.94 303.04h2.7v2.7h-2.7zM387.70 303.36h2.7v2.7h-2.7zM390.30 303.74h2.7v2.7h-2.7zM392.89 304.17h2.7v2.7h-2.7zM395.96 304.38h2.7v2.7h-2.7zM398.81 304.97h2.7v2.7h-2.7zM400.87 305.33h2.7v2.7h-2.7zM402.96 305.76h2.7v2.7h-2.7zM405.23 306.82h2.7v2.7h-2.7zM407.85 307.49h2.7v2.7h-2.7zM410.88 308.15h2.7v2.7h-2.7zM413.45 308.98h2.7v2.7h-2.7zM415.81 309.38h2.7v2.7h-2.7zM418.70 309.77h2.7v2.7h-2.7zM420.47 310.28h2.7v2.7h-2.7zM423.17 311.13h2.7v2.7h-2.7zM425.45 311.49h2.7v2.7h-2.7zM427.56 311.56h2.7v2.7h-2.7zM429.90 311.59h2.7v2.7h-2.7zM431.76 312.05h2.7v2.7h-2.7zM433.72 311.94h2.7v2.7h-2.7zM436.74 312.36h2.7v2.7h-2.7zM438.65 313.49h2.7v2.7h-2.7zM440.68 314.53h2.7v2.7h-2.7zM441.24 317.63h2.7v2.7h-2.7zM441.86 319.76h2.7v2.7h-2.7zM444.31 320.92h2.7v2.7h-2.7zM444.88 323.32h2.7v2.7h-2.7zM445.64 326.59h2.7v2.7h-2.7zM445.97 329.51h2.7v2.7h-2.7zM446.04 331.05h2.7v2.7h-2.7zM446.55 333.16h2.7v2.7h-2.7zM449.16 333.20h2.7v2.7h-2.7z" fill="#213F7E"/>
<polyline points="434.20,338.90 451.00,339.40" fill="none" stroke="#A80A2E" stroke-width="0.9"/>
<circle cx="451.00" cy="339.40" r="1.3" fill="#A80A2E"/>
<polyline points="372.90,302.80 378.70,306.30 385.40,310.30 392.10,317.00 398.90,322.10 405.60,328.80 410.60,330.50 417.40,332.20 429.10,332.80 431.00,335.00 434.20,338.90" fill="none" stroke="#A80A2E" stroke-width="1.7" stroke-linejoin="round" stroke-linecap="square"/>
<path d="M371.64 301.79h2.4v2.4h-2.4zM373.95 303.12h2.4v2.4h-2.4zM376.51 304.76h2.4v2.4h-2.4zM378.41 305.49h2.4v2.4h-2.4zM380.26 306.96h2.4v2.4h-2.4zM382.62 307.95h2.4v2.4h-2.4zM384.77 309.68h2.4v2.4h-2.4zM386.19 311.12h2.4v2.4h-2.4zM388.27 312.82h2.4v2.4h-2.4zM390.41 315.21h2.4v2.4h-2.4zM391.55 316.48h2.4v2.4h-2.4zM394.01 318.24h2.4v2.4h-2.4zM396.09 319.69h2.4v2.4h-2.4zM398.56 321.48h2.4v2.4h-2.4zM400.66 323.99h2.4v2.4h-2.4zM402.72 325.69h2.4v2.4h-2.4zM404.49 327.66h2.4v2.4h-2.4zM407.00 328.39h2.4v2.4h-2.4zM408.88 328.88h2.4v2.4h-2.4zM411.86 329.79h2.4v2.4h-2.4zM414.15 330.25h2.4v2.4h-2.4zM417.12 331.23h2.4v2.4h-2.4zM419.67 331.08h2.4v2.4h-2.4zM422.01 331.14h2.4v2.4h-2.4zM424.08 331.24h2.4v2.4h-2.4zM425.85 331.61h2.4v2.4h-2.4zM428.53 332.40h2.4v2.4h-2.4zM430.32 334.39h2.4v2.4h-2.4zM431.83 336.72h2.4v2.4h-2.4z" fill="#A80A2E"/>
<text x="453.60" y="320.30" font-size="6.1" text-anchor="middle" fill="#213F7E">211</text>
<text x="424.00" y="331.00" font-size="6.1" text-anchor="middle" fill="#A80A2E">98</text>
<text x="422.50" y="387.04" font-size="9.0" text-anchor="middle" fill="#1a1a1a" textLength="14.20" lengthAdjust="spacingAndGlyphs">Days</text>
<text x="356.40" y="396.84" font-size="5.4" text-anchor="start" fill="#1a1a1a" textLength="26.10" lengthAdjust="spacingAndGlyphs">No. at Risk</text>
<text x="359.70" y="405.12" font-size="5.9" fill="#A80A2E" textLength="13.80" lengthAdjust="spacingAndGlyphs">SOD1</text>
<text x="374.00" y="402.29" font-size="4.13" fill="#A80A2E">high</text>
<text x="361.20" y="411.72" font-size="5.9" fill="#213F7E" textLength="13.80" lengthAdjust="spacingAndGlyphs">SOD1</text>
<text x="375.50" y="408.89" font-size="4.13" fill="#213F7E">low</text>
<text x="382.50" y="405.02" font-size="5.6" text-anchor="end" fill="#A80A2E">:</text>
<text x="382.50" y="411.62" font-size="5.6" text-anchor="end" fill="#213F7E">:</text>
<text x="392.40" y="404.98" font-size="5.5" text-anchor="middle" fill="#A80A2E" textLength="6.90" lengthAdjust="spacingAndGlyphs">70</text>
<text x="392.40" y="411.58" font-size="5.5" text-anchor="middle" fill="#213F7E" textLength="10.35" lengthAdjust="spacingAndGlyphs">191</text>
<text x="412.00" y="404.98" font-size="5.5" text-anchor="middle" fill="#A80A2E" textLength="6.90" lengthAdjust="spacingAndGlyphs">41</text>
<text x="412.00" y="411.58" font-size="5.5" text-anchor="middle" fill="#213F7E" textLength="10.35" lengthAdjust="spacingAndGlyphs">124</text>
<text x="431.00" y="404.98" font-size="5.5" text-anchor="middle" fill="#A80A2E" textLength="6.90" lengthAdjust="spacingAndGlyphs">16</text>
<text x="431.00" y="411.58" font-size="5.5" text-anchor="middle" fill="#213F7E" textLength="6.90" lengthAdjust="spacingAndGlyphs">40</text>
<text x="450.20" y="404.98" font-size="5.5" text-anchor="middle" fill="#A80A2E" textLength="3.45" lengthAdjust="spacingAndGlyphs">2</text>
<text x="450.20" y="411.58" font-size="5.5" text-anchor="middle" fill="#213F7E" textLength="3.45" lengthAdjust="spacingAndGlyphs">1</text>
<text x="7.50" y="434.50" font-size="11.4" text-anchor="start" fill="#000" textLength="9.63" lengthAdjust="spacingAndGlyphs" font-weight="bold">N</text>
<line x1="49.00" y1="436.40" x2="49.00" y2="502.90" stroke="#151515" stroke-width="1.3"/>
<line x1="47.20" y1="502.40" x2="49.00" y2="502.40" stroke="#333" stroke-width="0.65"/>
<line x1="47.20" y1="500.38" x2="49.00" y2="500.38" stroke="#333" stroke-width="0.65"/>
<line x1="47.20" y1="498.36" x2="49.00" y2="498.36" stroke="#333" stroke-width="0.65"/>
<line x1="47.20" y1="496.34" x2="49.00" y2="496.34" stroke="#333" stroke-width="0.65"/>
<line x1="47.20" y1="494.32" x2="49.00" y2="494.32" stroke="#333" stroke-width="0.65"/>
<line x1="47.20" y1="492.30" x2="49.00" y2="492.30" stroke="#333" stroke-width="0.65"/>
<line x1="47.20" y1="490.28" x2="49.00" y2="490.28" stroke="#333" stroke-width="0.65"/>
<line x1="47.20" y1="488.26" x2="49.00" y2="488.26" stroke="#333" stroke-width="0.65"/>
<line x1="47.20" y1="486.24" x2="49.00" y2="486.24" stroke="#333" stroke-width="0.65"/>
<line x1="47.20" y1="484.22" x2="49.00" y2="484.22" stroke="#333" stroke-width="0.65"/>
<line x1="47.20" y1="482.20" x2="49.00" y2="482.20" stroke="#333" stroke-width="0.65"/>
<line x1="47.20" y1="480.18" x2="49.00" y2="480.18" stroke="#333" stroke-width="0.65"/>
<line x1="47.20" y1="478.16" x2="49.00" y2="478.16" stroke="#333" stroke-width="0.65"/>
<line x1="47.20" y1="476.14" x2="49.00" y2="476.14" stroke="#333" stroke-width="0.65"/>
<line x1="47.20" y1="474.12" x2="49.00" y2="474.12" stroke="#333" stroke-width="0.65"/>
<line x1="47.20" y1="472.10" x2="49.00" y2="472.10" stroke="#333" stroke-width="0.65"/>
<line x1="47.20" y1="470.08" x2="49.00" y2="470.08" stroke="#333" stroke-width="0.65"/>
<line x1="47.20" y1="468.06" x2="49.00" y2="468.06" stroke="#333" stroke-width="0.65"/>
<line x1="47.20" y1="466.04" x2="49.00" y2="466.04" stroke="#333" stroke-width="0.65"/>
<line x1="47.20" y1="464.02" x2="49.00" y2="464.02" stroke="#333" stroke-width="0.65"/>
<line x1="47.20" y1="462.00" x2="49.00" y2="462.00" stroke="#333" stroke-width="0.65"/>
<line x1="47.20" y1="459.98" x2="49.00" y2="459.98" stroke="#333" stroke-width="0.65"/>
<line x1="47.20" y1="457.96" x2="49.00" y2="457.96" stroke="#333" stroke-width="0.65"/>
<line x1="47.20" y1="455.94" x2="49.00" y2="455.94" stroke="#333" stroke-width="0.65"/>
<line x1="47.20" y1="453.92" x2="49.00" y2="453.92" stroke="#333" stroke-width="0.65"/>
<line x1="47.20" y1="451.90" x2="49.00" y2="451.90" stroke="#333" stroke-width="0.65"/>
<line x1="47.20" y1="449.88" x2="49.00" y2="449.88" stroke="#333" stroke-width="0.65"/>
<line x1="47.20" y1="447.86" x2="49.00" y2="447.86" stroke="#333" stroke-width="0.65"/>
<line x1="47.20" y1="445.84" x2="49.00" y2="445.84" stroke="#333" stroke-width="0.65"/>
<line x1="47.20" y1="443.82" x2="49.00" y2="443.82" stroke="#333" stroke-width="0.65"/>
<line x1="47.20" y1="441.80" x2="49.00" y2="441.80" stroke="#333" stroke-width="0.65"/>
<line x1="47.20" y1="439.78" x2="49.00" y2="439.78" stroke="#333" stroke-width="0.65"/>
<line x1="47.20" y1="437.76" x2="49.00" y2="437.76" stroke="#333" stroke-width="0.65"/>
<line x1="45.80" y1="444.20" x2="49.00" y2="444.20" stroke="#151515" stroke-width="1"/>
<text x="43.40" y="446.47" font-size="6.3" text-anchor="end" fill="#1a1a1a" textLength="9.90" lengthAdjust="spacingAndGlyphs">100</text>
<line x1="45.80" y1="473.30" x2="49.00" y2="473.30" stroke="#151515" stroke-width="1"/>
<text x="43.40" y="475.57" font-size="6.3" text-anchor="end" fill="#1a1a1a" textLength="6.60" lengthAdjust="spacingAndGlyphs">50</text>
<line x1="45.80" y1="502.40" x2="49.00" y2="502.40" stroke="#151515" stroke-width="1"/>
<text x="43.40" y="504.67" font-size="6.3" text-anchor="end" fill="#1a1a1a" textLength="3.30" lengthAdjust="spacingAndGlyphs">0</text>
<line x1="49.00" y1="502.40" x2="148.70" y2="502.40" stroke="#151515" stroke-width="1.3"/>
<line x1="49.00" y1="502.40" x2="49.00" y2="505.00" stroke="#151515" stroke-width="1"/>
<text x="49.00" y="515.27" font-size="6.3" text-anchor="middle" fill="#1a1a1a" textLength="3.30" lengthAdjust="spacingAndGlyphs">0</text>
<line x1="68.32" y1="502.40" x2="68.32" y2="505.00" stroke="#151515" stroke-width="1"/>
<text x="68.32" y="515.27" font-size="6.3" text-anchor="middle" fill="#1a1a1a" textLength="10.00" lengthAdjust="spacingAndGlyphs">500</text>
<line x1="87.64" y1="502.40" x2="87.64" y2="505.00" stroke="#151515" stroke-width="1"/>
<text x="87.64" y="515.27" font-size="6.3" text-anchor="middle" fill="#1a1a1a" textLength="15.50" lengthAdjust="spacingAndGlyphs">1,000</text>
<line x1="106.96" y1="502.40" x2="106.96" y2="505.00" stroke="#151515" stroke-width="1"/>
<text x="106.96" y="515.27" font-size="6.3" text-anchor="middle" fill="#1a1a1a" textLength="15.50" lengthAdjust="spacingAndGlyphs">1,500</text>
<line x1="126.28" y1="502.40" x2="126.28" y2="505.00" stroke="#151515" stroke-width="1"/>
<text x="126.28" y="515.27" font-size="6.3" text-anchor="middle" fill="#1a1a1a" textLength="15.50" lengthAdjust="spacingAndGlyphs">2,000</text>
<line x1="145.60" y1="502.40" x2="145.60" y2="505.00" stroke="#151515" stroke-width="1"/>
<text x="145.60" y="515.27" font-size="6.3" text-anchor="middle" fill="#1a1a1a" textLength="15.50" lengthAdjust="spacingAndGlyphs">2,500</text>
<text x="0" y="3.17" font-size="8.8" text-anchor="middle" fill="#1a1a1a" textLength="11.30" lengthAdjust="spacingAndGlyphs" transform="translate(24.20 469.30) rotate(-90)">PFS</text>
<text x="99.20" y="438.17" font-size="8.8" text-anchor="middle" fill="#1a1a1a" textLength="10.40" lengthAdjust="spacingAndGlyphs" stroke="#1a1a1a" stroke-width="0.05">Cfz</text>
<text x="66.60" y="445.67" font-size="6.3" text-anchor="start" fill="#1a1a1a" textLength="57.30" lengthAdjust="spacingAndGlyphs">Logrank p= 1.8e-04</text>
<line x1="111.80" y1="460.20" x2="119.60" y2="460.20" stroke="#A80A2E" stroke-width="0.9"/>
<circle cx="115.70" cy="460.20" r="1.6" fill="#A80A2E"/>
<text x="123.10" y="462.43" font-size="6.2" fill="#A80A2E" textLength="13.80" lengthAdjust="spacingAndGlyphs">SOD1</text>
<text x="137.40" y="459.46" font-size="4.34" fill="#A80A2E">high</text>
<line x1="111.80" y1="469.30" x2="119.60" y2="469.30" stroke="#213F7E" stroke-width="0.9"/>
<circle cx="115.70" cy="469.30" r="1.6" fill="#213F7E"/>
<text x="123.10" y="471.53" font-size="6.2" fill="#213F7E" textLength="13.80" lengthAdjust="spacingAndGlyphs">SOD1</text>
<text x="137.40" y="468.56" font-size="4.34" fill="#213F7E">low</text>
<polyline points="103.50,492.80 111.90,493.20" fill="none" stroke="#213F7E" stroke-width="0.9"/>
<circle cx="111.90" cy="493.20" r="1.3" fill="#213F7E"/>
<polyline points="49.30,444.20 54.20,445.70 58.80,448.80 65.00,453.40 71.20,458.80 75.80,463.40 78.10,470.30 81.90,478.00 88.10,480.30 92.70,481.80 97.30,485.70 101.90,488.80 103.50,492.80" fill="none" stroke="#213F7E" stroke-width="1.9" stroke-linejoin="round" stroke-linecap="square"/>
<path d="M48.07 442.63h2.7v2.7h-2.7zM50.71 443.49h2.7v2.7h-2.7zM52.84 444.65h2.7v2.7h-2.7zM55.07 446.13h2.7v2.7h-2.7zM57.12 447.31h2.7v2.7h-2.7zM59.49 448.58h2.7v2.7h-2.7zM61.11 450.09h2.7v2.7h-2.7zM62.56 451.32h2.7v2.7h-2.7zM64.51 452.50h2.7v2.7h-2.7zM66.78 454.53h2.7v2.7h-2.7zM68.95 456.38h2.7v2.7h-2.7zM70.06 457.52h2.7v2.7h-2.7zM71.59 459.27h2.7v2.7h-2.7zM73.30 460.67h2.7v2.7h-2.7zM74.63 462.59h2.7v2.7h-2.7zM75.47 464.96h2.7v2.7h-2.7zM76.18 466.68h2.7v2.7h-2.7zM77.03 469.43h2.7v2.7h-2.7zM77.78 471.45h2.7v2.7h-2.7zM79.34 473.65h2.7v2.7h-2.7zM80.33 476.61h2.7v2.7h-2.7zM82.93 477.87h2.7v2.7h-2.7zM85.84 478.65h2.7v2.7h-2.7zM88.05 479.18h2.7v2.7h-2.7zM90.81 480.18h2.7v2.7h-2.7zM92.86 481.48h2.7v2.7h-2.7zM94.04 482.86h2.7v2.7h-2.7zM96.02 484.49h2.7v2.7h-2.7zM98.32 486.02h2.7v2.7h-2.7zM100.45 487.57h2.7v2.7h-2.7zM102.03 490.44h2.7v2.7h-2.7z" fill="#213F7E"/>
<polyline points="105.80,500.30 125.00,502.00" fill="none" stroke="#A80A2E" stroke-width="0.9"/>
<circle cx="125.00" cy="502.00" r="1.3" fill="#A80A2E"/>
<polyline points="49.30,444.20 54.20,448.80 58.10,454.90 62.70,464.20 66.50,470.30 70.40,476.50 73.50,482.60 78.10,484.20 83.50,488.80 89.60,491.10 95.80,493.40 100.40,495.70 104.20,496.50 105.80,500.30" fill="none" stroke="#A80A2E" stroke-width="1.7" stroke-linejoin="round" stroke-linecap="square"/>
<path d="M48.10 442.78h2.4v2.4h-2.4zM49.94 444.96h2.4v2.4h-2.4zM51.49 446.14h2.4v2.4h-2.4zM52.93 447.51h2.4v2.4h-2.4zM54.44 450.12h2.4v2.4h-2.4zM56.04 452.45h2.4v2.4h-2.4zM57.62 455.03h2.4v2.4h-2.4zM58.75 457.32h2.4v2.4h-2.4zM59.50 459.50h2.4v2.4h-2.4zM60.99 462.09h2.4v2.4h-2.4zM61.81 463.82h2.4v2.4h-2.4zM63.77 466.78h2.4v2.4h-2.4zM65.66 469.42h2.4v2.4h-2.4zM67.11 472.21h2.4v2.4h-2.4zM68.34 474.08h2.4v2.4h-2.4zM69.77 476.39h2.4v2.4h-2.4zM71.17 479.15h2.4v2.4h-2.4zM71.94 480.49h2.4v2.4h-2.4zM73.78 481.74h2.4v2.4h-2.4zM76.40 482.73h2.4v2.4h-2.4zM78.62 484.39h2.4v2.4h-2.4zM80.33 486.12h2.4v2.4h-2.4zM82.61 487.85h2.4v2.4h-2.4zM84.53 488.69h2.4v2.4h-2.4zM86.81 489.32h2.4v2.4h-2.4zM89.71 490.47h2.4v2.4h-2.4zM92.19 491.14h2.4v2.4h-2.4zM95.10 492.36h2.4v2.4h-2.4zM96.97 493.39h2.4v2.4h-2.4zM99.92 494.80h2.4v2.4h-2.4zM102.86 495.45h2.4v2.4h-2.4zM104.00 498.30h2.4v2.4h-2.4z" fill="#A80A2E"/>
<text x="87.20" y="471.50" font-size="6.1" text-anchor="middle" fill="#213F7E">172</text>
<text x="68.90" y="488.50" font-size="6.1" text-anchor="middle" fill="#A80A2E">99</text>
<text x="98.80" y="527.64" font-size="9.0" text-anchor="middle" fill="#1a1a1a" textLength="14.20" lengthAdjust="spacingAndGlyphs">Days</text>
<text x="32.80" y="537.74" font-size="5.4" text-anchor="start" fill="#1a1a1a" textLength="26.10" lengthAdjust="spacingAndGlyphs">No. at Risk</text>
<text x="42.60" y="546.12" font-size="5.9" fill="#A80A2E" textLength="7.80" lengthAdjust="spacingAndGlyphs">MIF</text>
<text x="50.90" y="543.29" font-size="4.13" fill="#A80A2E">high</text>
<text x="44.10" y="552.72" font-size="5.9" fill="#213F7E" textLength="7.80" lengthAdjust="spacingAndGlyphs">MIF</text>
<text x="52.40" y="549.89" font-size="4.13" fill="#213F7E">low</text>
<text x="59.20" y="546.02" font-size="5.6" text-anchor="end" fill="#A80A2E">:</text>
<text x="59.20" y="552.62" font-size="5.6" text-anchor="end" fill="#213F7E">:</text>
<text x="68.10" y="545.98" font-size="5.5" text-anchor="middle" fill="#A80A2E" textLength="6.90" lengthAdjust="spacingAndGlyphs">42</text>
<text x="68.10" y="552.58" font-size="5.5" text-anchor="middle" fill="#213F7E" textLength="6.90" lengthAdjust="spacingAndGlyphs">71</text>
<text x="87.70" y="545.98" font-size="5.5" text-anchor="middle" fill="#A80A2E" textLength="6.90" lengthAdjust="spacingAndGlyphs">16</text>
<text x="87.70" y="552.58" font-size="5.5" text-anchor="middle" fill="#213F7E" textLength="6.90" lengthAdjust="spacingAndGlyphs">27</text>
<text x="107.00" y="545.98" font-size="5.5" text-anchor="middle" fill="#A80A2E" textLength="3.45" lengthAdjust="spacingAndGlyphs">2</text>
<text x="107.00" y="552.58" font-size="5.5" text-anchor="middle" fill="#213F7E" textLength="3.45" lengthAdjust="spacingAndGlyphs">2</text>
<text x="126.60" y="545.98" font-size="5.5" text-anchor="middle" fill="#A80A2E" textLength="3.45" lengthAdjust="spacingAndGlyphs">0</text>
<text x="126.60" y="552.58" font-size="5.5" text-anchor="middle" fill="#213F7E" textLength="3.45" lengthAdjust="spacingAndGlyphs">1</text>
<text x="171.40" y="434.50" font-size="11.4" text-anchor="start" fill="#000" textLength="10.38" lengthAdjust="spacingAndGlyphs" font-weight="bold">O</text>
<line x1="213.30" y1="436.40" x2="213.30" y2="503.00" stroke="#151515" stroke-width="1.3"/>
<line x1="211.50" y1="502.50" x2="213.30" y2="502.50" stroke="#333" stroke-width="0.65"/>
<line x1="211.50" y1="500.48" x2="213.30" y2="500.48" stroke="#333" stroke-width="0.65"/>
<line x1="211.50" y1="498.46" x2="213.30" y2="498.46" stroke="#333" stroke-width="0.65"/>
<line x1="211.50" y1="496.44" x2="213.30" y2="496.44" stroke="#333" stroke-width="0.65"/>
<line x1="211.50" y1="494.42" x2="213.30" y2="494.42" stroke="#333" stroke-width="0.65"/>
<line x1="211.50" y1="492.40" x2="213.30" y2="492.40" stroke="#333" stroke-width="0.65"/>
<line x1="211.50" y1="490.38" x2="213.30" y2="490.38" stroke="#333" stroke-width="0.65"/>
<line x1="211.50" y1="488.36" x2="213.30" y2="488.36" stroke="#333" stroke-width="0.65"/>
<line x1="211.50" y1="486.34" x2="213.30" y2="486.34" stroke="#333" stroke-width="0.65"/>
<line x1="211.50" y1="484.32" x2="213.30" y2="484.32" stroke="#333" stroke-width="0.65"/>
<line x1="211.50" y1="482.30" x2="213.30" y2="482.30" stroke="#333" stroke-width="0.65"/>
<line x1="211.50" y1="480.28" x2="213.30" y2="480.28" stroke="#333" stroke-width="0.65"/>
<line x1="211.50" y1="478.26" x2="213.30" y2="478.26" stroke="#333" stroke-width="0.65"/>
<line x1="211.50" y1="476.24" x2="213.30" y2="476.24" stroke="#333" stroke-width="0.65"/>
<line x1="211.50" y1="474.22" x2="213.30" y2="474.22" stroke="#333" stroke-width="0.65"/>
<line x1="211.50" y1="472.20" x2="213.30" y2="472.20" stroke="#333" stroke-width="0.65"/>
<line x1="211.50" y1="470.18" x2="213.30" y2="470.18" stroke="#333" stroke-width="0.65"/>
<line x1="211.50" y1="468.16" x2="213.30" y2="468.16" stroke="#333" stroke-width="0.65"/>
<line x1="211.50" y1="466.14" x2="213.30" y2="466.14" stroke="#333" stroke-width="0.65"/>
<line x1="211.50" y1="464.12" x2="213.30" y2="464.12" stroke="#333" stroke-width="0.65"/>
<line x1="211.50" y1="462.10" x2="213.30" y2="462.10" stroke="#333" stroke-width="0.65"/>
<line x1="211.50" y1="460.08" x2="213.30" y2="460.08" stroke="#333" stroke-width="0.65"/>
<line x1="211.50" y1="458.06" x2="213.30" y2="458.06" stroke="#333" stroke-width="0.65"/>
<line x1="211.50" y1="456.04" x2="213.30" y2="456.04" stroke="#333" stroke-width="0.65"/>
<line x1="211.50" y1="454.02" x2="213.30" y2="454.02" stroke="#333" stroke-width="0.65"/>
<line x1="211.50" y1="452.00" x2="213.30" y2="452.00" stroke="#333" stroke-width="0.65"/>
<line x1="211.50" y1="449.98" x2="213.30" y2="449.98" stroke="#333" stroke-width="0.65"/>
<line x1="211.50" y1="447.96" x2="213.30" y2="447.96" stroke="#333" stroke-width="0.65"/>
<line x1="211.50" y1="445.94" x2="213.30" y2="445.94" stroke="#333" stroke-width="0.65"/>
<line x1="211.50" y1="443.92" x2="213.30" y2="443.92" stroke="#333" stroke-width="0.65"/>
<line x1="211.50" y1="441.90" x2="213.30" y2="441.90" stroke="#333" stroke-width="0.65"/>
<line x1="211.50" y1="439.88" x2="213.30" y2="439.88" stroke="#333" stroke-width="0.65"/>
<line x1="211.50" y1="437.86" x2="213.30" y2="437.86" stroke="#333" stroke-width="0.65"/>
<line x1="210.10" y1="444.20" x2="213.30" y2="444.20" stroke="#151515" stroke-width="1"/>
<text x="207.70" y="446.47" font-size="6.3" text-anchor="end" fill="#1a1a1a" textLength="9.90" lengthAdjust="spacingAndGlyphs">100</text>
<line x1="210.10" y1="473.35" x2="213.30" y2="473.35" stroke="#151515" stroke-width="1"/>
<text x="207.70" y="475.62" font-size="6.3" text-anchor="end" fill="#1a1a1a" textLength="6.60" lengthAdjust="spacingAndGlyphs">50</text>
<line x1="210.10" y1="502.50" x2="213.30" y2="502.50" stroke="#151515" stroke-width="1"/>
<text x="207.70" y="504.77" font-size="6.3" text-anchor="end" fill="#1a1a1a" textLength="3.30" lengthAdjust="spacingAndGlyphs">0</text>
<line x1="213.30" y1="502.50" x2="312.10" y2="502.50" stroke="#151515" stroke-width="1.3"/>
<line x1="213.30" y1="502.50" x2="213.30" y2="505.10" stroke="#151515" stroke-width="1"/>
<text x="213.30" y="515.27" font-size="6.3" text-anchor="middle" fill="#1a1a1a" textLength="3.30" lengthAdjust="spacingAndGlyphs">0</text>
<line x1="232.70" y1="502.50" x2="232.70" y2="505.10" stroke="#151515" stroke-width="1"/>
<text x="232.70" y="515.27" font-size="6.3" text-anchor="middle" fill="#1a1a1a" textLength="10.00" lengthAdjust="spacingAndGlyphs">500</text>
<line x1="252.10" y1="502.50" x2="252.10" y2="505.10" stroke="#151515" stroke-width="1"/>
<text x="252.10" y="515.27" font-size="6.3" text-anchor="middle" fill="#1a1a1a" textLength="15.50" lengthAdjust="spacingAndGlyphs">1,000</text>
<line x1="271.50" y1="502.50" x2="271.50" y2="505.10" stroke="#151515" stroke-width="1"/>
<text x="271.50" y="515.27" font-size="6.3" text-anchor="middle" fill="#1a1a1a" textLength="15.50" lengthAdjust="spacingAndGlyphs">1,500</text>
<line x1="290.90" y1="502.50" x2="290.90" y2="505.10" stroke="#151515" stroke-width="1"/>
<text x="290.90" y="515.27" font-size="6.3" text-anchor="middle" fill="#1a1a1a" textLength="15.50" lengthAdjust="spacingAndGlyphs">2,000</text>
<line x1="310.30" y1="502.50" x2="310.30" y2="505.10" stroke="#151515" stroke-width="1"/>
<text x="310.30" y="515.27" font-size="6.3" text-anchor="middle" fill="#1a1a1a" textLength="15.50" lengthAdjust="spacingAndGlyphs">2,500</text>
<text x="0" y="3.17" font-size="8.8" text-anchor="middle" fill="#1a1a1a" textLength="46.00" lengthAdjust="spacingAndGlyphs" transform="translate(188.20 469.00) rotate(-90)">Overall survival</text>
<text x="262.80" y="436.67" font-size="8.8" text-anchor="middle" fill="#1a1a1a" textLength="10.40" lengthAdjust="spacingAndGlyphs" stroke="#1a1a1a" stroke-width="0.05">Cfz</text>
<text x="252.20" y="446.62" font-size="5.6" text-anchor="start" fill="#1a1a1a" textLength="47.50" lengthAdjust="spacingAndGlyphs">Logrank p= 1.4e-03</text>
<line x1="216.40" y1="483.20" x2="224.00" y2="483.20" stroke="#A80A2E" stroke-width="0.9"/>
<circle cx="220.20" cy="483.20" r="1.6" fill="#A80A2E"/>
<text x="227.10" y="485.43" font-size="6.2" fill="#A80A2E" textLength="13.80" lengthAdjust="spacingAndGlyphs">SOD1</text>
<text x="241.40" y="482.46" font-size="4.34" fill="#A80A2E">high</text>
<line x1="216.40" y1="492.30" x2="224.00" y2="492.30" stroke="#213F7E" stroke-width="0.9"/>
<circle cx="220.20" cy="492.30" r="1.6" fill="#213F7E"/>
<text x="227.10" y="494.53" font-size="6.2" fill="#213F7E" textLength="13.80" lengthAdjust="spacingAndGlyphs">SOD1</text>
<text x="241.40" y="491.56" font-size="4.34" fill="#213F7E">low</text>
<polyline points="213.30,444.20 221.90,444.70 225.40,446.00 239.20,447.30 244.40,450.30 249.60,453.70 254.80,456.30 261.90,457.70 265.40,459.00 276.60,459.50 277.50,467.60 290.50,468.00" fill="none" stroke="#213F7E" stroke-width="1.9" stroke-linejoin="round" stroke-linecap="square"/>
<path d="M212.06 443.10h2.7v2.7h-2.7zM214.06 443.08h2.7v2.7h-2.7zM216.10 443.00h2.7v2.7h-2.7zM219.11 443.50h2.7v2.7h-2.7zM220.79 443.36h2.7v2.7h-2.7zM222.71 444.11h2.7v2.7h-2.7zM225.92 444.68h2.7v2.7h-2.7zM228.95 445.06h2.7v2.7h-2.7zM231.99 445.36h2.7v2.7h-2.7zM234.59 445.50h2.7v2.7h-2.7zM237.73 445.84h2.7v2.7h-2.7zM240.07 447.60h2.7v2.7h-2.7zM242.05 448.44h2.7v2.7h-2.7zM243.68 449.23h2.7v2.7h-2.7zM245.51 450.26h2.7v2.7h-2.7zM247.98 451.89h2.7v2.7h-2.7zM249.55 453.09h2.7v2.7h-2.7zM251.52 454.15h2.7v2.7h-2.7zM253.93 455.06h2.7v2.7h-2.7zM256.27 455.31h2.7v2.7h-2.7zM258.89 455.92h2.7v2.7h-2.7zM261.20 456.61h2.7v2.7h-2.7zM262.51 457.30h2.7v2.7h-2.7zM264.62 457.57h2.7v2.7h-2.7zM267.21 457.79h2.7v2.7h-2.7zM269.72 458.00h2.7v2.7h-2.7zM271.52 457.97h2.7v2.7h-2.7zM274.27 458.15h2.7v2.7h-2.7zM275.67 459.98h2.7v2.7h-2.7zM275.93 462.42h2.7v2.7h-2.7zM275.98 464.39h2.7v2.7h-2.7zM276.16 466.37h2.7v2.7h-2.7zM278.99 466.37h2.7v2.7h-2.7zM282.25 466.61h2.7v2.7h-2.7zM284.01 466.71h2.7v2.7h-2.7zM287.40 466.62h2.7v2.7h-2.7z" fill="#213F7E"/>
<polyline points="274.70,477.20 296.50,477.20" fill="none" stroke="#A80A2E" stroke-width="0.9"/>
<circle cx="296.50" cy="477.20" r="1.3" fill="#A80A2E"/>
<polyline points="213.30,444.20 222.50,446.30 226.00,448.50 230.90,452.00 235.00,455.00 239.30,457.50 246.00,462.10 250.00,465.50 252.80,468.80 258.00,470.50 269.60,470.80 272.00,474.00 274.70,477.20" fill="none" stroke="#A80A2E" stroke-width="1.7" stroke-linejoin="round" stroke-linecap="square"/>
<path d="M212.12 443.08h2.4v2.4h-2.4zM214.34 443.58h2.4v2.4h-2.4zM217.46 444.17h2.4v2.4h-2.4zM219.96 444.99h2.4v2.4h-2.4zM223.08 446.31h2.4v2.4h-2.4zM224.99 447.22h2.4v2.4h-2.4zM226.66 448.59h2.4v2.4h-2.4zM228.56 449.91h2.4v2.4h-2.4zM230.47 450.98h2.4v2.4h-2.4zM232.46 452.62h2.4v2.4h-2.4zM234.50 454.33h2.4v2.4h-2.4zM236.92 455.64h2.4v2.4h-2.4zM239.45 457.14h2.4v2.4h-2.4zM241.30 458.62h2.4v2.4h-2.4zM243.88 460.21h2.4v2.4h-2.4zM246.56 462.18h2.4v2.4h-2.4zM247.84 463.61h2.4v2.4h-2.4zM249.90 465.37h2.4v2.4h-2.4zM251.59 467.61h2.4v2.4h-2.4zM254.01 468.53h2.4v2.4h-2.4zM255.83 469.05h2.4v2.4h-2.4zM258.95 469.25h2.4v2.4h-2.4zM261.24 469.56h2.4v2.4h-2.4zM262.95 469.56h2.4v2.4h-2.4zM264.82 469.48h2.4v2.4h-2.4zM266.86 469.57h2.4v2.4h-2.4zM268.61 469.96h2.4v2.4h-2.4zM269.85 471.75h2.4v2.4h-2.4zM271.20 473.55h2.4v2.4h-2.4zM273.19 475.68h2.4v2.4h-2.4z" fill="#A80A2E"/>
<text x="284.40" y="461.20" font-size="6.1" text-anchor="middle" fill="#213F7E">90</text>
<text x="260.20" y="467.50" font-size="6.1" text-anchor="middle" fill="#A80A2E">76</text>
<text x="263.20" y="527.64" font-size="9.0" text-anchor="middle" fill="#1a1a1a" textLength="14.20" lengthAdjust="spacingAndGlyphs">Days</text>
<text x="197.20" y="537.74" font-size="5.4" text-anchor="start" fill="#1a1a1a" textLength="26.10" lengthAdjust="spacingAndGlyphs">No. at Risk</text>
<text x="201.10" y="546.12" font-size="5.9" fill="#A80A2E" textLength="13.80" lengthAdjust="spacingAndGlyphs">SOD1</text>
<text x="215.40" y="543.29" font-size="4.13" fill="#A80A2E">high</text>
<text x="202.60" y="552.72" font-size="5.9" fill="#213F7E" textLength="13.80" lengthAdjust="spacingAndGlyphs">SOD1</text>
<text x="216.90" y="549.89" font-size="4.13" fill="#213F7E">low</text>
<text x="223.90" y="546.02" font-size="5.6" text-anchor="end" fill="#A80A2E">:</text>
<text x="223.90" y="552.62" font-size="5.6" text-anchor="end" fill="#213F7E">:</text>
<text x="232.80" y="545.98" font-size="5.5" text-anchor="middle" fill="#A80A2E" textLength="6.90" lengthAdjust="spacingAndGlyphs">64</text>
<text x="232.80" y="552.58" font-size="5.5" text-anchor="middle" fill="#213F7E" textLength="6.90" lengthAdjust="spacingAndGlyphs">85</text>
<text x="253.40" y="545.98" font-size="5.5" text-anchor="middle" fill="#A80A2E" textLength="6.90" lengthAdjust="spacingAndGlyphs">36</text>
<text x="253.40" y="552.58" font-size="5.5" text-anchor="middle" fill="#213F7E" textLength="6.90" lengthAdjust="spacingAndGlyphs">57</text>
<text x="274.00" y="545.98" font-size="5.5" text-anchor="middle" fill="#A80A2E" textLength="6.90" lengthAdjust="spacingAndGlyphs">16</text>
<text x="274.00" y="552.58" font-size="5.5" text-anchor="middle" fill="#213F7E" textLength="6.90" lengthAdjust="spacingAndGlyphs">16</text>
<text x="291.00" y="545.98" font-size="5.5" text-anchor="middle" fill="#A80A2E" textLength="3.45" lengthAdjust="spacingAndGlyphs">3</text>
<text x="291.00" y="552.58" font-size="5.5" text-anchor="middle" fill="#213F7E" textLength="3.45" lengthAdjust="spacingAndGlyphs">1</text>
<text x="330.90" y="434.50" font-size="11.4" text-anchor="start" fill="#000" textLength="8.90" lengthAdjust="spacingAndGlyphs" font-weight="bold">P</text>
<line x1="370.60" y1="436.80" x2="370.60" y2="503.00" stroke="#151515" stroke-width="1.3"/>
<line x1="368.80" y1="502.50" x2="370.60" y2="502.50" stroke="#333" stroke-width="0.65"/>
<line x1="368.80" y1="500.48" x2="370.60" y2="500.48" stroke="#333" stroke-width="0.65"/>
<line x1="368.80" y1="498.46" x2="370.60" y2="498.46" stroke="#333" stroke-width="0.65"/>
<line x1="368.80" y1="496.44" x2="370.60" y2="496.44" stroke="#333" stroke-width="0.65"/>
<line x1="368.80" y1="494.42" x2="370.60" y2="494.42" stroke="#333" stroke-width="0.65"/>
<line x1="368.80" y1="492.40" x2="370.60" y2="492.40" stroke="#333" stroke-width="0.65"/>
<line x1="368.80" y1="490.38" x2="370.60" y2="490.38" stroke="#333" stroke-width="0.65"/>
<line x1="368.80" y1="488.36" x2="370.60" y2="488.36" stroke="#333" stroke-width="0.65"/>
<line x1="368.80" y1="486.34" x2="370.60" y2="486.34" stroke="#333" stroke-width="0.65"/>
<line x1="368.80" y1="484.32" x2="370.60" y2="484.32" stroke="#333" stroke-width="0.65"/>
<line x1="368.80" y1="482.30" x2="370.60" y2="482.30" stroke="#333" stroke-width="0.65"/>
<line x1="368.80" y1="480.28" x2="370.60" y2="480.28" stroke="#333" stroke-width="0.65"/>
<line x1="368.80" y1="478.26" x2="370.60" y2="478.26" stroke="#333" stroke-width="0.65"/>
<line x1="368.80" y1="476.24" x2="370.60" y2="476.24" stroke="#333" stroke-width="0.65"/>
<line x1="368.80" y1="474.22" x2="370.60" y2="474.22" stroke="#333" stroke-width="0.65"/>
<line x1="368.80" y1="472.20" x2="370.60" y2="472.20" stroke="#333" stroke-width="0.65"/>
<line x1="368.80" y1="470.18" x2="370.60" y2="470.18" stroke="#333" stroke-width="0.65"/>
<line x1="368.80" y1="468.16" x2="370.60" y2="468.16" stroke="#333" stroke-width="0.65"/>
<line x1="368.80" y1="466.14" x2="370.60" y2="466.14" stroke="#333" stroke-width="0.65"/>
<line x1="368.80" y1="464.12" x2="370.60" y2="464.12" stroke="#333" stroke-width="0.65"/>
<line x1="368.80" y1="462.10" x2="370.60" y2="462.10" stroke="#333" stroke-width="0.65"/>
<line x1="368.80" y1="460.08" x2="370.60" y2="460.08" stroke="#333" stroke-width="0.65"/>
<line x1="368.80" y1="458.06" x2="370.60" y2="458.06" stroke="#333" stroke-width="0.65"/>
<line x1="368.80" y1="456.04" x2="370.60" y2="456.04" stroke="#333" stroke-width="0.65"/>
<line x1="368.80" y1="454.02" x2="370.60" y2="454.02" stroke="#333" stroke-width="0.65"/>
<line x1="368.80" y1="452.00" x2="370.60" y2="452.00" stroke="#333" stroke-width="0.65"/>
<line x1="368.80" y1="449.98" x2="370.60" y2="449.98" stroke="#333" stroke-width="0.65"/>
<line x1="368.80" y1="447.96" x2="370.60" y2="447.96" stroke="#333" stroke-width="0.65"/>
<line x1="368.80" y1="445.94" x2="370.60" y2="445.94" stroke="#333" stroke-width="0.65"/>
<line x1="368.80" y1="443.92" x2="370.60" y2="443.92" stroke="#333" stroke-width="0.65"/>
<line x1="368.80" y1="441.90" x2="370.60" y2="441.90" stroke="#333" stroke-width="0.65"/>
<line x1="368.80" y1="439.88" x2="370.60" y2="439.88" stroke="#333" stroke-width="0.65"/>
<line x1="368.80" y1="437.86" x2="370.60" y2="437.86" stroke="#333" stroke-width="0.65"/>
<line x1="367.40" y1="444.60" x2="370.60" y2="444.60" stroke="#151515" stroke-width="1"/>
<text x="365.00" y="446.87" font-size="6.3" text-anchor="end" fill="#1a1a1a" textLength="9.90" lengthAdjust="spacingAndGlyphs">100</text>
<line x1="367.40" y1="473.55" x2="370.60" y2="473.55" stroke="#151515" stroke-width="1"/>
<text x="365.00" y="475.82" font-size="6.3" text-anchor="end" fill="#1a1a1a" textLength="6.60" lengthAdjust="spacingAndGlyphs">50</text>
<line x1="367.40" y1="502.50" x2="370.60" y2="502.50" stroke="#151515" stroke-width="1"/>
<text x="365.00" y="504.77" font-size="6.3" text-anchor="end" fill="#1a1a1a" textLength="3.30" lengthAdjust="spacingAndGlyphs">0</text>
<line x1="370.60" y1="502.50" x2="469.70" y2="502.50" stroke="#151515" stroke-width="1.3"/>
<line x1="370.60" y1="502.50" x2="370.60" y2="505.10" stroke="#151515" stroke-width="1"/>
<text x="370.60" y="515.27" font-size="6.3" text-anchor="middle" fill="#1a1a1a" textLength="3.30" lengthAdjust="spacingAndGlyphs">0</text>
<line x1="389.78" y1="502.50" x2="389.78" y2="505.10" stroke="#151515" stroke-width="1"/>
<text x="389.78" y="515.27" font-size="6.3" text-anchor="middle" fill="#1a1a1a" textLength="10.00" lengthAdjust="spacingAndGlyphs">200</text>
<line x1="408.96" y1="502.50" x2="408.96" y2="505.10" stroke="#151515" stroke-width="1"/>
<text x="408.96" y="515.27" font-size="6.3" text-anchor="middle" fill="#1a1a1a" textLength="10.00" lengthAdjust="spacingAndGlyphs">400</text>
<line x1="428.14" y1="502.50" x2="428.14" y2="505.10" stroke="#151515" stroke-width="1"/>
<text x="428.14" y="515.27" font-size="6.3" text-anchor="middle" fill="#1a1a1a" textLength="10.00" lengthAdjust="spacingAndGlyphs">600</text>
<line x1="447.32" y1="502.50" x2="447.32" y2="505.10" stroke="#151515" stroke-width="1"/>
<text x="447.32" y="515.27" font-size="6.3" text-anchor="middle" fill="#1a1a1a" textLength="10.00" lengthAdjust="spacingAndGlyphs">800</text>
<line x1="466.50" y1="502.50" x2="466.50" y2="505.10" stroke="#151515" stroke-width="1"/>
<text x="466.50" y="515.27" font-size="6.3" text-anchor="middle" fill="#1a1a1a" textLength="15.50" lengthAdjust="spacingAndGlyphs">1,000</text>
<text x="0" y="3.17" font-size="8.8" text-anchor="middle" fill="#1a1a1a" textLength="57.00" lengthAdjust="spacingAndGlyphs" transform="translate(346.10 469.30) rotate(-90)">Proportion of cases</text>
<text x="381.00" y="446.22" font-size="5.6" text-anchor="start" fill="#1a1a1a" textLength="47.80" lengthAdjust="spacingAndGlyphs">Logrank p= 5.3e-03</text>
<line x1="422.20" y1="455.60" x2="430.00" y2="455.60" stroke="#A80A2E" stroke-width="0.9"/>
<circle cx="426.10" cy="455.60" r="1.6" fill="#A80A2E"/>
<text x="433.70" y="457.83" font-size="6.2" fill="#A80A2E" textLength="8.40" lengthAdjust="spacingAndGlyphs">MIF</text>
<text x="442.60" y="454.86" font-size="4.34" fill="#A80A2E">high</text>
<line x1="422.20" y1="465.00" x2="430.00" y2="465.00" stroke="#213F7E" stroke-width="0.9"/>
<circle cx="426.10" cy="465.00" r="1.6" fill="#213F7E"/>
<text x="433.70" y="467.23" font-size="6.2" fill="#213F7E" textLength="8.40" lengthAdjust="spacingAndGlyphs">MIF</text>
<text x="442.60" y="464.26" font-size="4.34" fill="#213F7E">low</text>
<polyline points="425.00,497.50 446.60,497.50 446.60,502.40" fill="none" stroke="#213F7E" stroke-width="0.9"/>
<circle cx="446.60" cy="497.50" r="1.3" fill="#213F7E"/>
<circle cx="446.60" cy="502.40" r="1.3" fill="#213F7E"/>
<polyline points="370.60,444.60 373.70,446.00 377.20,447.70 378.90,452.00 379.80,459.80 381.50,463.30 385.00,467.60 390.20,472.80 391.90,480.60 395.40,485.80 400.60,489.20 405.80,491.80 414.40,494.40 425.00,497.50" fill="none" stroke="#213F7E" stroke-width="1.9" stroke-linejoin="round" stroke-linecap="square"/>
<path d="M369.11 443.04h2.7v2.7h-2.7zM371.15 444.12h2.7v2.7h-2.7zM372.56 444.67h2.7v2.7h-2.7zM375.13 445.85h2.7v2.7h-2.7zM376.59 448.69h2.7v2.7h-2.7zM377.46 450.88h2.7v2.7h-2.7zM377.92 453.02h2.7v2.7h-2.7zM378.02 455.88h2.7v2.7h-2.7zM378.54 458.51h2.7v2.7h-2.7zM379.34 460.25h2.7v2.7h-2.7zM379.96 461.63h2.7v2.7h-2.7zM381.79 463.84h2.7v2.7h-2.7zM383.59 466.26h2.7v2.7h-2.7zM385.30 467.47h2.7v2.7h-2.7zM386.51 469.35h2.7v2.7h-2.7zM388.28 471.00h2.7v2.7h-2.7zM389.08 473.69h2.7v2.7h-2.7zM390.03 475.92h2.7v2.7h-2.7zM390.24 477.91h2.7v2.7h-2.7zM391.26 480.27h2.7v2.7h-2.7zM392.71 482.17h2.7v2.7h-2.7zM393.43 483.65h2.7v2.7h-2.7zM395.79 485.63h2.7v2.7h-2.7zM398.29 487.01h2.7v2.7h-2.7zM399.89 488.33h2.7v2.7h-2.7zM402.29 489.32h2.7v2.7h-2.7zM404.87 490.59h2.7v2.7h-2.7zM406.76 491.38h2.7v2.7h-2.7zM409.11 491.85h2.7v2.7h-2.7zM411.38 492.63h2.7v2.7h-2.7zM413.55 493.33h2.7v2.7h-2.7zM416.06 494.03h2.7v2.7h-2.7zM418.68 494.48h2.7v2.7h-2.7zM421.40 495.25h2.7v2.7h-2.7zM422.99 495.75h2.7v2.7h-2.7z" fill="#213F7E"/>
<polyline points="414.40,499.60 421.30,500.50 428.50,502.40" fill="none" stroke="#A80A2E" stroke-width="0.9"/>
<circle cx="421.30" cy="500.50" r="1.3" fill="#A80A2E"/>
<circle cx="428.50" cy="502.40" r="1.3" fill="#A80A2E"/>
<polyline points="370.60,444.60 373.70,447.70 375.50,456.30 378.10,461.50 378.90,468.50 381.50,473.70 385.00,479.70 388.50,484.90 391.90,490.10 397.10,494.40 404.00,496.20 411.80,497.00 414.40,499.60" fill="none" stroke="#A80A2E" stroke-width="1.7" stroke-linejoin="round" stroke-linecap="square"/>
<path d="M369.58 443.56h2.4v2.4h-2.4zM371.41 445.67h2.4v2.4h-2.4zM372.70 447.33h2.4v2.4h-2.4zM373.31 449.78h2.4v2.4h-2.4zM374.02 452.89h2.4v2.4h-2.4zM374.71 455.89h2.4v2.4h-2.4zM376.04 458.71h2.4v2.4h-2.4zM377.04 460.69h2.4v2.4h-2.4zM377.27 463.70h2.4v2.4h-2.4zM377.38 465.26h2.4v2.4h-2.4zM378.30 468.25h2.4v2.4h-2.4zM379.75 470.81h2.4v2.4h-2.4zM380.76 473.67h2.4v2.4h-2.4zM381.93 475.55h2.4v2.4h-2.4zM383.16 477.10h2.4v2.4h-2.4zM384.76 479.77h2.4v2.4h-2.4zM386.25 481.72h2.4v2.4h-2.4zM387.50 483.96h2.4v2.4h-2.4zM389.05 486.22h2.4v2.4h-2.4zM390.00 487.62h2.4v2.4h-2.4zM391.23 489.66h2.4v2.4h-2.4zM393.05 490.61h2.4v2.4h-2.4zM395.28 492.59h2.4v2.4h-2.4zM397.80 493.60h2.4v2.4h-2.4zM400.29 494.31h2.4v2.4h-2.4zM403.40 494.88h2.4v2.4h-2.4zM405.57 495.29h2.4v2.4h-2.4zM408.32 495.58h2.4v2.4h-2.4zM410.80 495.94h2.4v2.4h-2.4zM412.44 497.68h2.4v2.4h-2.4z" fill="#A80A2E"/>
<text x="397.10" y="477.90" font-size="6.1" text-anchor="middle" fill="#213F7E">60</text>
<text x="382.40" y="494.00" font-size="6.1" text-anchor="middle" fill="#A80A2E">103</text>
<text x="419.50" y="527.64" font-size="9.0" text-anchor="middle" fill="#1a1a1a" textLength="14.20" lengthAdjust="spacingAndGlyphs">Days</text>
<text x="354.20" y="537.74" font-size="5.4" text-anchor="start" fill="#1a1a1a" textLength="26.10" lengthAdjust="spacingAndGlyphs">No. at Risk</text>
<text x="363.00" y="546.12" font-size="5.9" fill="#A80A2E" textLength="7.80" lengthAdjust="spacingAndGlyphs">MIF</text>
<text x="371.30" y="543.29" font-size="4.13" fill="#A80A2E">high</text>
<text x="364.50" y="552.72" font-size="5.9" fill="#213F7E" textLength="7.80" lengthAdjust="spacingAndGlyphs">MIF</text>
<text x="372.80" y="549.89" font-size="4.13" fill="#213F7E">low</text>
<text x="379.60" y="546.02" font-size="5.6" text-anchor="end" fill="#A80A2E">:</text>
<text x="379.60" y="552.62" font-size="5.6" text-anchor="end" fill="#213F7E">:</text>
<text x="389.80" y="545.98" font-size="5.5" text-anchor="middle" fill="#A80A2E" textLength="6.90" lengthAdjust="spacingAndGlyphs">21</text>
<text x="389.80" y="552.58" font-size="5.5" text-anchor="middle" fill="#213F7E" textLength="6.90" lengthAdjust="spacingAndGlyphs">23</text>
<text x="408.70" y="545.98" font-size="5.5" text-anchor="middle" fill="#A80A2E" textLength="3.45" lengthAdjust="spacingAndGlyphs">6</text>
<text x="408.70" y="552.58" font-size="5.5" text-anchor="middle" fill="#213F7E" textLength="3.45" lengthAdjust="spacingAndGlyphs">7</text>
<text x="428.30" y="545.98" font-size="5.5" text-anchor="middle" fill="#A80A2E" textLength="3.45" lengthAdjust="spacingAndGlyphs">2</text>
<text x="428.30" y="552.58" font-size="5.5" text-anchor="middle" fill="#213F7E" textLength="3.45" lengthAdjust="spacingAndGlyphs">3</text>
<text x="447.30" y="545.98" font-size="5.5" text-anchor="middle" fill="#A80A2E" textLength="3.45" lengthAdjust="spacingAndGlyphs">0</text>
<text x="447.30" y="552.58" font-size="5.5" text-anchor="middle" fill="#213F7E" textLength="3.45" lengthAdjust="spacingAndGlyphs">1</text>
<text x="7.50" y="575.60" font-size="11.4" text-anchor="start" fill="#000" textLength="10.38" lengthAdjust="spacingAndGlyphs" font-weight="bold">Q</text>
<line x1="50.20" y1="573.30" x2="50.20" y2="639.90" stroke="#151515" stroke-width="1.3"/>
<line x1="48.40" y1="639.40" x2="50.20" y2="639.40" stroke="#333" stroke-width="0.65"/>
<line x1="48.40" y1="637.38" x2="50.20" y2="637.38" stroke="#333" stroke-width="0.65"/>
<line x1="48.40" y1="635.36" x2="50.20" y2="635.36" stroke="#333" stroke-width="0.65"/>
<line x1="48.40" y1="633.34" x2="50.20" y2="633.34" stroke="#333" stroke-width="0.65"/>
<line x1="48.40" y1="631.32" x2="50.20" y2="631.32" stroke="#333" stroke-width="0.65"/>
<line x1="48.40" y1="629.30" x2="50.20" y2="629.30" stroke="#333" stroke-width="0.65"/>
<line x1="48.40" y1="627.28" x2="50.20" y2="627.28" stroke="#333" stroke-width="0.65"/>
<line x1="48.40" y1="625.26" x2="50.20" y2="625.26" stroke="#333" stroke-width="0.65"/>
<line x1="48.40" y1="623.24" x2="50.20" y2="623.24" stroke="#333" stroke-width="0.65"/>
<line x1="48.40" y1="621.22" x2="50.20" y2="621.22" stroke="#333" stroke-width="0.65"/>
<line x1="48.40" y1="619.20" x2="50.20" y2="619.20" stroke="#333" stroke-width="0.65"/>
<line x1="48.40" y1="617.18" x2="50.20" y2="617.18" stroke="#333" stroke-width="0.65"/>
<line x1="48.40" y1="615.16" x2="50.20" y2="615.16" stroke="#333" stroke-width="0.65"/>
<line x1="48.40" y1="613.14" x2="50.20" y2="613.14" stroke="#333" stroke-width="0.65"/>
<line x1="48.40" y1="611.12" x2="50.20" y2="611.12" stroke="#333" stroke-width="0.65"/>
<line x1="48.40" y1="609.10" x2="50.20" y2="609.10" stroke="#333" stroke-width="0.65"/>
<line x1="48.40" y1="607.08" x2="50.20" y2="607.08" stroke="#333" stroke-width="0.65"/>
<line x1="48.40" y1="605.06" x2="50.20" y2="605.06" stroke="#333" stroke-width="0.65"/>
<line x1="48.40" y1="603.04" x2="50.20" y2="603.04" stroke="#333" stroke-width="0.65"/>
<line x1="48.40" y1="601.02" x2="50.20" y2="601.02" stroke="#333" stroke-width="0.65"/>
<line x1="48.40" y1="599.00" x2="50.20" y2="599.00" stroke="#333" stroke-width="0.65"/>
<line x1="48.40" y1="596.98" x2="50.20" y2="596.98" stroke="#333" stroke-width="0.65"/>
<line x1="48.40" y1="594.96" x2="50.20" y2="594.96" stroke="#333" stroke-width="0.65"/>
<line x1="48.40" y1="592.94" x2="50.20" y2="592.94" stroke="#333" stroke-width="0.65"/>
<line x1="48.40" y1="590.92" x2="50.20" y2="590.92" stroke="#333" stroke-width="0.65"/>
<line x1="48.40" y1="588.90" x2="50.20" y2="588.90" stroke="#333" stroke-width="0.65"/>
<line x1="48.40" y1="586.88" x2="50.20" y2="586.88" stroke="#333" stroke-width="0.65"/>
<line x1="48.40" y1="584.86" x2="50.20" y2="584.86" stroke="#333" stroke-width="0.65"/>
<line x1="48.40" y1="582.84" x2="50.20" y2="582.84" stroke="#333" stroke-width="0.65"/>
<line x1="48.40" y1="580.82" x2="50.20" y2="580.82" stroke="#333" stroke-width="0.65"/>
<line x1="48.40" y1="578.80" x2="50.20" y2="578.80" stroke="#333" stroke-width="0.65"/>
<line x1="48.40" y1="576.78" x2="50.20" y2="576.78" stroke="#333" stroke-width="0.65"/>
<line x1="48.40" y1="574.76" x2="50.20" y2="574.76" stroke="#333" stroke-width="0.65"/>
<line x1="47.00" y1="581.10" x2="50.20" y2="581.10" stroke="#151515" stroke-width="1"/>
<text x="44.60" y="583.37" font-size="6.3" text-anchor="end" fill="#1a1a1a" textLength="9.90" lengthAdjust="spacingAndGlyphs">100</text>
<line x1="47.00" y1="610.25" x2="50.20" y2="610.25" stroke="#151515" stroke-width="1"/>
<text x="44.60" y="612.52" font-size="6.3" text-anchor="end" fill="#1a1a1a" textLength="6.60" lengthAdjust="spacingAndGlyphs">50</text>
<line x1="47.00" y1="639.40" x2="50.20" y2="639.40" stroke="#151515" stroke-width="1"/>
<text x="44.60" y="641.67" font-size="6.3" text-anchor="end" fill="#1a1a1a" textLength="3.30" lengthAdjust="spacingAndGlyphs">0</text>
<line x1="50.20" y1="639.40" x2="149.40" y2="639.40" stroke="#151515" stroke-width="1.3"/>
<line x1="50.20" y1="639.40" x2="50.20" y2="642.00" stroke="#151515" stroke-width="1"/>
<text x="50.20" y="652.57" font-size="6.3" text-anchor="middle" fill="#1a1a1a" textLength="3.30" lengthAdjust="spacingAndGlyphs">0</text>
<line x1="82.47" y1="639.40" x2="82.47" y2="642.00" stroke="#151515" stroke-width="1"/>
<text x="82.47" y="652.57" font-size="6.3" text-anchor="middle" fill="#1a1a1a" textLength="10.00" lengthAdjust="spacingAndGlyphs">500</text>
<line x1="114.73" y1="639.40" x2="114.73" y2="642.00" stroke="#151515" stroke-width="1"/>
<text x="114.73" y="652.57" font-size="6.3" text-anchor="middle" fill="#1a1a1a" textLength="15.50" lengthAdjust="spacingAndGlyphs">1,000</text>
<line x1="147.00" y1="639.40" x2="147.00" y2="642.00" stroke="#151515" stroke-width="1"/>
<text x="147.00" y="652.57" font-size="6.3" text-anchor="middle" fill="#1a1a1a" textLength="15.50" lengthAdjust="spacingAndGlyphs">1,500</text>
<line x1="50.20" y1="639.40" x2="50.20" y2="640.90" stroke="#151515" stroke-width="0.7"/>
<line x1="53.43" y1="639.40" x2="53.43" y2="640.90" stroke="#151515" stroke-width="0.7"/>
<line x1="56.65" y1="639.40" x2="56.65" y2="640.90" stroke="#151515" stroke-width="0.7"/>
<line x1="59.88" y1="639.40" x2="59.88" y2="640.90" stroke="#151515" stroke-width="0.7"/>
<line x1="63.11" y1="639.40" x2="63.11" y2="640.90" stroke="#151515" stroke-width="0.7"/>
<line x1="66.33" y1="639.40" x2="66.33" y2="640.90" stroke="#151515" stroke-width="0.7"/>
<line x1="69.56" y1="639.40" x2="69.56" y2="640.90" stroke="#151515" stroke-width="0.7"/>
<line x1="72.79" y1="639.40" x2="72.79" y2="640.90" stroke="#151515" stroke-width="0.7"/>
<line x1="76.01" y1="639.40" x2="76.01" y2="640.90" stroke="#151515" stroke-width="0.7"/>
<line x1="79.24" y1="639.40" x2="79.24" y2="640.90" stroke="#151515" stroke-width="0.7"/>
<line x1="82.47" y1="639.40" x2="82.47" y2="640.90" stroke="#151515" stroke-width="0.7"/>
<line x1="85.69" y1="639.40" x2="85.69" y2="640.90" stroke="#151515" stroke-width="0.7"/>
<line x1="88.92" y1="639.40" x2="88.92" y2="640.90" stroke="#151515" stroke-width="0.7"/>
<line x1="92.14" y1="639.40" x2="92.14" y2="640.90" stroke="#151515" stroke-width="0.7"/>
<line x1="95.37" y1="639.40" x2="95.37" y2="640.90" stroke="#151515" stroke-width="0.7"/>
<line x1="98.60" y1="639.40" x2="98.60" y2="640.90" stroke="#151515" stroke-width="0.7"/>
<line x1="101.82" y1="639.40" x2="101.82" y2="640.90" stroke="#151515" stroke-width="0.7"/>
<line x1="105.05" y1="639.40" x2="105.05" y2="640.90" stroke="#151515" stroke-width="0.7"/>
<line x1="108.28" y1="639.40" x2="108.28" y2="640.90" stroke="#151515" stroke-width="0.7"/>
<line x1="111.50" y1="639.40" x2="111.50" y2="640.90" stroke="#151515" stroke-width="0.7"/>
<line x1="114.73" y1="639.40" x2="114.73" y2="640.90" stroke="#151515" stroke-width="0.7"/>
<line x1="117.96" y1="639.40" x2="117.96" y2="640.90" stroke="#151515" stroke-width="0.7"/>
<line x1="121.18" y1="639.40" x2="121.18" y2="640.90" stroke="#151515" stroke-width="0.7"/>
<line x1="124.41" y1="639.40" x2="124.41" y2="640.90" stroke="#151515" stroke-width="0.7"/>
<line x1="127.64" y1="639.40" x2="127.64" y2="640.90" stroke="#151515" stroke-width="0.7"/>
<line x1="130.86" y1="639.40" x2="130.86" y2="640.90" stroke="#151515" stroke-width="0.7"/>
<line x1="134.09" y1="639.40" x2="134.09" y2="640.90" stroke="#151515" stroke-width="0.7"/>
<line x1="137.32" y1="639.40" x2="137.32" y2="640.90" stroke="#151515" stroke-width="0.7"/>
<line x1="140.54" y1="639.40" x2="140.54" y2="640.90" stroke="#151515" stroke-width="0.7"/>
<line x1="143.77" y1="639.40" x2="143.77" y2="640.90" stroke="#151515" stroke-width="0.7"/>
<line x1="147.00" y1="639.40" x2="147.00" y2="640.90" stroke="#151515" stroke-width="0.7"/>
<text x="0" y="3.17" font-size="8.8" text-anchor="middle" fill="#1a1a1a" textLength="46.00" lengthAdjust="spacingAndGlyphs" transform="translate(24.20 606.30) rotate(-90)">Overall survival</text>
<text x="59.70" y="582.72" font-size="5.6" text-anchor="start" fill="#1a1a1a" textLength="43.00" lengthAdjust="spacingAndGlyphs">Logrank p= 2e-08</text>
<line x1="102.30" y1="592.40" x2="110.10" y2="592.40" stroke="#A80A2E" stroke-width="0.9"/>
<circle cx="106.20" cy="592.40" r="1.6" fill="#A80A2E"/>
<text x="113.00" y="594.63" font-size="6.2" fill="#A80A2E" textLength="8.40" lengthAdjust="spacingAndGlyphs">MIF</text>
<text x="121.90" y="591.66" font-size="4.34" fill="#A80A2E">high</text>
<line x1="102.30" y1="601.50" x2="110.10" y2="601.50" stroke="#213F7E" stroke-width="0.9"/>
<circle cx="106.20" cy="601.50" r="1.6" fill="#213F7E"/>
<text x="113.00" y="603.73" font-size="6.2" fill="#213F7E" textLength="8.40" lengthAdjust="spacingAndGlyphs">MIF</text>
<text x="121.90" y="600.76" font-size="4.34" fill="#213F7E">low</text>
<polyline points="50.20,581.10 55.50,581.90 60.60,586.90 67.30,593.70 74.00,600.00 80.00,603.50 84.10,605.40 90.00,607.00 94.20,608.80 98.00,611.50 101.00,612.20 112.20,612.30 112.70,615.50 122.50,615.50" fill="none" stroke="#213F7E" stroke-width="1.9" stroke-linejoin="round" stroke-linecap="square"/>
<path d="M48.79 579.60h2.7v2.7h-2.7zM51.98 580.10h2.7v2.7h-2.7zM54.10 580.34h2.7v2.7h-2.7zM55.66 582.11h2.7v2.7h-2.7zM57.23 583.32h2.7v2.7h-2.7zM59.05 584.94h2.7v2.7h-2.7zM60.52 587.10h2.7v2.7h-2.7zM62.32 588.54h2.7v2.7h-2.7zM64.30 590.54h2.7v2.7h-2.7zM66.22 592.64h2.7v2.7h-2.7zM67.39 593.98h2.7v2.7h-2.7zM69.33 595.98h2.7v2.7h-2.7zM71.62 597.65h2.7v2.7h-2.7zM72.88 598.84h2.7v2.7h-2.7zM75.78 600.45h2.7v2.7h-2.7zM77.24 601.31h2.7v2.7h-2.7zM79.49 602.53h2.7v2.7h-2.7zM81.93 603.75h2.7v2.7h-2.7zM83.49 604.27h2.7v2.7h-2.7zM86.01 604.68h2.7v2.7h-2.7zM88.20 605.52h2.7v2.7h-2.7zM90.79 606.40h2.7v2.7h-2.7zM92.40 607.51h2.7v2.7h-2.7zM94.42 608.40h2.7v2.7h-2.7zM95.78 609.58h2.7v2.7h-2.7zM98.12 610.74h2.7v2.7h-2.7zM101.04 610.66h2.7v2.7h-2.7zM103.71 610.81h2.7v2.7h-2.7zM106.67 611.13h2.7v2.7h-2.7zM109.53 610.72h2.7v2.7h-2.7zM111.04 612.57h2.7v2.7h-2.7zM112.42 613.92h2.7v2.7h-2.7zM115.43 614.09h2.7v2.7h-2.7zM118.15 614.10h2.7v2.7h-2.7zM120.85 614.34h2.7v2.7h-2.7z" fill="#213F7E"/>
<polyline points="92.60,637.80 106.00,637.80" fill="none" stroke="#A80A2E" stroke-width="0.9"/>
<circle cx="106.00" cy="637.80" r="1.3" fill="#A80A2E"/>
<polyline points="50.20,581.10 53.80,588.60 57.20,593.70 60.60,600.40 64.00,604.00 67.30,607.10 70.50,611.00 74.00,615.50 77.50,620.00 80.80,624.00 84.00,627.00 87.50,629.00 90.90,632.40 92.60,637.80" fill="none" stroke="#A80A2E" stroke-width="1.7" stroke-linejoin="round" stroke-linecap="square"/>
<path d="M49.13 579.91h2.4v2.4h-2.4zM50.54 582.54h2.4v2.4h-2.4zM51.71 585.56h2.4v2.4h-2.4zM52.70 587.79h2.4v2.4h-2.4zM54.52 590.27h2.4v2.4h-2.4zM55.63 591.62h2.4v2.4h-2.4zM56.74 593.51h2.4v2.4h-2.4zM57.30 595.21h2.4v2.4h-2.4zM58.73 598.13h2.4v2.4h-2.4zM59.90 599.89h2.4v2.4h-2.4zM61.26 601.08h2.4v2.4h-2.4zM63.23 603.16h2.4v2.4h-2.4zM65.14 604.93h2.4v2.4h-2.4zM66.85 606.91h2.4v2.4h-2.4zM68.33 608.24h2.4v2.4h-2.4zM70.37 610.98h2.4v2.4h-2.4zM71.58 612.89h2.4v2.4h-2.4zM73.05 614.63h2.4v2.4h-2.4zM75.05 617.05h2.4v2.4h-2.4zM76.70 619.23h2.4v2.4h-2.4zM78.14 620.58h2.4v2.4h-2.4zM79.81 622.90h2.4v2.4h-2.4zM81.55 624.60h2.4v2.4h-2.4zM83.78 626.30h2.4v2.4h-2.4zM85.64 627.38h2.4v2.4h-2.4zM87.84 629.54h2.4v2.4h-2.4zM89.46 630.99h2.4v2.4h-2.4zM90.31 633.69h2.4v2.4h-2.4z" fill="#A80A2E"/>
<text x="87.50" y="616.10" font-size="6.1" text-anchor="middle" fill="#213F7E">112</text>
<text x="68.90" y="623.10" font-size="6.1" text-anchor="middle" fill="#A80A2E">39</text>
<text x="99.80" y="664.94" font-size="9.0" text-anchor="middle" fill="#1a1a1a" textLength="14.20" lengthAdjust="spacingAndGlyphs">Days</text>
<text x="32.80" y="674.44" font-size="5.4" text-anchor="start" fill="#1a1a1a" textLength="26.10" lengthAdjust="spacingAndGlyphs">No. at Risk</text>
<text x="42.60" y="683.42" font-size="5.9" fill="#A80A2E" textLength="7.80" lengthAdjust="spacingAndGlyphs">MIF</text>
<text x="50.90" y="680.59" font-size="4.13" fill="#A80A2E">high</text>
<text x="44.10" y="689.92" font-size="5.9" fill="#213F7E" textLength="7.80" lengthAdjust="spacingAndGlyphs">MIF</text>
<text x="52.40" y="687.09" font-size="4.13" fill="#213F7E">low</text>
<text x="59.20" y="683.32" font-size="5.6" text-anchor="end" fill="#A80A2E">:</text>
<text x="59.20" y="689.82" font-size="5.6" text-anchor="end" fill="#213F7E">:</text>
<text x="82.50" y="683.28" font-size="5.5" text-anchor="middle" fill="#A80A2E" textLength="3.45" lengthAdjust="spacingAndGlyphs">9</text>
<text x="82.50" y="689.78" font-size="5.5" text-anchor="middle" fill="#213F7E" textLength="6.90" lengthAdjust="spacingAndGlyphs">61</text>
<text x="114.50" y="683.28" font-size="5.5" text-anchor="middle" fill="#A80A2E" textLength="3.45" lengthAdjust="spacingAndGlyphs">1</text>
<text x="114.50" y="689.78" font-size="5.5" text-anchor="middle" fill="#213F7E" textLength="3.45" lengthAdjust="spacingAndGlyphs">8</text>
<text x="171.40" y="575.60" font-size="11.4" text-anchor="start" fill="#000" textLength="9.63" lengthAdjust="spacingAndGlyphs" font-weight="bold">R</text>
<line x1="211.20" y1="573.30" x2="211.20" y2="639.90" stroke="#151515" stroke-width="1.3"/>
<line x1="209.40" y1="639.40" x2="211.20" y2="639.40" stroke="#333" stroke-width="0.65"/>
<line x1="209.40" y1="637.38" x2="211.20" y2="637.38" stroke="#333" stroke-width="0.65"/>
<line x1="209.40" y1="635.36" x2="211.20" y2="635.36" stroke="#333" stroke-width="0.65"/>
<line x1="209.40" y1="633.34" x2="211.20" y2="633.34" stroke="#333" stroke-width="0.65"/>
<line x1="209.40" y1="631.32" x2="211.20" y2="631.32" stroke="#333" stroke-width="0.65"/>
<line x1="209.40" y1="629.30" x2="211.20" y2="629.30" stroke="#333" stroke-width="0.65"/>
<line x1="209.40" y1="627.28" x2="211.20" y2="627.28" stroke="#333" stroke-width="0.65"/>
<line x1="209.40" y1="625.26" x2="211.20" y2="625.26" stroke="#333" stroke-width="0.65"/>
<line x1="209.40" y1="623.24" x2="211.20" y2="623.24" stroke="#333" stroke-width="0.65"/>
<line x1="209.40" y1="621.22" x2="211.20" y2="621.22" stroke="#333" stroke-width="0.65"/>
<line x1="209.40" y1="619.20" x2="211.20" y2="619.20" stroke="#333" stroke-width="0.65"/>
<line x1="209.40" y1="617.18" x2="211.20" y2="617.18" stroke="#333" stroke-width="0.65"/>
<line x1="209.40" y1="615.16" x2="211.20" y2="615.16" stroke="#333" stroke-width="0.65"/>
<line x1="209.40" y1="613.14" x2="211.20" y2="613.14" stroke="#333" stroke-width="0.65"/>
<line x1="209.40" y1="611.12" x2="211.20" y2="611.12" stroke="#333" stroke-width="0.65"/>
<line x1="209.40" y1="609.10" x2="211.20" y2="609.10" stroke="#333" stroke-width="0.65"/>
<line x1="209.40" y1="607.08" x2="211.20" y2="607.08" stroke="#333" stroke-width="0.65"/>
<line x1="209.40" y1="605.06" x2="211.20" y2="605.06" stroke="#333" stroke-width="0.65"/>
<line x1="209.40" y1="603.04" x2="211.20" y2="603.04" stroke="#333" stroke-width="0.65"/>
<line x1="209.40" y1="601.02" x2="211.20" y2="601.02" stroke="#333" stroke-width="0.65"/>
<line x1="209.40" y1="599.00" x2="211.20" y2="599.00" stroke="#333" stroke-width="0.65"/>
<line x1="209.40" y1="596.98" x2="211.20" y2="596.98" stroke="#333" stroke-width="0.65"/>
<line x1="209.40" y1="594.96" x2="211.20" y2="594.96" stroke="#333" stroke-width="0.65"/>
<line x1="209.40" y1="592.94" x2="211.20" y2="592.94" stroke="#333" stroke-width="0.65"/>
<line x1="209.40" y1="590.92" x2="211.20" y2="590.92" stroke="#333" stroke-width="0.65"/>
<line x1="209.40" y1="588.90" x2="211.20" y2="588.90" stroke="#333" stroke-width="0.65"/>
<line x1="209.40" y1="586.88" x2="211.20" y2="586.88" stroke="#333" stroke-width="0.65"/>
<line x1="209.40" y1="584.86" x2="211.20" y2="584.86" stroke="#333" stroke-width="0.65"/>
<line x1="209.40" y1="582.84" x2="211.20" y2="582.84" stroke="#333" stroke-width="0.65"/>
<line x1="209.40" y1="580.82" x2="211.20" y2="580.82" stroke="#333" stroke-width="0.65"/>
<line x1="209.40" y1="578.80" x2="211.20" y2="578.80" stroke="#333" stroke-width="0.65"/>
<line x1="209.40" y1="576.78" x2="211.20" y2="576.78" stroke="#333" stroke-width="0.65"/>
<line x1="209.40" y1="574.76" x2="211.20" y2="574.76" stroke="#333" stroke-width="0.65"/>
<line x1="208.00" y1="581.10" x2="211.20" y2="581.10" stroke="#151515" stroke-width="1"/>
<text x="205.60" y="583.37" font-size="6.3" text-anchor="end" fill="#1a1a1a" textLength="9.90" lengthAdjust="spacingAndGlyphs">100</text>
<line x1="208.00" y1="610.25" x2="211.20" y2="610.25" stroke="#151515" stroke-width="1"/>
<text x="205.60" y="612.52" font-size="6.3" text-anchor="end" fill="#1a1a1a" textLength="6.60" lengthAdjust="spacingAndGlyphs">50</text>
<line x1="208.00" y1="639.40" x2="211.20" y2="639.40" stroke="#151515" stroke-width="1"/>
<text x="205.60" y="641.67" font-size="6.3" text-anchor="end" fill="#1a1a1a" textLength="3.30" lengthAdjust="spacingAndGlyphs">0</text>
<line x1="211.20" y1="639.40" x2="310.70" y2="639.40" stroke="#151515" stroke-width="1.3"/>
<line x1="211.20" y1="639.40" x2="211.20" y2="642.00" stroke="#151515" stroke-width="1"/>
<text x="211.20" y="652.57" font-size="6.3" text-anchor="middle" fill="#1a1a1a" textLength="3.30" lengthAdjust="spacingAndGlyphs">0</text>
<line x1="230.52" y1="639.40" x2="230.52" y2="642.00" stroke="#151515" stroke-width="1"/>
<text x="230.52" y="652.57" font-size="6.3" text-anchor="middle" fill="#1a1a1a" textLength="10.00" lengthAdjust="spacingAndGlyphs">200</text>
<line x1="249.84" y1="639.40" x2="249.84" y2="642.00" stroke="#151515" stroke-width="1"/>
<text x="249.84" y="652.57" font-size="6.3" text-anchor="middle" fill="#1a1a1a" textLength="10.00" lengthAdjust="spacingAndGlyphs">400</text>
<line x1="269.16" y1="639.40" x2="269.16" y2="642.00" stroke="#151515" stroke-width="1"/>
<text x="269.16" y="652.57" font-size="6.3" text-anchor="middle" fill="#1a1a1a" textLength="10.00" lengthAdjust="spacingAndGlyphs">600</text>
<line x1="288.48" y1="639.40" x2="288.48" y2="642.00" stroke="#151515" stroke-width="1"/>
<text x="288.48" y="652.57" font-size="6.3" text-anchor="middle" fill="#1a1a1a" textLength="10.00" lengthAdjust="spacingAndGlyphs">800</text>
<line x1="307.80" y1="639.40" x2="307.80" y2="642.00" stroke="#151515" stroke-width="1"/>
<text x="307.80" y="652.57" font-size="6.3" text-anchor="middle" fill="#1a1a1a" textLength="15.50" lengthAdjust="spacingAndGlyphs">1,000</text>
<text x="0" y="3.17" font-size="8.8" text-anchor="middle" fill="#1a1a1a" textLength="57.00" lengthAdjust="spacingAndGlyphs" transform="translate(185.90 605.80) rotate(-90)">Proportion of cases</text>
<text x="221.60" y="582.82" font-size="5.6" text-anchor="start" fill="#1a1a1a" textLength="42.10" lengthAdjust="spacingAndGlyphs">Logrank p= 0.018</text>
<line x1="263.70" y1="592.40" x2="271.40" y2="592.40" stroke="#A80A2E" stroke-width="0.9"/>
<circle cx="267.55" cy="592.40" r="1.6" fill="#A80A2E"/>
<text x="274.40" y="594.63" font-size="6.2" fill="#A80A2E" textLength="13.80" lengthAdjust="spacingAndGlyphs">SOD1</text>
<text x="288.70" y="591.66" font-size="4.34" fill="#A80A2E">high</text>
<line x1="263.70" y1="601.50" x2="271.40" y2="601.50" stroke="#213F7E" stroke-width="0.9"/>
<circle cx="267.55" cy="601.50" r="1.6" fill="#213F7E"/>
<text x="274.40" y="603.73" font-size="6.2" fill="#213F7E" textLength="13.80" lengthAdjust="spacingAndGlyphs">SOD1</text>
<text x="288.70" y="600.76" font-size="4.34" fill="#213F7E">low</text>
<polyline points="276.30,634.70 288.10,635.50 289.10,639.00" fill="none" stroke="#213F7E" stroke-width="0.9"/>
<circle cx="288.10" cy="635.50" r="1.3" fill="#213F7E"/>
<circle cx="289.10" cy="639.00" r="1.3" fill="#213F7E"/>
<polyline points="211.20,581.10 214.10,581.90 215.90,586.00 217.40,592.00 220.80,600.40 225.90,605.40 229.00,608.50 232.60,612.20 235.00,616.50 237.60,620.60 240.00,624.00 242.70,627.30 249.40,629.70 262.90,629.90 264.60,632.40 270.00,633.50 276.30,634.70" fill="none" stroke="#213F7E" stroke-width="1.9" stroke-linejoin="round" stroke-linecap="square"/>
<path d="M210.09 579.93h2.7v2.7h-2.7zM212.52 580.21h2.7v2.7h-2.7zM213.87 582.64h2.7v2.7h-2.7zM214.67 584.85h2.7v2.7h-2.7zM215.16 587.61h2.7v2.7h-2.7zM215.91 590.34h2.7v2.7h-2.7zM217.11 592.96h2.7v2.7h-2.7zM217.93 595.15h2.7v2.7h-2.7zM218.99 598.54h2.7v2.7h-2.7zM220.75 600.45h2.7v2.7h-2.7zM222.45 602.44h2.7v2.7h-2.7zM224.29 603.92h2.7v2.7h-2.7zM226.43 605.84h2.7v2.7h-2.7zM228.12 607.61h2.7v2.7h-2.7zM229.80 609.36h2.7v2.7h-2.7zM231.06 610.95h2.7v2.7h-2.7zM232.57 612.94h2.7v2.7h-2.7zM233.73 615.63h2.7v2.7h-2.7zM235.20 617.37h2.7v2.7h-2.7zM236.46 619.84h2.7v2.7h-2.7zM237.92 621.98h2.7v2.7h-2.7zM239.57 623.95h2.7v2.7h-2.7zM241.60 625.86h2.7v2.7h-2.7zM243.29 626.77h2.7v2.7h-2.7zM245.64 627.23h2.7v2.7h-2.7zM248.24 628.23h2.7v2.7h-2.7zM250.22 628.19h2.7v2.7h-2.7zM253.22 628.35h2.7v2.7h-2.7zM255.87 628.71h2.7v2.7h-2.7zM258.57 628.62h2.7v2.7h-2.7zM261.52 629.02h2.7v2.7h-2.7zM263.21 630.55h2.7v2.7h-2.7zM265.99 631.66h2.7v2.7h-2.7zM269.03 632.37h2.7v2.7h-2.7zM271.74 632.61h2.7v2.7h-2.7zM274.12 633.37h2.7v2.7h-2.7z" fill="#213F7E"/>
<polyline points="247.70,635.70 255.00,637.50 269.60,639.10" fill="none" stroke="#A80A2E" stroke-width="0.9"/>
<circle cx="255.00" cy="637.50" r="1.3" fill="#A80A2E"/>
<circle cx="269.60" cy="639.10" r="1.3" fill="#A80A2E"/>
<polyline points="211.20,581.10 214.10,583.60 215.80,592.00 217.50,598.00 219.10,603.80 220.80,613.90 222.50,620.60 227.50,625.60 232.60,629.00 242.70,631.70 247.70,635.70" fill="none" stroke="#A80A2E" stroke-width="1.7" stroke-linejoin="round" stroke-linecap="square"/>
<path d="M210.08 579.94h2.4v2.4h-2.4zM212.37 581.93h2.4v2.4h-2.4zM213.21 584.13h2.4v2.4h-2.4zM214.05 586.92h2.4v2.4h-2.4zM214.06 589.05h2.4v2.4h-2.4zM215.11 592.15h2.4v2.4h-2.4zM215.91 595.12h2.4v2.4h-2.4zM216.41 597.44h2.4v2.4h-2.4zM216.73 599.25h2.4v2.4h-2.4zM217.57 602.03h2.4v2.4h-2.4zM218.37 603.92h2.4v2.4h-2.4zM218.73 606.18h2.4v2.4h-2.4zM218.94 609.00h2.4v2.4h-2.4zM219.69 611.69h2.4v2.4h-2.4zM220.14 614.38h2.4v2.4h-2.4zM220.65 617.03h2.4v2.4h-2.4zM221.48 619.35h2.4v2.4h-2.4zM222.54 620.94h2.4v2.4h-2.4zM223.95 622.08h2.4v2.4h-2.4zM226.07 623.90h2.4v2.4h-2.4zM228.37 625.72h2.4v2.4h-2.4zM230.40 627.18h2.4v2.4h-2.4zM233.22 628.25h2.4v2.4h-2.4zM235.97 629.27h2.4v2.4h-2.4zM238.00 629.74h2.4v2.4h-2.4zM240.69 630.33h2.4v2.4h-2.4zM242.13 630.99h2.4v2.4h-2.4zM244.58 632.61h2.4v2.4h-2.4zM246.56 634.13h2.4v2.4h-2.4z" fill="#A80A2E"/>
<text x="239.20" y="614.20" font-size="6.1" text-anchor="middle" fill="#213F7E">127</text>
<text x="221.10" y="631.10" font-size="6.1" text-anchor="middle" fill="#A80A2E">43</text>
<text x="260.60" y="664.94" font-size="9.0" text-anchor="middle" fill="#1a1a1a" textLength="14.20" lengthAdjust="spacingAndGlyphs">Days</text>
<text x="194.60" y="674.44" font-size="5.4" text-anchor="start" fill="#1a1a1a" textLength="26.10" lengthAdjust="spacingAndGlyphs">No. at Risk</text>
<text x="198.50" y="683.42" font-size="5.9" fill="#A80A2E" textLength="13.80" lengthAdjust="spacingAndGlyphs">SOD1</text>
<text x="212.80" y="680.59" font-size="4.13" fill="#A80A2E">high</text>
<text x="200.00" y="689.92" font-size="5.9" fill="#213F7E" textLength="13.80" lengthAdjust="spacingAndGlyphs">SOD1</text>
<text x="214.30" y="687.09" font-size="4.13" fill="#213F7E">low</text>
<text x="221.30" y="683.32" font-size="5.6" text-anchor="end" fill="#A80A2E">:</text>
<text x="221.30" y="689.82" font-size="5.6" text-anchor="end" fill="#213F7E">:</text>
<text x="230.60" y="683.28" font-size="5.5" text-anchor="middle" fill="#A80A2E" textLength="3.45" lengthAdjust="spacingAndGlyphs">8</text>
<text x="230.60" y="689.78" font-size="5.5" text-anchor="middle" fill="#213F7E" textLength="6.90" lengthAdjust="spacingAndGlyphs">37</text>
<text x="250.20" y="683.28" font-size="5.5" text-anchor="middle" fill="#A80A2E" textLength="3.45" lengthAdjust="spacingAndGlyphs">2</text>
<text x="250.20" y="689.78" font-size="5.5" text-anchor="middle" fill="#213F7E" textLength="6.90" lengthAdjust="spacingAndGlyphs">12</text>
<text x="269.80" y="683.28" font-size="5.5" text-anchor="middle" fill="#A80A2E" textLength="3.45" lengthAdjust="spacingAndGlyphs">2</text>
<text x="269.80" y="689.78" font-size="5.5" text-anchor="middle" fill="#213F7E" textLength="3.45" lengthAdjust="spacingAndGlyphs">4</text>
<text x="288.70" y="683.28" font-size="5.5" text-anchor="middle" fill="#A80A2E" textLength="3.45" lengthAdjust="spacingAndGlyphs">0</text>
<text x="288.70" y="689.78" font-size="5.5" text-anchor="middle" fill="#213F7E" textLength="3.45" lengthAdjust="spacingAndGlyphs">1</text>
<text x="330.50" y="575.60" font-size="11.4" text-anchor="start" fill="#000" textLength="8.90" lengthAdjust="spacingAndGlyphs" font-weight="bold">S</text>
<line x1="369.80" y1="573.30" x2="369.80" y2="639.90" stroke="#151515" stroke-width="1.3"/>
<line x1="368.00" y1="639.40" x2="369.80" y2="639.40" stroke="#333" stroke-width="0.65"/>
<line x1="368.00" y1="637.38" x2="369.80" y2="637.38" stroke="#333" stroke-width="0.65"/>
<line x1="368.00" y1="635.36" x2="369.80" y2="635.36" stroke="#333" stroke-width="0.65"/>
<line x1="368.00" y1="633.34" x2="369.80" y2="633.34" stroke="#333" stroke-width="0.65"/>
<line x1="368.00" y1="631.32" x2="369.80" y2="631.32" stroke="#333" stroke-width="0.65"/>
<line x1="368.00" y1="629.30" x2="369.80" y2="629.30" stroke="#333" stroke-width="0.65"/>
<line x1="368.00" y1="627.28" x2="369.80" y2="627.28" stroke="#333" stroke-width="0.65"/>
<line x1="368.00" y1="625.26" x2="369.80" y2="625.26" stroke="#333" stroke-width="0.65"/>
<line x1="368.00" y1="623.24" x2="369.80" y2="623.24" stroke="#333" stroke-width="0.65"/>
<line x1="368.00" y1="621.22" x2="369.80" y2="621.22" stroke="#333" stroke-width="0.65"/>
<line x1="368.00" y1="619.20" x2="369.80" y2="619.20" stroke="#333" stroke-width="0.65"/>
<line x1="368.00" y1="617.18" x2="369.80" y2="617.18" stroke="#333" stroke-width="0.65"/>
<line x1="368.00" y1="615.16" x2="369.80" y2="615.16" stroke="#333" stroke-width="0.65"/>
<line x1="368.00" y1="613.14" x2="369.80" y2="613.14" stroke="#333" stroke-width="0.65"/>
<line x1="368.00" y1="611.12" x2="369.80" y2="611.12" stroke="#333" stroke-width="0.65"/>
<line x1="368.00" y1="609.10" x2="369.80" y2="609.10" stroke="#333" stroke-width="0.65"/>
<line x1="368.00" y1="607.08" x2="369.80" y2="607.08" stroke="#333" stroke-width="0.65"/>
<line x1="368.00" y1="605.06" x2="369.80" y2="605.06" stroke="#333" stroke-width="0.65"/>
<line x1="368.00" y1="603.04" x2="369.80" y2="603.04" stroke="#333" stroke-width="0.65"/>
<line x1="368.00" y1="601.02" x2="369.80" y2="601.02" stroke="#333" stroke-width="0.65"/>
<line x1="368.00" y1="599.00" x2="369.80" y2="599.00" stroke="#333" stroke-width="0.65"/>
<line x1="368.00" y1="596.98" x2="369.80" y2="596.98" stroke="#333" stroke-width="0.65"/>
<line x1="368.00" y1="594.96" x2="369.80" y2="594.96" stroke="#333" stroke-width="0.65"/>
<line x1="368.00" y1="592.94" x2="369.80" y2="592.94" stroke="#333" stroke-width="0.65"/>
<line x1="368.00" y1="590.92" x2="369.80" y2="590.92" stroke="#333" stroke-width="0.65"/>
<line x1="368.00" y1="588.90" x2="369.80" y2="588.90" stroke="#333" stroke-width="0.65"/>
<line x1="368.00" y1="586.88" x2="369.80" y2="586.88" stroke="#333" stroke-width="0.65"/>
<line x1="368.00" y1="584.86" x2="369.80" y2="584.86" stroke="#333" stroke-width="0.65"/>
<line x1="368.00" y1="582.84" x2="369.80" y2="582.84" stroke="#333" stroke-width="0.65"/>
<line x1="368.00" y1="580.82" x2="369.80" y2="580.82" stroke="#333" stroke-width="0.65"/>
<line x1="368.00" y1="578.80" x2="369.80" y2="578.80" stroke="#333" stroke-width="0.65"/>
<line x1="368.00" y1="576.78" x2="369.80" y2="576.78" stroke="#333" stroke-width="0.65"/>
<line x1="368.00" y1="574.76" x2="369.80" y2="574.76" stroke="#333" stroke-width="0.65"/>
<line x1="366.60" y1="581.10" x2="369.80" y2="581.10" stroke="#151515" stroke-width="1"/>
<text x="364.20" y="583.37" font-size="6.3" text-anchor="end" fill="#1a1a1a" textLength="9.90" lengthAdjust="spacingAndGlyphs">100</text>
<line x1="366.60" y1="610.25" x2="369.80" y2="610.25" stroke="#151515" stroke-width="1"/>
<text x="364.20" y="612.52" font-size="6.3" text-anchor="end" fill="#1a1a1a" textLength="6.60" lengthAdjust="spacingAndGlyphs">50</text>
<line x1="366.60" y1="639.40" x2="369.80" y2="639.40" stroke="#151515" stroke-width="1"/>
<text x="364.20" y="641.67" font-size="6.3" text-anchor="end" fill="#1a1a1a" textLength="3.30" lengthAdjust="spacingAndGlyphs">0</text>
<line x1="369.80" y1="639.40" x2="468.30" y2="639.40" stroke="#151515" stroke-width="1.3"/>
<line x1="369.80" y1="639.40" x2="369.80" y2="642.00" stroke="#151515" stroke-width="1"/>
<text x="369.80" y="652.57" font-size="6.3" text-anchor="middle" fill="#1a1a1a" textLength="3.30" lengthAdjust="spacingAndGlyphs">0</text>
<line x1="401.76" y1="639.40" x2="401.76" y2="642.00" stroke="#151515" stroke-width="1"/>
<text x="401.76" y="652.57" font-size="6.3" text-anchor="middle" fill="#1a1a1a" textLength="10.00" lengthAdjust="spacingAndGlyphs">500</text>
<line x1="433.73" y1="639.40" x2="433.73" y2="642.00" stroke="#151515" stroke-width="1"/>
<text x="433.73" y="652.57" font-size="6.3" text-anchor="middle" fill="#1a1a1a" textLength="15.50" lengthAdjust="spacingAndGlyphs">1,000</text>
<line x1="465.69" y1="639.40" x2="465.69" y2="642.00" stroke="#151515" stroke-width="1"/>
<text x="465.69" y="652.57" font-size="6.3" text-anchor="middle" fill="#1a1a1a" textLength="15.50" lengthAdjust="spacingAndGlyphs">1,500</text>
<line x1="369.80" y1="639.40" x2="369.80" y2="640.90" stroke="#151515" stroke-width="0.7"/>
<line x1="373.00" y1="639.40" x2="373.00" y2="640.90" stroke="#151515" stroke-width="0.7"/>
<line x1="376.19" y1="639.40" x2="376.19" y2="640.90" stroke="#151515" stroke-width="0.7"/>
<line x1="379.39" y1="639.40" x2="379.39" y2="640.90" stroke="#151515" stroke-width="0.7"/>
<line x1="382.59" y1="639.40" x2="382.59" y2="640.90" stroke="#151515" stroke-width="0.7"/>
<line x1="385.78" y1="639.40" x2="385.78" y2="640.90" stroke="#151515" stroke-width="0.7"/>
<line x1="388.98" y1="639.40" x2="388.98" y2="640.90" stroke="#151515" stroke-width="0.7"/>
<line x1="392.18" y1="639.40" x2="392.18" y2="640.90" stroke="#151515" stroke-width="0.7"/>
<line x1="395.37" y1="639.40" x2="395.37" y2="640.90" stroke="#151515" stroke-width="0.7"/>
<line x1="398.57" y1="639.40" x2="398.57" y2="640.90" stroke="#151515" stroke-width="0.7"/>
<line x1="401.76" y1="639.40" x2="401.76" y2="640.90" stroke="#151515" stroke-width="0.7"/>
<line x1="404.96" y1="639.40" x2="404.96" y2="640.90" stroke="#151515" stroke-width="0.7"/>
<line x1="408.16" y1="639.40" x2="408.16" y2="640.90" stroke="#151515" stroke-width="0.7"/>
<line x1="411.35" y1="639.40" x2="411.35" y2="640.90" stroke="#151515" stroke-width="0.7"/>
<line x1="414.55" y1="639.40" x2="414.55" y2="640.90" stroke="#151515" stroke-width="0.7"/>
<line x1="417.75" y1="639.40" x2="417.75" y2="640.90" stroke="#151515" stroke-width="0.7"/>
<line x1="420.94" y1="639.40" x2="420.94" y2="640.90" stroke="#151515" stroke-width="0.7"/>
<line x1="424.14" y1="639.40" x2="424.14" y2="640.90" stroke="#151515" stroke-width="0.7"/>
<line x1="427.34" y1="639.40" x2="427.34" y2="640.90" stroke="#151515" stroke-width="0.7"/>
<line x1="430.53" y1="639.40" x2="430.53" y2="640.90" stroke="#151515" stroke-width="0.7"/>
<line x1="433.73" y1="639.40" x2="433.73" y2="640.90" stroke="#151515" stroke-width="0.7"/>
<line x1="436.93" y1="639.40" x2="436.93" y2="640.90" stroke="#151515" stroke-width="0.7"/>
<line x1="440.12" y1="639.40" x2="440.12" y2="640.90" stroke="#151515" stroke-width="0.7"/>
<line x1="443.32" y1="639.40" x2="443.32" y2="640.90" stroke="#151515" stroke-width="0.7"/>
<line x1="446.52" y1="639.40" x2="446.52" y2="640.90" stroke="#151515" stroke-width="0.7"/>
<line x1="449.71" y1="639.40" x2="449.71" y2="640.90" stroke="#151515" stroke-width="0.7"/>
<line x1="452.91" y1="639.40" x2="452.91" y2="640.90" stroke="#151515" stroke-width="0.7"/>
<line x1="456.11" y1="639.40" x2="456.11" y2="640.90" stroke="#151515" stroke-width="0.7"/>
<line x1="459.30" y1="639.40" x2="459.30" y2="640.90" stroke="#151515" stroke-width="0.7"/>
<line x1="462.50" y1="639.40" x2="462.50" y2="640.90" stroke="#151515" stroke-width="0.7"/>
<line x1="465.69" y1="639.40" x2="465.69" y2="640.90" stroke="#151515" stroke-width="0.7"/>
<text x="0" y="3.17" font-size="8.8" text-anchor="middle" fill="#1a1a1a" textLength="46.00" lengthAdjust="spacingAndGlyphs" transform="translate(344.80 606.00) rotate(-90)">Overall survival</text>
<text x="379.80" y="582.82" font-size="5.6" text-anchor="start" fill="#1a1a1a" textLength="43.30" lengthAdjust="spacingAndGlyphs">Logrank p= 3e-06</text>
<line x1="422.20" y1="592.40" x2="430.00" y2="592.40" stroke="#A80A2E" stroke-width="0.9"/>
<circle cx="426.10" cy="592.40" r="1.6" fill="#A80A2E"/>
<text x="432.80" y="594.63" font-size="6.2" fill="#A80A2E" textLength="13.80" lengthAdjust="spacingAndGlyphs">SOD1</text>
<text x="447.10" y="591.66" font-size="4.34" fill="#A80A2E">high</text>
<line x1="422.20" y1="601.50" x2="430.00" y2="601.50" stroke="#213F7E" stroke-width="0.9"/>
<circle cx="426.10" cy="601.50" r="1.6" fill="#213F7E"/>
<text x="432.80" y="603.73" font-size="6.2" fill="#213F7E" textLength="13.80" lengthAdjust="spacingAndGlyphs">SOD1</text>
<text x="447.10" y="600.76" font-size="4.34" fill="#213F7E">low</text>
<polyline points="369.80,581.10 374.60,581.60 377.20,586.00 383.30,588.60 391.90,592.90 400.60,597.20 407.50,600.70 411.00,602.40 413.60,606.70 416.10,611.60 421.30,613.70 430.20,614.00 430.20,619.70 431.90,619.70 431.90,624.90 442.30,624.90" fill="none" stroke="#213F7E" stroke-width="1.9" stroke-linejoin="round" stroke-linecap="square"/>
<path d="M368.23 579.86h2.7v2.7h-2.7zM370.51 579.94h2.7v2.7h-2.7zM372.16 580.11h2.7v2.7h-2.7zM374.51 581.88h2.7v2.7h-2.7zM375.84 584.42h2.7v2.7h-2.7zM377.51 585.45h2.7v2.7h-2.7zM379.48 586.40h2.7v2.7h-2.7zM381.93 587.11h2.7v2.7h-2.7zM384.55 588.37h2.7v2.7h-2.7zM386.74 589.50h2.7v2.7h-2.7zM388.98 591.06h2.7v2.7h-2.7zM390.78 591.64h2.7v2.7h-2.7zM393.74 593.21h2.7v2.7h-2.7zM395.99 594.25h2.7v2.7h-2.7zM398.38 595.48h2.7v2.7h-2.7zM400.96 596.83h2.7v2.7h-2.7zM402.63 597.29h2.7v2.7h-2.7zM404.54 598.50h2.7v2.7h-2.7zM406.20 599.24h2.7v2.7h-2.7zM408.97 600.75h2.7v2.7h-2.7zM410.47 602.88h2.7v2.7h-2.7zM412.02 604.96h2.7v2.7h-2.7zM412.99 606.84h2.7v2.7h-2.7zM414.21 608.65h2.7v2.7h-2.7zM416.48 610.84h2.7v2.7h-2.7zM418.57 611.84h2.7v2.7h-2.7zM420.85 612.24h2.7v2.7h-2.7zM423.34 612.41h2.7v2.7h-2.7zM425.67 612.47h2.7v2.7h-2.7zM428.30 612.48h2.7v2.7h-2.7zM428.71 613.81h2.7v2.7h-2.7zM428.76 615.73h2.7v2.7h-2.7zM428.87 618.27h2.7v2.7h-2.7zM430.79 619.05h2.7v2.7h-2.7zM430.67 622.39h2.7v2.7h-2.7zM431.98 623.59h2.7v2.7h-2.7zM435.37 623.55h2.7v2.7h-2.7zM437.56 623.38h2.7v2.7h-2.7zM440.51 623.68h2.7v2.7h-2.7z" fill="#213F7E"/>
<polyline points="414.40,632.70 441.40,632.70" fill="none" stroke="#A80A2E" stroke-width="0.9"/>
<circle cx="441.40" cy="632.70" r="1.3" fill="#A80A2E"/>
<polyline points="369.80,581.10 372.90,586.00 377.20,590.30 381.50,598.10 388.50,605.00 391.90,610.20 394.50,616.20 399.70,619.70 402.30,624.90 405.80,628.40 411.00,631.00 414.40,632.70" fill="none" stroke="#A80A2E" stroke-width="1.7" stroke-linejoin="round" stroke-linecap="square"/>
<path d="M368.48 580.02h2.4v2.4h-2.4zM369.93 581.92h2.4v2.4h-2.4zM371.22 584.43h2.4v2.4h-2.4zM373.33 586.23h2.4v2.4h-2.4zM375.12 588.09h2.4v2.4h-2.4zM376.90 590.50h2.4v2.4h-2.4zM377.83 592.51h2.4v2.4h-2.4zM378.73 594.35h2.4v2.4h-2.4zM380.05 596.14h2.4v2.4h-2.4zM382.08 598.69h2.4v2.4h-2.4zM383.15 599.85h2.4v2.4h-2.4zM384.72 601.13h2.4v2.4h-2.4zM386.40 603.06h2.4v2.4h-2.4zM387.58 604.66h2.4v2.4h-2.4zM388.86 605.97h2.4v2.4h-2.4zM390.12 607.80h2.4v2.4h-2.4zM390.93 610.06h2.4v2.4h-2.4zM392.08 612.84h2.4v2.4h-2.4zM393.35 614.40h2.4v2.4h-2.4zM394.52 615.77h2.4v2.4h-2.4zM396.73 617.39h2.4v2.4h-2.4zM398.84 619.72h2.4v2.4h-2.4zM400.13 621.96h2.4v2.4h-2.4zM402.24 624.70h2.4v2.4h-2.4zM403.68 626.58h2.4v2.4h-2.4zM406.03 627.72h2.4v2.4h-2.4zM408.51 628.83h2.4v2.4h-2.4zM410.26 630.17h2.4v2.4h-2.4zM412.41 630.85h2.4v2.4h-2.4z" fill="#A80A2E"/>
<text x="407.50" y="616.20" font-size="6.1" text-anchor="middle" fill="#213F7E">94</text>
<text x="388.50" y="623.10" font-size="6.1" text-anchor="middle" fill="#A80A2E">48</text>
<text x="419.50" y="664.94" font-size="9.0" text-anchor="middle" fill="#1a1a1a" textLength="14.20" lengthAdjust="spacingAndGlyphs">Days</text>
<text x="353.20" y="674.44" font-size="5.4" text-anchor="start" fill="#1a1a1a" textLength="26.10" lengthAdjust="spacingAndGlyphs">No. at Risk</text>
<text x="357.40" y="683.42" font-size="5.9" fill="#A80A2E" textLength="13.80" lengthAdjust="spacingAndGlyphs">SOD1</text>
<text x="371.70" y="680.59" font-size="4.13" fill="#A80A2E">high</text>
<text x="358.90" y="689.92" font-size="5.9" fill="#213F7E" textLength="13.80" lengthAdjust="spacingAndGlyphs">SOD1</text>
<text x="373.20" y="687.09" font-size="4.13" fill="#213F7E">low</text>
<text x="380.20" y="683.32" font-size="5.6" text-anchor="end" fill="#A80A2E">:</text>
<text x="380.20" y="689.82" font-size="5.6" text-anchor="end" fill="#213F7E">:</text>
<text x="402.20" y="683.28" font-size="5.5" text-anchor="middle" fill="#A80A2E" textLength="6.90" lengthAdjust="spacingAndGlyphs">13</text>
<text x="402.20" y="689.78" font-size="5.5" text-anchor="middle" fill="#213F7E" textLength="6.90" lengthAdjust="spacingAndGlyphs">55</text>
<text x="432.60" y="683.28" font-size="5.5" text-anchor="middle" fill="#A80A2E" textLength="3.45" lengthAdjust="spacingAndGlyphs">3</text>
<text x="432.60" y="689.78" font-size="5.5" text-anchor="middle" fill="#213F7E" textLength="3.45" lengthAdjust="spacingAndGlyphs">4</text><rect x="0.5" y="0.5" width="519" height="697" fill="none" stroke="#000" stroke-width="1.2"/></svg></body></html>
